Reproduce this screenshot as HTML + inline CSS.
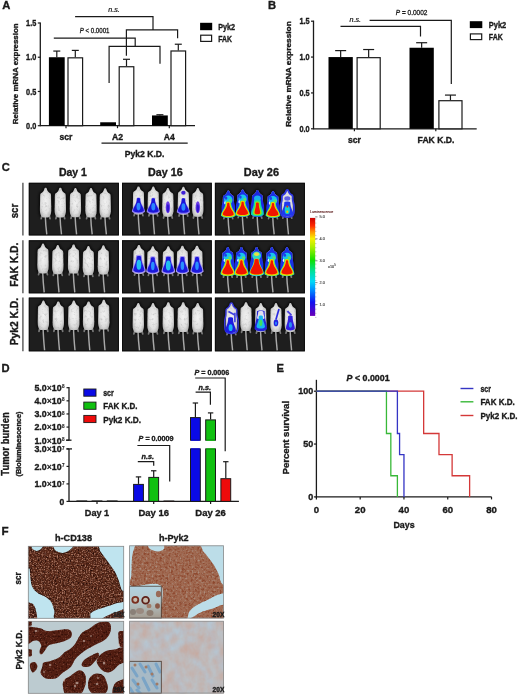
<!DOCTYPE html>
<html><head><meta charset="utf-8"><style>
html,body{margin:0;padding:0;background:#fff;}
body{width:520px;height:696px;overflow:hidden;}
svg{display:block;font-family:"Liberation Sans", sans-serif;filter:blur(0.3px);}
</style></head><body>
<svg width="520" height="696" viewBox="0 0 520 696">
<rect width="520" height="696" fill="#fff"/>
<text x="2.2" y="9.4" font-size="11.2" font-weight="bold" font-style="normal" text-anchor="start" fill="#1a1a1a"  stroke="#1a1a1a" stroke-width="0.35">A</text>
<line x1="40.3" y1="22.4" x2="40.3" y2="126.3" stroke="#1a1a1a" stroke-width="1.3"/>
<line x1="40.3" y1="125.7" x2="195" y2="125.7" stroke="#1a1a1a" stroke-width="1.3"/>
<line x1="37.8" y1="23.0" x2="40.3" y2="23.0" stroke="#1a1a1a" stroke-width="1.2"/>
<text x="36.3" y="26.1" font-size="8.8" font-weight="bold" font-style="normal" text-anchor="end" fill="#1a1a1a" textLength="10.2" lengthAdjust="spacingAndGlyphs"  stroke="#1a1a1a" stroke-width="0.35">1.5</text>
<line x1="37.8" y1="57.233333333333334" x2="40.3" y2="57.233333333333334" stroke="#1a1a1a" stroke-width="1.2"/>
<text x="36.3" y="60.333333333333336" font-size="8.8" font-weight="bold" font-style="normal" text-anchor="end" fill="#1a1a1a" textLength="10.2" lengthAdjust="spacingAndGlyphs"  stroke="#1a1a1a" stroke-width="0.35">1.0</text>
<line x1="37.8" y1="91.46666666666667" x2="40.3" y2="91.46666666666667" stroke="#1a1a1a" stroke-width="1.2"/>
<text x="36.3" y="94.56666666666666" font-size="8.8" font-weight="bold" font-style="normal" text-anchor="end" fill="#1a1a1a" textLength="10.2" lengthAdjust="spacingAndGlyphs"  stroke="#1a1a1a" stroke-width="0.35">0.5</text>
<line x1="37.8" y1="125.7" x2="40.3" y2="125.7" stroke="#1a1a1a" stroke-width="1.2"/>
<text x="36.3" y="128.8" font-size="8.8" font-weight="bold" font-style="normal" text-anchor="end" fill="#1a1a1a" textLength="10.2" lengthAdjust="spacingAndGlyphs"  stroke="#1a1a1a" stroke-width="0.35">0.0</text>
<text transform="translate(18.3,73.8) rotate(-90)" x="0" y="0" font-size="7.8" font-weight="bold" text-anchor="middle" fill="#1a1a1a" textLength="101" lengthAdjust="spacingAndGlyphs" stroke="#1a1a1a" stroke-width="0.35">Relative mRNA expression</text>
<line x1="56.8" y1="51.07133333333333" x2="56.8" y2="57.233333333333334" stroke="#1a1a1a" stroke-width="1.2"/>
<line x1="53.3" y1="51.07133333333333" x2="60.3" y2="51.07133333333333" stroke="#1a1a1a" stroke-width="1.2"/>
<rect x="48.9" y="57.233333333333334" width="15.8" height="68.46666666666667" fill="#000"/>
<line x1="75.30000000000001" y1="50.386666666666656" x2="75.30000000000001" y2="57.233333333333334" stroke="#1a1a1a" stroke-width="1.2"/>
<line x1="71.80000000000001" y1="50.386666666666656" x2="78.80000000000001" y2="50.386666666666656" stroke="#1a1a1a" stroke-width="1.2"/>
<rect x="68.0" y="57.833333333333336" width="14.600000000000001" height="67.86666666666667" fill="#fff" stroke="#1a1a1a" stroke-width="1.2"/>
<rect x="100.2" y="122.27666666666667" width="15.8" height="3.423333333333332" fill="#000"/>
<line x1="126.5" y1="59.287333333333336" x2="126.5" y2="66.134" stroke="#1a1a1a" stroke-width="1.2"/>
<line x1="123.0" y1="59.287333333333336" x2="130.0" y2="59.287333333333336" stroke="#1a1a1a" stroke-width="1.2"/>
<rect x="119.19999999999999" y="66.734" width="14.600000000000001" height="58.966" fill="#fff" stroke="#1a1a1a" stroke-width="1.2"/>
<line x1="159.9" y1="114.74533333333333" x2="159.9" y2="115.43" stroke="#1a1a1a" stroke-width="1.2"/>
<line x1="156.4" y1="114.74533333333333" x2="163.4" y2="114.74533333333333" stroke="#1a1a1a" stroke-width="1.2"/>
<rect x="152.0" y="115.43" width="15.8" height="10.269999999999996" fill="#000"/>
<line x1="178.3" y1="44.22466666666668" x2="178.3" y2="50.386666666666656" stroke="#1a1a1a" stroke-width="1.2"/>
<line x1="174.8" y1="44.22466666666668" x2="181.8" y2="44.22466666666668" stroke="#1a1a1a" stroke-width="1.2"/>
<rect x="171.0" y="50.98666666666666" width="14.600000000000001" height="74.71333333333335" fill="#fff" stroke="#1a1a1a" stroke-width="1.2"/>
<line x1="66" y1="125.7" x2="66" y2="128.2" stroke="#1a1a1a" stroke-width="1.2"/>
<line x1="117.5" y1="125.7" x2="117.5" y2="128.2" stroke="#1a1a1a" stroke-width="1.2"/>
<line x1="169.3" y1="125.7" x2="169.3" y2="128.2" stroke="#1a1a1a" stroke-width="1.2"/>
<text x="66" y="140" font-size="8.6" font-weight="bold" font-style="normal" text-anchor="middle" fill="#1a1a1a"  stroke="#1a1a1a" stroke-width="0.35">scr</text>
<text x="117.5" y="140" font-size="8.6" font-weight="bold" font-style="normal" text-anchor="middle" fill="#1a1a1a"  stroke="#1a1a1a" stroke-width="0.35">A2</text>
<text x="169.3" y="140" font-size="8.6" font-weight="bold" font-style="normal" text-anchor="middle" fill="#1a1a1a"  stroke="#1a1a1a" stroke-width="0.35">A4</text>
<line x1="101.5" y1="143.1" x2="187.7" y2="143.1" stroke="#1a1a1a" stroke-width="1.3"/>
<text x="144.6" y="156.6" font-size="8.6" font-weight="bold" font-style="normal" text-anchor="middle" fill="#1a1a1a"  stroke="#1a1a1a" stroke-width="0.35">Pyk2 K.D.</text>
<polyline points="75.1,16.7 153,16.7 153,30" fill="none" stroke="#1a1a1a" stroke-width="1.2"/>
<polyline points="126.4,55.8 126.4,29.8 177.6,29.8 177.6,38.2" fill="none" stroke="#1a1a1a" stroke-width="1.2"/>
<polyline points="53.8,38.1 135.2,38.1 135.2,46.3" fill="none" stroke="#1a1a1a" stroke-width="1.2"/>
<polyline points="109.1,83 109.1,46.3 160,46.3 160,63.8" fill="none" stroke="#1a1a1a" stroke-width="1.2"/>
<text x="108.2" y="11.8" font-size="7.2" font-weight="normal" font-style="italic" text-anchor="start" fill="#1a1a1a" stroke="#1a1a1a" stroke-width="0.2">n.s.</text>
<text x="79.7" y="33.2" font-size="7.2" fill="#1a1a1a" stroke="#1a1a1a" stroke-width="0.3" textLength="29.8" lengthAdjust="spacingAndGlyphs"><tspan font-style="italic">P</tspan> &lt; 0.0001</text>
<rect x="200.1" y="22.8" width="12.1" height="7.4" fill="#000"/>
<rect x="200.7" y="35.2" width="10.9" height="6.2" fill="#fff" stroke="#1a1a1a" stroke-width="1.2"/>
<text x="218.3" y="30.3" font-size="8.6" font-weight="bold" font-style="normal" text-anchor="start" fill="#1a1a1a" textLength="16.8" lengthAdjust="spacingAndGlyphs"  stroke="#1a1a1a" stroke-width="0.35">Pyk2</text>
<text x="218.3" y="41.6" font-size="8.6" font-weight="bold" font-style="normal" text-anchor="start" fill="#1a1a1a" textLength="13.7" lengthAdjust="spacingAndGlyphs"  stroke="#1a1a1a" stroke-width="0.35">FAK</text>
<text x="268" y="9.3" font-size="11.2" font-weight="bold" font-style="normal" text-anchor="start" fill="#1a1a1a"  stroke="#1a1a1a" stroke-width="0.35">B</text>
<line x1="313.5" y1="20.599999999999998" x2="313.5" y2="129.4" stroke="#1a1a1a" stroke-width="1.3"/>
<line x1="313.5" y1="128.8" x2="476.7" y2="128.8" stroke="#1a1a1a" stroke-width="1.3"/>
<line x1="311.0" y1="21.200000000000003" x2="313.5" y2="21.200000000000003" stroke="#1a1a1a" stroke-width="1.2"/>
<text x="309.6" y="24.300000000000004" font-size="8.8" font-weight="bold" font-style="normal" text-anchor="end" fill="#1a1a1a" textLength="10.2" lengthAdjust="spacingAndGlyphs"  stroke="#1a1a1a" stroke-width="0.35">1.5</text>
<line x1="311.0" y1="57.06666666666668" x2="313.5" y2="57.06666666666668" stroke="#1a1a1a" stroke-width="1.2"/>
<text x="309.6" y="60.16666666666668" font-size="8.8" font-weight="bold" font-style="normal" text-anchor="end" fill="#1a1a1a" textLength="10.2" lengthAdjust="spacingAndGlyphs"  stroke="#1a1a1a" stroke-width="0.35">1.0</text>
<line x1="311.0" y1="92.93333333333334" x2="313.5" y2="92.93333333333334" stroke="#1a1a1a" stroke-width="1.2"/>
<text x="309.6" y="96.03333333333333" font-size="8.8" font-weight="bold" font-style="normal" text-anchor="end" fill="#1a1a1a" textLength="10.2" lengthAdjust="spacingAndGlyphs"  stroke="#1a1a1a" stroke-width="0.35">0.5</text>
<line x1="311.0" y1="128.8" x2="313.5" y2="128.8" stroke="#1a1a1a" stroke-width="1.2"/>
<text x="309.6" y="131.9" font-size="8.8" font-weight="bold" font-style="normal" text-anchor="end" fill="#1a1a1a" textLength="10.2" lengthAdjust="spacingAndGlyphs"  stroke="#1a1a1a" stroke-width="0.35">0.0</text>
<text transform="translate(290.6,74.0) rotate(-90)" x="0" y="0" font-size="7.6" font-weight="bold" text-anchor="middle" fill="#1a1a1a" textLength="105.5" lengthAdjust="spacingAndGlyphs" stroke="#1a1a1a" stroke-width="0.35">Relative mRNA expression</text>
<line x1="340.65" y1="50.61066666666666" x2="340.65" y2="57.06666666666668" stroke="#1a1a1a" stroke-width="1.2"/>
<line x1="335.15" y1="50.61066666666666" x2="346.15" y2="50.61066666666666" stroke="#1a1a1a" stroke-width="1.2"/>
<rect x="328.5" y="57.06666666666668" width="24.3" height="71.73333333333333" fill="#000"/>
<line x1="368.65" y1="49.534666666666666" x2="368.65" y2="57.06666666666668" stroke="#1a1a1a" stroke-width="1.2"/>
<line x1="363.15" y1="49.534666666666666" x2="374.15" y2="49.534666666666666" stroke="#1a1a1a" stroke-width="1.2"/>
<rect x="357.1" y="57.66666666666668" width="23.1" height="71.13333333333334" fill="#fff" stroke="#1a1a1a" stroke-width="1.2"/>
<line x1="421.65" y1="42.72000000000001" x2="421.65" y2="47.741333333333344" stroke="#1a1a1a" stroke-width="1.2"/>
<line x1="416.15" y1="42.72000000000001" x2="427.15" y2="42.72000000000001" stroke="#1a1a1a" stroke-width="1.2"/>
<rect x="409.5" y="47.741333333333344" width="24.3" height="81.05866666666667" fill="#000"/>
<line x1="450.45" y1="95.08533333333335" x2="450.45" y2="100.10666666666667" stroke="#1a1a1a" stroke-width="1.2"/>
<line x1="444.95" y1="95.08533333333335" x2="455.95" y2="95.08533333333335" stroke="#1a1a1a" stroke-width="1.2"/>
<rect x="438.90000000000003" y="100.70666666666666" width="23.1" height="28.09333333333334" fill="#fff" stroke="#1a1a1a" stroke-width="1.2"/>
<line x1="354.4" y1="128.8" x2="354.4" y2="131.3" stroke="#1a1a1a" stroke-width="1.2"/>
<line x1="435.8" y1="128.8" x2="435.8" y2="131.3" stroke="#1a1a1a" stroke-width="1.2"/>
<text x="354.5" y="143.2" font-size="8.6" font-weight="bold" font-style="normal" text-anchor="middle" fill="#1a1a1a"  stroke="#1a1a1a" stroke-width="0.35">scr</text>
<text x="436" y="143.2" font-size="8.6" font-weight="bold" font-style="normal" text-anchor="middle" fill="#1a1a1a"  stroke="#1a1a1a" stroke-width="0.35">FAK K.D.</text>
<polyline points="340.5,26.4 420.5,26.4 420.5,36.4" fill="none" stroke="#1a1a1a" stroke-width="1.2"/>
<polyline points="369.6,20.4 451.3,20.4 451.3,84" fill="none" stroke="#1a1a1a" stroke-width="1.2"/>
<text x="349.5" y="22.4" font-size="7.2" font-weight="normal" font-style="italic" text-anchor="start" fill="#1a1a1a" stroke="#1a1a1a" stroke-width="0.2">n.s.</text>
<text x="395.8" y="14.8" font-size="7.2" fill="#1a1a1a" stroke="#1a1a1a" stroke-width="0.3" textLength="31.7" lengthAdjust="spacingAndGlyphs"><tspan font-style="italic">P</tspan> = 0.0002</text>
<rect x="469.8" y="21.2" width="12.5" height="6.9" fill="#000"/>
<rect x="470.4" y="33.9" width="11.3" height="5.7" fill="#fff" stroke="#1a1a1a" stroke-width="1.2"/>
<text x="488.8" y="28.3" font-size="8.6" font-weight="bold" font-style="normal" text-anchor="start" fill="#1a1a1a" textLength="17.4" lengthAdjust="spacingAndGlyphs"  stroke="#1a1a1a" stroke-width="0.35">Pyk2</text>
<text x="488.8" y="40.0" font-size="8.6" font-weight="bold" font-style="normal" text-anchor="start" fill="#1a1a1a" textLength="14.0" lengthAdjust="spacingAndGlyphs"  stroke="#1a1a1a" stroke-width="0.35">FAK</text>
<defs>
<filter color-interpolation-filters="sRGB" id="bl6" x="-20%" y="-20%" width="140%" height="140%"><feGaussianBlur stdDeviation="0.5"/></filter>
<filter color-interpolation-filters="sRGB" id="bl8" x="-50%" y="-50%" width="200%" height="200%"><feGaussianBlur stdDeviation="0.75"/></filter>
<filter color-interpolation-filters="sRGB" id="bl12" x="-50%" y="-50%" width="200%" height="200%"><feGaussianBlur stdDeviation="1.2"/></filter>
<filter color-interpolation-filters="sRGB" id="mtex" x="0" y="0" width="100%" height="100%"><feTurbulence type="fractalNoise" baseFrequency="0.38" numOctaves="2" seed="3" result="n"/>
<feColorMatrix in="n" type="matrix" values="0 0 0 0 0.72  0 0 0 0 0.72  0 0 0 0 0.72  0 0 0 -1.8 0.85" result="sp"/>
<feComposite in="sp" in2="SourceGraphic" operator="in" result="sp2"/>
<feMerge><feMergeNode in="SourceGraphic"/><feMergeNode in="sp2"/></feMerge></filter>
<radialGradient id="mg" cx="0.5" cy="0.5" r="0.62"><stop offset="0" stop-color="#f2f2f2"/><stop offset="0.6" stop-color="#e0e0e0"/><stop offset="1" stop-color="#a8a8a8"/></radialGradient>
<linearGradient id="lum" x1="0" y1="0" x2="0" y2="1">
<stop offset="0" stop-color="#c80000"/><stop offset="0.08" stop-color="#ff2800"/><stop offset="0.14" stop-color="#ff9000"/><stop offset="0.21" stop-color="#f8f000"/>
<stop offset="0.3" stop-color="#a8f000"/><stop offset="0.43" stop-color="#10e000"/><stop offset="0.55" stop-color="#00e0a0"/><stop offset="0.65" stop-color="#00d8f8"/>
<stop offset="0.75" stop-color="#0080ff"/><stop offset="0.86" stop-color="#1010f0"/><stop offset="1" stop-color="#6a00b8"/></linearGradient>
</defs>
<rect x="28.8" y="182.8" width="90.10000000000001" height="52.599999999999994" fill="#1e1e1e"/>
<rect x="29.3" y="183.3" width="89.10000000000001" height="51.599999999999994" fill="none" stroke="#0c0c0c" stroke-width="1"/>
<rect x="28.8" y="240.3" width="90.10000000000001" height="53.0" fill="#1e1e1e"/>
<rect x="29.3" y="240.8" width="89.10000000000001" height="52.0" fill="none" stroke="#0c0c0c" stroke-width="1"/>
<rect x="28.8" y="297.6" width="90.10000000000001" height="53.69999999999999" fill="#1e1e1e"/>
<rect x="29.3" y="298.1" width="89.10000000000001" height="52.69999999999999" fill="none" stroke="#0c0c0c" stroke-width="1"/>
<rect x="122" y="182.8" width="89.80000000000001" height="52.599999999999994" fill="#1e1e1e"/>
<rect x="122.5" y="183.3" width="88.80000000000001" height="51.599999999999994" fill="none" stroke="#0c0c0c" stroke-width="1"/>
<rect x="122" y="240.3" width="89.80000000000001" height="53.0" fill="#1e1e1e"/>
<rect x="122.5" y="240.8" width="88.80000000000001" height="52.0" fill="none" stroke="#0c0c0c" stroke-width="1"/>
<rect x="122" y="297.6" width="89.80000000000001" height="53.69999999999999" fill="#1e1e1e"/>
<rect x="122.5" y="298.1" width="88.80000000000001" height="52.69999999999999" fill="none" stroke="#0c0c0c" stroke-width="1"/>
<rect x="214.9" y="182.8" width="89.99999999999997" height="52.599999999999994" fill="#1e1e1e"/>
<rect x="215.4" y="183.3" width="88.99999999999997" height="51.599999999999994" fill="none" stroke="#0c0c0c" stroke-width="1"/>
<rect x="214.9" y="240.3" width="89.99999999999997" height="53.0" fill="#1e1e1e"/>
<rect x="215.4" y="240.8" width="88.99999999999997" height="52.0" fill="none" stroke="#0c0c0c" stroke-width="1"/>
<rect x="214.9" y="297.6" width="89.99999999999997" height="53.69999999999999" fill="#1e1e1e"/>
<rect x="215.4" y="298.1" width="88.99999999999997" height="52.69999999999999" fill="none" stroke="#0c0c0c" stroke-width="1"/>
<text x="72.9" y="176.2" font-size="10.6" font-weight="bold" font-style="normal" text-anchor="middle" fill="#1a1a1a" textLength="28" lengthAdjust="spacingAndGlyphs"  stroke="#1a1a1a" stroke-width="0.35">Day 1</text>
<text x="165.4" y="176.2" font-size="10.6" font-weight="bold" font-style="normal" text-anchor="middle" fill="#1a1a1a" textLength="34.6" lengthAdjust="spacingAndGlyphs"  stroke="#1a1a1a" stroke-width="0.35">Day 16</text>
<text x="261.4" y="176.2" font-size="10.6" font-weight="bold" font-style="normal" text-anchor="middle" fill="#1a1a1a" textLength="35.2" lengthAdjust="spacingAndGlyphs"  stroke="#1a1a1a" stroke-width="0.35">Day 26</text>
<line x1="22.9" y1="182.8" x2="22.9" y2="235.4" stroke="#606060" stroke-width="1.5"/>
<text transform="translate(18.4,211) rotate(-90)" font-size="10.4" font-weight="bold" text-anchor="middle" fill="#1a1a1a" textLength="14.6" lengthAdjust="spacingAndGlyphs" stroke="#1a1a1a" stroke-width="0.35">scr</text>
<line x1="22.9" y1="240.3" x2="22.9" y2="293.3" stroke="#606060" stroke-width="1.5"/>
<text transform="translate(18.4,264.7) rotate(-90)" font-size="10.4" font-weight="bold" text-anchor="middle" fill="#1a1a1a" textLength="43.9" lengthAdjust="spacingAndGlyphs" stroke="#1a1a1a" stroke-width="0.35">FAK K.D.</text>
<line x1="22.9" y1="297.6" x2="22.9" y2="351.3" stroke="#606060" stroke-width="1.5"/>
<text transform="translate(18.4,321.6) rotate(-90)" font-size="10.4" font-weight="bold" text-anchor="middle" fill="#1a1a1a" textLength="47.4" lengthAdjust="spacingAndGlyphs" stroke="#1a1a1a" stroke-width="0.35">Pyk2 K.D.</text>
<g filter="url(#bl12)" opacity="0.8">
<path d="M45.6,187.7 C45.9,187.7 46.2,187.8 46.5,188.1 C46.8,188.4 46.9,189.2 47.1,189.7 C47.3,190.2 47.5,190.7 47.8,191.2 C48.1,191.6 48.5,192.0 49.0,192.4 C49.5,192.8 50.2,193.0 50.5,193.5 C50.8,193.9 50.9,194.1 51.0,195.0 C51.1,196.0 51.1,197.6 51.1,199.2 C51.1,200.8 51.2,202.8 51.2,204.4 C51.2,206.1 51.3,207.7 51.3,209.2 C51.3,210.6 51.2,212.2 51.0,213.3 C50.8,214.5 50.3,215.5 49.8,216.2 C49.3,216.8 48.9,217.2 47.8,217.4 C46.7,217.6 44.5,217.6 43.4,217.4 C42.3,217.2 41.9,216.8 41.4,216.2 C40.9,215.5 40.5,214.5 40.2,213.3 C40.0,212.2 39.9,210.6 39.9,209.2 C39.9,207.7 40.0,206.1 40.0,204.4 C40.0,202.8 40.1,200.8 40.1,199.2 C40.1,197.6 40.1,196.0 40.2,195.0 C40.3,194.1 40.4,193.9 40.7,193.5 C41.0,193.0 41.8,192.8 42.2,192.4 C42.7,192.0 43.1,191.6 43.4,191.2 C43.7,190.7 43.9,190.2 44.1,189.7 C44.3,189.2 44.5,188.4 44.7,188.1 C45.0,187.8 45.3,187.7 45.6,187.7 Z" fill="#050505" stroke="#050505" stroke-width="2.6"/>
<path d="M60.3,187.7 C60.6,187.7 60.9,187.8 61.2,188.1 C61.4,188.4 61.6,189.2 61.8,189.7 C62.0,190.2 62.2,190.7 62.5,191.2 C62.8,191.6 63.2,192.0 63.7,192.4 C64.1,192.8 64.9,193.0 65.2,193.5 C65.5,193.9 65.6,194.1 65.7,195.0 C65.8,196.0 65.8,197.6 65.8,199.2 C65.8,200.8 65.9,202.8 65.9,204.4 C65.9,206.1 66.0,207.7 66.0,209.2 C66.0,210.6 66.0,212.2 65.7,213.3 C65.5,214.5 65.0,215.5 64.5,216.2 C64.0,216.8 63.6,217.2 62.5,217.4 C61.4,217.6 59.2,217.6 58.1,217.4 C57.0,217.2 56.6,216.8 56.1,216.2 C55.6,215.5 55.1,214.5 54.9,213.3 C54.6,212.2 54.6,210.6 54.6,209.2 C54.6,207.7 54.7,206.1 54.7,204.4 C54.7,202.8 54.8,200.8 54.8,199.2 C54.8,197.6 54.8,196.0 54.9,195.0 C55.0,194.1 55.1,193.9 55.4,193.5 C55.7,193.0 56.5,192.8 56.9,192.4 C57.3,192.0 57.8,191.6 58.1,191.2 C58.4,190.7 58.6,190.2 58.8,189.7 C59.0,189.2 59.1,188.4 59.4,188.1 C59.6,187.8 60.0,187.7 60.3,187.7 Z" fill="#050505" stroke="#050505" stroke-width="2.6"/>
<path d="M75.4,188.0 C75.7,188.0 76.1,188.1 76.3,188.4 C76.6,188.7 76.7,189.5 76.9,190.0 C77.1,190.5 77.3,190.9 77.6,191.4 C77.9,191.8 78.4,192.3 78.8,192.6 C79.3,193.0 80.0,193.2 80.3,193.7 C80.6,194.1 80.7,194.3 80.8,195.2 C80.9,196.1 80.9,197.8 80.9,199.3 C80.9,200.9 81.0,202.8 81.0,204.5 C81.0,206.1 81.1,207.6 81.1,209.1 C81.1,210.5 81.1,212.1 80.8,213.2 C80.6,214.3 80.1,215.3 79.6,216.0 C79.1,216.6 78.7,217.0 77.6,217.2 C76.5,217.4 74.3,217.4 73.2,217.2 C72.1,217.0 71.7,216.6 71.2,216.0 C70.7,215.3 70.2,214.3 70.0,213.2 C69.8,212.1 69.7,210.5 69.7,209.1 C69.7,207.6 69.8,206.1 69.8,204.5 C69.8,202.8 69.9,200.9 69.9,199.3 C69.9,197.8 69.9,196.1 70.0,195.2 C70.1,194.3 70.2,194.1 70.5,193.7 C70.8,193.2 71.5,193.0 72.0,192.6 C72.5,192.3 72.9,191.8 73.2,191.4 C73.5,190.9 73.7,190.5 73.9,190.0 C74.1,189.5 74.2,188.7 74.5,188.4 C74.8,188.1 75.1,188.0 75.4,188.0 Z" fill="#050505" stroke="#050505" stroke-width="2.6"/>
<path d="M91.0,188.0 C91.3,188.0 91.7,188.1 91.9,188.4 C92.2,188.7 92.3,189.5 92.5,190.0 C92.7,190.5 92.9,191.0 93.2,191.4 C93.5,191.9 94.0,192.3 94.4,192.7 C94.9,193.0 95.6,193.3 95.9,193.7 C96.2,194.1 96.3,194.3 96.4,195.2 C96.5,196.2 96.5,197.8 96.5,199.4 C96.5,200.9 96.6,202.9 96.6,204.6 C96.6,206.2 96.7,207.8 96.7,209.2 C96.7,210.7 96.7,212.2 96.4,213.4 C96.2,214.5 95.7,215.5 95.2,216.2 C94.7,216.8 94.3,217.2 93.2,217.4 C92.1,217.6 89.9,217.6 88.8,217.4 C87.7,217.2 87.3,216.8 86.8,216.2 C86.3,215.5 85.8,214.5 85.6,213.4 C85.3,212.2 85.3,210.7 85.3,209.2 C85.3,207.8 85.4,206.2 85.4,204.6 C85.4,202.9 85.5,200.9 85.5,199.4 C85.5,197.8 85.5,196.2 85.6,195.2 C85.7,194.3 85.8,194.1 86.1,193.7 C86.4,193.3 87.1,193.0 87.6,192.7 C88.0,192.3 88.5,191.9 88.8,191.4 C89.1,191.0 89.3,190.5 89.5,190.0 C89.7,189.5 89.8,188.7 90.1,188.4 C90.3,188.1 90.7,188.0 91.0,188.0 Z" fill="#050505" stroke="#050505" stroke-width="2.6"/>
<path d="M105.2,188.3 C105.5,188.3 105.9,188.4 106.1,188.7 C106.4,189.0 106.5,189.8 106.7,190.3 C106.9,190.8 107.1,191.2 107.4,191.7 C107.7,192.1 108.2,192.6 108.6,192.9 C109.1,193.3 109.8,193.5 110.1,194.0 C110.4,194.4 110.5,194.6 110.6,195.5 C110.7,196.4 110.7,198.1 110.7,199.6 C110.7,201.2 110.8,203.1 110.8,204.8 C110.8,206.4 110.9,207.9 110.9,209.4 C110.9,210.8 110.9,212.4 110.6,213.5 C110.4,214.6 109.9,215.6 109.4,216.3 C108.9,216.9 108.5,217.3 107.4,217.5 C106.3,217.7 104.1,217.7 103.0,217.5 C101.9,217.3 101.5,216.9 101.0,216.3 C100.5,215.6 100.0,214.6 99.8,213.5 C99.5,212.4 99.5,210.8 99.5,209.4 C99.5,207.9 99.6,206.4 99.6,204.8 C99.6,203.1 99.7,201.2 99.7,199.6 C99.7,198.1 99.7,196.4 99.8,195.5 C99.9,194.6 100.0,194.4 100.3,194.0 C100.6,193.5 101.3,193.3 101.8,192.9 C102.2,192.6 102.7,192.1 103.0,191.7 C103.3,191.2 103.5,190.8 103.7,190.3 C103.9,189.8 104.0,189.0 104.3,188.7 C104.5,188.4 104.9,188.3 105.2,188.3 Z" fill="#050505" stroke="#050505" stroke-width="2.6"/>
</g>
<g filter="url(#bl6)">
<path d="M45.300000000000004,216.0 Q45.6,225.0 46.800000000000004,234.4" stroke="#a8a8a8" stroke-width="1.45" fill="none"/>
<path d="M42.0,215.5 L41.2,218.6 M49.2,215.5 L50.0,218.6" stroke="#7a7a7a" stroke-width="1.8" stroke-linecap="round"/>
<path d="M60.0,216.0 Q60.3,225.0 61.5,234.4" stroke="#a8a8a8" stroke-width="1.45" fill="none"/>
<path d="M56.699999999999996,215.5 L55.9,218.6 M63.9,215.5 L64.7,218.6" stroke="#7a7a7a" stroke-width="1.8" stroke-linecap="round"/>
<path d="M75.10000000000001,215.8 Q75.4,224.8 76.60000000000001,234.4" stroke="#a8a8a8" stroke-width="1.45" fill="none"/>
<path d="M71.80000000000001,215.3 L71.0,218.4 M79.0,215.3 L79.80000000000001,218.4" stroke="#7a7a7a" stroke-width="1.8" stroke-linecap="round"/>
<path d="M90.7,216.0 Q91.0,225.0 92.2,234.4" stroke="#a8a8a8" stroke-width="1.45" fill="none"/>
<path d="M87.4,215.5 L86.6,218.6 M94.6,215.5 L95.4,218.6" stroke="#7a7a7a" stroke-width="1.8" stroke-linecap="round"/>
<path d="M104.9,216.10000000000002 Q105.2,225.10000000000002 106.4,234.4" stroke="#a8a8a8" stroke-width="1.45" fill="none"/>
<path d="M101.60000000000001,215.60000000000002 L100.8,218.70000000000002 M108.8,215.60000000000002 L109.60000000000001,218.70000000000002" stroke="#7a7a7a" stroke-width="1.8" stroke-linecap="round"/>
</g>
<g filter="url(#bl6)"><g filter="url(#mtex)">
<path d="M45.6,187.7 C45.9,187.7 46.2,187.8 46.5,188.1 C46.8,188.4 46.9,189.2 47.1,189.7 C47.3,190.2 47.5,190.7 47.8,191.2 C48.1,191.6 48.5,192.0 49.0,192.4 C49.5,192.8 50.2,193.0 50.5,193.5 C50.8,193.9 50.9,194.1 51.0,195.0 C51.1,196.0 51.1,197.6 51.1,199.2 C51.1,200.8 51.2,202.8 51.2,204.4 C51.2,206.1 51.3,207.7 51.3,209.2 C51.3,210.6 51.2,212.2 51.0,213.3 C50.8,214.5 50.3,215.5 49.8,216.2 C49.3,216.8 48.9,217.2 47.8,217.4 C46.7,217.6 44.5,217.6 43.4,217.4 C42.3,217.2 41.9,216.8 41.4,216.2 C40.9,215.5 40.5,214.5 40.2,213.3 C40.0,212.2 39.9,210.6 39.9,209.2 C39.9,207.7 40.0,206.1 40.0,204.4 C40.0,202.8 40.1,200.8 40.1,199.2 C40.1,197.6 40.1,196.0 40.2,195.0 C40.3,194.1 40.4,193.9 40.7,193.5 C41.0,193.0 41.8,192.8 42.2,192.4 C42.7,192.0 43.1,191.6 43.4,191.2 C43.7,190.7 43.9,190.2 44.1,189.7 C44.3,189.2 44.5,188.4 44.7,188.1 C45.0,187.8 45.3,187.7 45.6,187.7 Z" fill="url(#mg)"/>
<path d="M60.3,187.7 C60.6,187.7 60.9,187.8 61.2,188.1 C61.4,188.4 61.6,189.2 61.8,189.7 C62.0,190.2 62.2,190.7 62.5,191.2 C62.8,191.6 63.2,192.0 63.7,192.4 C64.1,192.8 64.9,193.0 65.2,193.5 C65.5,193.9 65.6,194.1 65.7,195.0 C65.8,196.0 65.8,197.6 65.8,199.2 C65.8,200.8 65.9,202.8 65.9,204.4 C65.9,206.1 66.0,207.7 66.0,209.2 C66.0,210.6 66.0,212.2 65.7,213.3 C65.5,214.5 65.0,215.5 64.5,216.2 C64.0,216.8 63.6,217.2 62.5,217.4 C61.4,217.6 59.2,217.6 58.1,217.4 C57.0,217.2 56.6,216.8 56.1,216.2 C55.6,215.5 55.1,214.5 54.9,213.3 C54.6,212.2 54.6,210.6 54.6,209.2 C54.6,207.7 54.7,206.1 54.7,204.4 C54.7,202.8 54.8,200.8 54.8,199.2 C54.8,197.6 54.8,196.0 54.9,195.0 C55.0,194.1 55.1,193.9 55.4,193.5 C55.7,193.0 56.5,192.8 56.9,192.4 C57.3,192.0 57.8,191.6 58.1,191.2 C58.4,190.7 58.6,190.2 58.8,189.7 C59.0,189.2 59.1,188.4 59.4,188.1 C59.6,187.8 60.0,187.7 60.3,187.7 Z" fill="url(#mg)"/>
<path d="M75.4,188.0 C75.7,188.0 76.1,188.1 76.3,188.4 C76.6,188.7 76.7,189.5 76.9,190.0 C77.1,190.5 77.3,190.9 77.6,191.4 C77.9,191.8 78.4,192.3 78.8,192.6 C79.3,193.0 80.0,193.2 80.3,193.7 C80.6,194.1 80.7,194.3 80.8,195.2 C80.9,196.1 80.9,197.8 80.9,199.3 C80.9,200.9 81.0,202.8 81.0,204.5 C81.0,206.1 81.1,207.6 81.1,209.1 C81.1,210.5 81.1,212.1 80.8,213.2 C80.6,214.3 80.1,215.3 79.6,216.0 C79.1,216.6 78.7,217.0 77.6,217.2 C76.5,217.4 74.3,217.4 73.2,217.2 C72.1,217.0 71.7,216.6 71.2,216.0 C70.7,215.3 70.2,214.3 70.0,213.2 C69.8,212.1 69.7,210.5 69.7,209.1 C69.7,207.6 69.8,206.1 69.8,204.5 C69.8,202.8 69.9,200.9 69.9,199.3 C69.9,197.8 69.9,196.1 70.0,195.2 C70.1,194.3 70.2,194.1 70.5,193.7 C70.8,193.2 71.5,193.0 72.0,192.6 C72.5,192.3 72.9,191.8 73.2,191.4 C73.5,190.9 73.7,190.5 73.9,190.0 C74.1,189.5 74.2,188.7 74.5,188.4 C74.8,188.1 75.1,188.0 75.4,188.0 Z" fill="url(#mg)"/>
<path d="M91.0,188.0 C91.3,188.0 91.7,188.1 91.9,188.4 C92.2,188.7 92.3,189.5 92.5,190.0 C92.7,190.5 92.9,191.0 93.2,191.4 C93.5,191.9 94.0,192.3 94.4,192.7 C94.9,193.0 95.6,193.3 95.9,193.7 C96.2,194.1 96.3,194.3 96.4,195.2 C96.5,196.2 96.5,197.8 96.5,199.4 C96.5,200.9 96.6,202.9 96.6,204.6 C96.6,206.2 96.7,207.8 96.7,209.2 C96.7,210.7 96.7,212.2 96.4,213.4 C96.2,214.5 95.7,215.5 95.2,216.2 C94.7,216.8 94.3,217.2 93.2,217.4 C92.1,217.6 89.9,217.6 88.8,217.4 C87.7,217.2 87.3,216.8 86.8,216.2 C86.3,215.5 85.8,214.5 85.6,213.4 C85.3,212.2 85.3,210.7 85.3,209.2 C85.3,207.8 85.4,206.2 85.4,204.6 C85.4,202.9 85.5,200.9 85.5,199.4 C85.5,197.8 85.5,196.2 85.6,195.2 C85.7,194.3 85.8,194.1 86.1,193.7 C86.4,193.3 87.1,193.0 87.6,192.7 C88.0,192.3 88.5,191.9 88.8,191.4 C89.1,191.0 89.3,190.5 89.5,190.0 C89.7,189.5 89.8,188.7 90.1,188.4 C90.3,188.1 90.7,188.0 91.0,188.0 Z" fill="url(#mg)"/>
<path d="M105.2,188.3 C105.5,188.3 105.9,188.4 106.1,188.7 C106.4,189.0 106.5,189.8 106.7,190.3 C106.9,190.8 107.1,191.2 107.4,191.7 C107.7,192.1 108.2,192.6 108.6,192.9 C109.1,193.3 109.8,193.5 110.1,194.0 C110.4,194.4 110.5,194.6 110.6,195.5 C110.7,196.4 110.7,198.1 110.7,199.6 C110.7,201.2 110.8,203.1 110.8,204.8 C110.8,206.4 110.9,207.9 110.9,209.4 C110.9,210.8 110.9,212.4 110.6,213.5 C110.4,214.6 109.9,215.6 109.4,216.3 C108.9,216.9 108.5,217.3 107.4,217.5 C106.3,217.7 104.1,217.7 103.0,217.5 C101.9,217.3 101.5,216.9 101.0,216.3 C100.5,215.6 100.0,214.6 99.8,213.5 C99.5,212.4 99.5,210.8 99.5,209.4 C99.5,207.9 99.6,206.4 99.6,204.8 C99.6,203.1 99.7,201.2 99.7,199.6 C99.7,198.1 99.7,196.4 99.8,195.5 C99.9,194.6 100.0,194.4 100.3,194.0 C100.6,193.5 101.3,193.3 101.8,192.9 C102.2,192.6 102.7,192.1 103.0,191.7 C103.3,191.2 103.5,190.8 103.7,190.3 C103.9,189.8 104.0,189.0 104.3,188.7 C104.5,188.4 104.9,188.3 105.2,188.3 Z" fill="url(#mg)"/>
</g></g>
<g filter="url(#bl12)" opacity="0.8">
<path d="M138.5,186.4 C138.8,186.4 139.2,186.5 139.4,186.8 C139.7,187.1 139.8,187.8 140.0,188.3 C140.2,188.7 140.4,189.2 140.7,189.7 C141.0,190.1 141.4,190.5 141.9,190.8 C142.4,191.2 143.1,191.4 143.4,191.8 C143.7,192.2 143.8,192.4 143.9,193.3 C144.0,194.2 144.0,195.8 144.0,197.2 C144.0,198.7 144.1,200.6 144.1,202.2 C144.1,203.7 144.2,205.2 144.2,206.6 C144.2,208.0 144.2,209.4 143.9,210.6 C143.7,211.7 143.2,212.6 142.7,213.2 C142.2,213.9 141.8,214.2 140.7,214.4 C139.6,214.6 137.4,214.6 136.3,214.4 C135.2,214.2 134.8,213.9 134.3,213.2 C133.8,212.6 133.3,211.7 133.1,210.6 C132.8,209.4 132.8,208.0 132.8,206.6 C132.8,205.2 132.9,203.7 132.9,202.2 C132.9,200.6 133.0,198.7 133.0,197.2 C133.0,195.8 133.0,194.2 133.1,193.3 C133.2,192.4 133.3,192.2 133.6,191.8 C133.9,191.4 134.6,191.2 135.1,190.8 C135.6,190.5 136.0,190.1 136.3,189.7 C136.6,189.2 136.8,188.7 137.0,188.3 C137.2,187.8 137.3,187.1 137.6,186.8 C137.8,186.5 138.2,186.4 138.5,186.4 Z" fill="#050505" stroke="#050505" stroke-width="2.6"/>
<path d="M153.3,186.6 C153.6,186.6 154.0,186.7 154.2,187.0 C154.5,187.3 154.6,188.0 154.8,188.5 C155.0,188.9 155.2,189.4 155.5,189.9 C155.8,190.3 156.2,190.7 156.7,191.0 C157.2,191.4 157.9,191.6 158.2,192.0 C158.5,192.4 158.6,192.6 158.7,193.5 C158.8,194.4 158.8,196.0 158.8,197.4 C158.8,198.9 158.9,200.8 158.9,202.4 C158.9,203.9 159.0,205.4 159.0,206.8 C159.0,208.2 159.0,209.6 158.7,210.8 C158.5,211.9 158.0,212.8 157.5,213.4 C157.0,214.1 156.6,214.4 155.5,214.6 C154.4,214.8 152.2,214.8 151.1,214.6 C150.0,214.4 149.6,214.1 149.1,213.4 C148.6,212.8 148.2,211.9 147.9,210.8 C147.7,209.6 147.6,208.2 147.6,206.8 C147.6,205.4 147.7,203.9 147.7,202.4 C147.7,200.8 147.8,198.9 147.8,197.4 C147.8,196.0 147.8,194.4 147.9,193.5 C148.0,192.6 148.1,192.4 148.4,192.0 C148.7,191.6 149.4,191.4 149.9,191.0 C150.4,190.7 150.8,190.3 151.1,189.9 C151.4,189.4 151.6,188.9 151.8,188.5 C152.0,188.0 152.2,187.3 152.4,187.0 C152.7,186.7 153.0,186.6 153.3,186.6 Z" fill="#050505" stroke="#050505" stroke-width="2.6"/>
<path d="M167.9,188.0 C168.2,188.0 168.6,188.1 168.8,188.4 C169.1,188.7 169.2,189.4 169.4,189.9 C169.6,190.4 169.8,190.9 170.1,191.3 C170.4,191.8 170.9,192.2 171.3,192.6 C171.8,192.9 172.5,193.2 172.8,193.6 C173.1,194.0 173.2,194.2 173.3,195.1 C173.4,196.0 173.4,197.6 173.4,199.2 C173.4,200.7 173.5,202.6 173.5,204.2 C173.5,205.8 173.6,207.4 173.6,208.8 C173.6,210.2 173.6,211.7 173.3,212.8 C173.1,214.0 172.6,214.9 172.1,215.6 C171.6,216.2 171.2,216.6 170.1,216.8 C169.0,217.0 166.8,217.0 165.7,216.8 C164.6,216.6 164.2,216.2 163.7,215.6 C163.2,214.9 162.8,214.0 162.5,212.8 C162.2,211.7 162.2,210.2 162.2,208.8 C162.2,207.4 162.3,205.8 162.3,204.2 C162.3,202.6 162.4,200.7 162.4,199.2 C162.4,197.6 162.4,196.0 162.5,195.1 C162.6,194.2 162.7,194.0 163.0,193.6 C163.3,193.2 164.1,192.9 164.5,192.6 C164.9,192.2 165.4,191.8 165.7,191.3 C166.0,190.9 166.2,190.4 166.4,189.9 C166.6,189.4 166.8,188.7 167.0,188.4 C167.2,188.1 167.6,188.0 167.9,188.0 Z" fill="#050505" stroke="#050505" stroke-width="2.6"/>
<path d="M183.4,186.8 C183.7,186.8 184.1,186.9 184.3,187.2 C184.6,187.5 184.7,188.2 184.9,188.7 C185.1,189.1 185.3,189.6 185.6,190.1 C185.9,190.5 186.4,190.9 186.8,191.2 C187.2,191.6 188.0,191.8 188.3,192.2 C188.6,192.6 188.7,192.8 188.8,193.7 C188.9,194.6 188.9,196.2 188.9,197.6 C188.9,199.1 189.0,201.0 189.0,202.6 C189.0,204.1 189.1,205.6 189.1,207.0 C189.1,208.4 189.1,209.8 188.8,211.0 C188.6,212.1 188.1,213.0 187.6,213.6 C187.1,214.3 186.7,214.6 185.6,214.8 C184.5,215.0 182.3,215.0 181.2,214.8 C180.1,214.6 179.7,214.3 179.2,213.6 C178.7,213.0 178.2,212.1 178.0,211.0 C177.8,209.8 177.7,208.4 177.7,207.0 C177.7,205.6 177.8,204.1 177.8,202.6 C177.8,201.0 177.9,199.1 177.9,197.6 C177.9,196.2 177.9,194.6 178.0,193.7 C178.1,192.8 178.2,192.6 178.5,192.2 C178.8,191.8 179.6,191.6 180.0,191.2 C180.4,190.9 180.9,190.5 181.2,190.1 C181.5,189.6 181.7,189.1 181.9,188.7 C182.1,188.2 182.2,187.5 182.5,187.2 C182.8,186.9 183.1,186.8 183.4,186.8 Z" fill="#050505" stroke="#050505" stroke-width="2.6"/>
<path d="M197.8,188.0 C198.1,188.0 198.5,188.1 198.7,188.4 C199.0,188.7 199.1,189.4 199.3,189.9 C199.5,190.4 199.7,190.9 200.0,191.3 C200.3,191.8 200.8,192.2 201.2,192.6 C201.7,192.9 202.4,193.2 202.7,193.6 C203.0,194.0 203.1,194.2 203.2,195.1 C203.3,196.0 203.3,197.6 203.3,199.2 C203.3,200.7 203.4,202.6 203.4,204.2 C203.4,205.8 203.5,207.4 203.5,208.8 C203.5,210.2 203.5,211.7 203.2,212.8 C203.0,214.0 202.5,214.9 202.0,215.6 C201.5,216.2 201.1,216.6 200.0,216.8 C198.9,217.0 196.7,217.0 195.6,216.8 C194.5,216.6 194.1,216.2 193.6,215.6 C193.1,214.9 192.7,214.0 192.4,212.8 C192.2,211.7 192.1,210.2 192.1,208.8 C192.1,207.4 192.2,205.8 192.2,204.2 C192.2,202.6 192.3,200.7 192.3,199.2 C192.3,197.6 192.3,196.0 192.4,195.1 C192.5,194.2 192.6,194.0 192.9,193.6 C193.2,193.2 193.9,192.9 194.4,192.6 C194.9,192.2 195.3,191.8 195.6,191.3 C195.9,190.9 196.1,190.4 196.3,189.9 C196.5,189.4 196.7,188.7 196.9,188.4 C197.2,188.1 197.5,188.0 197.8,188.0 Z" fill="#050505" stroke="#050505" stroke-width="2.6"/>
</g>
<g filter="url(#bl6)">
<path d="M138.2,213.0 Q138.5,222.0 139.7,234.4" stroke="#a8a8a8" stroke-width="1.45" fill="none"/>
<path d="M134.9,212.5 L134.1,215.6 M142.1,212.5 L142.9,215.6" stroke="#7a7a7a" stroke-width="1.8" stroke-linecap="round"/>
<path d="M153.0,213.2 Q153.3,222.2 154.5,234.4" stroke="#a8a8a8" stroke-width="1.45" fill="none"/>
<path d="M149.70000000000002,212.7 L148.9,215.79999999999998 M156.9,212.7 L157.70000000000002,215.79999999999998" stroke="#7a7a7a" stroke-width="1.8" stroke-linecap="round"/>
<path d="M167.6,215.4 Q167.9,224.4 169.1,234.4" stroke="#a8a8a8" stroke-width="1.45" fill="none"/>
<path d="M164.3,214.9 L163.5,218.0 M171.5,214.9 L172.3,218.0" stroke="#7a7a7a" stroke-width="1.8" stroke-linecap="round"/>
<path d="M183.1,213.4 Q183.4,222.4 184.6,234.4" stroke="#a8a8a8" stroke-width="1.45" fill="none"/>
<path d="M179.8,212.9 L179.0,216.0 M187.0,212.9 L187.8,216.0" stroke="#7a7a7a" stroke-width="1.8" stroke-linecap="round"/>
<path d="M197.5,215.4 Q197.8,224.4 199.0,234.4" stroke="#a8a8a8" stroke-width="1.45" fill="none"/>
<path d="M194.20000000000002,214.9 L193.4,218.0 M201.4,214.9 L202.20000000000002,218.0" stroke="#7a7a7a" stroke-width="1.8" stroke-linecap="round"/>
</g>
<g filter="url(#bl6)"><g filter="url(#mtex)">
<path d="M138.5,186.4 C138.8,186.4 139.2,186.5 139.4,186.8 C139.7,187.1 139.8,187.8 140.0,188.3 C140.2,188.7 140.4,189.2 140.7,189.7 C141.0,190.1 141.4,190.5 141.9,190.8 C142.4,191.2 143.1,191.4 143.4,191.8 C143.7,192.2 143.8,192.4 143.9,193.3 C144.0,194.2 144.0,195.8 144.0,197.2 C144.0,198.7 144.1,200.6 144.1,202.2 C144.1,203.7 144.2,205.2 144.2,206.6 C144.2,208.0 144.2,209.4 143.9,210.6 C143.7,211.7 143.2,212.6 142.7,213.2 C142.2,213.9 141.8,214.2 140.7,214.4 C139.6,214.6 137.4,214.6 136.3,214.4 C135.2,214.2 134.8,213.9 134.3,213.2 C133.8,212.6 133.3,211.7 133.1,210.6 C132.8,209.4 132.8,208.0 132.8,206.6 C132.8,205.2 132.9,203.7 132.9,202.2 C132.9,200.6 133.0,198.7 133.0,197.2 C133.0,195.8 133.0,194.2 133.1,193.3 C133.2,192.4 133.3,192.2 133.6,191.8 C133.9,191.4 134.6,191.2 135.1,190.8 C135.6,190.5 136.0,190.1 136.3,189.7 C136.6,189.2 136.8,188.7 137.0,188.3 C137.2,187.8 137.3,187.1 137.6,186.8 C137.8,186.5 138.2,186.4 138.5,186.4 Z" fill="url(#mg)"/>
<path d="M153.3,186.6 C153.6,186.6 154.0,186.7 154.2,187.0 C154.5,187.3 154.6,188.0 154.8,188.5 C155.0,188.9 155.2,189.4 155.5,189.9 C155.8,190.3 156.2,190.7 156.7,191.0 C157.2,191.4 157.9,191.6 158.2,192.0 C158.5,192.4 158.6,192.6 158.7,193.5 C158.8,194.4 158.8,196.0 158.8,197.4 C158.8,198.9 158.9,200.8 158.9,202.4 C158.9,203.9 159.0,205.4 159.0,206.8 C159.0,208.2 159.0,209.6 158.7,210.8 C158.5,211.9 158.0,212.8 157.5,213.4 C157.0,214.1 156.6,214.4 155.5,214.6 C154.4,214.8 152.2,214.8 151.1,214.6 C150.0,214.4 149.6,214.1 149.1,213.4 C148.6,212.8 148.2,211.9 147.9,210.8 C147.7,209.6 147.6,208.2 147.6,206.8 C147.6,205.4 147.7,203.9 147.7,202.4 C147.7,200.8 147.8,198.9 147.8,197.4 C147.8,196.0 147.8,194.4 147.9,193.5 C148.0,192.6 148.1,192.4 148.4,192.0 C148.7,191.6 149.4,191.4 149.9,191.0 C150.4,190.7 150.8,190.3 151.1,189.9 C151.4,189.4 151.6,188.9 151.8,188.5 C152.0,188.0 152.2,187.3 152.4,187.0 C152.7,186.7 153.0,186.6 153.3,186.6 Z" fill="url(#mg)"/>
<path d="M167.9,188.0 C168.2,188.0 168.6,188.1 168.8,188.4 C169.1,188.7 169.2,189.4 169.4,189.9 C169.6,190.4 169.8,190.9 170.1,191.3 C170.4,191.8 170.9,192.2 171.3,192.6 C171.8,192.9 172.5,193.2 172.8,193.6 C173.1,194.0 173.2,194.2 173.3,195.1 C173.4,196.0 173.4,197.6 173.4,199.2 C173.4,200.7 173.5,202.6 173.5,204.2 C173.5,205.8 173.6,207.4 173.6,208.8 C173.6,210.2 173.6,211.7 173.3,212.8 C173.1,214.0 172.6,214.9 172.1,215.6 C171.6,216.2 171.2,216.6 170.1,216.8 C169.0,217.0 166.8,217.0 165.7,216.8 C164.6,216.6 164.2,216.2 163.7,215.6 C163.2,214.9 162.8,214.0 162.5,212.8 C162.2,211.7 162.2,210.2 162.2,208.8 C162.2,207.4 162.3,205.8 162.3,204.2 C162.3,202.6 162.4,200.7 162.4,199.2 C162.4,197.6 162.4,196.0 162.5,195.1 C162.6,194.2 162.7,194.0 163.0,193.6 C163.3,193.2 164.1,192.9 164.5,192.6 C164.9,192.2 165.4,191.8 165.7,191.3 C166.0,190.9 166.2,190.4 166.4,189.9 C166.6,189.4 166.8,188.7 167.0,188.4 C167.2,188.1 167.6,188.0 167.9,188.0 Z" fill="url(#mg)"/>
<path d="M183.4,186.8 C183.7,186.8 184.1,186.9 184.3,187.2 C184.6,187.5 184.7,188.2 184.9,188.7 C185.1,189.1 185.3,189.6 185.6,190.1 C185.9,190.5 186.4,190.9 186.8,191.2 C187.2,191.6 188.0,191.8 188.3,192.2 C188.6,192.6 188.7,192.8 188.8,193.7 C188.9,194.6 188.9,196.2 188.9,197.6 C188.9,199.1 189.0,201.0 189.0,202.6 C189.0,204.1 189.1,205.6 189.1,207.0 C189.1,208.4 189.1,209.8 188.8,211.0 C188.6,212.1 188.1,213.0 187.6,213.6 C187.1,214.3 186.7,214.6 185.6,214.8 C184.5,215.0 182.3,215.0 181.2,214.8 C180.1,214.6 179.7,214.3 179.2,213.6 C178.7,213.0 178.2,212.1 178.0,211.0 C177.8,209.8 177.7,208.4 177.7,207.0 C177.7,205.6 177.8,204.1 177.8,202.6 C177.8,201.0 177.9,199.1 177.9,197.6 C177.9,196.2 177.9,194.6 178.0,193.7 C178.1,192.8 178.2,192.6 178.5,192.2 C178.8,191.8 179.6,191.6 180.0,191.2 C180.4,190.9 180.9,190.5 181.2,190.1 C181.5,189.6 181.7,189.1 181.9,188.7 C182.1,188.2 182.2,187.5 182.5,187.2 C182.8,186.9 183.1,186.8 183.4,186.8 Z" fill="url(#mg)"/>
<path d="M197.8,188.0 C198.1,188.0 198.5,188.1 198.7,188.4 C199.0,188.7 199.1,189.4 199.3,189.9 C199.5,190.4 199.7,190.9 200.0,191.3 C200.3,191.8 200.8,192.2 201.2,192.6 C201.7,192.9 202.4,193.2 202.7,193.6 C203.0,194.0 203.1,194.2 203.2,195.1 C203.3,196.0 203.3,197.6 203.3,199.2 C203.3,200.7 203.4,202.6 203.4,204.2 C203.4,205.8 203.5,207.4 203.5,208.8 C203.5,210.2 203.5,211.7 203.2,212.8 C203.0,214.0 202.5,214.9 202.0,215.6 C201.5,216.2 201.1,216.6 200.0,216.8 C198.9,217.0 196.7,217.0 195.6,216.8 C194.5,216.6 194.1,216.2 193.6,215.6 C193.1,214.9 192.7,214.0 192.4,212.8 C192.2,211.7 192.1,210.2 192.1,208.8 C192.1,207.4 192.2,205.8 192.2,204.2 C192.2,202.6 192.3,200.7 192.3,199.2 C192.3,197.6 192.3,196.0 192.4,195.1 C192.5,194.2 192.6,194.0 192.9,193.6 C193.2,193.2 193.9,192.9 194.4,192.6 C194.9,192.2 195.3,191.8 195.6,191.3 C195.9,190.9 196.1,190.4 196.3,189.9 C196.5,189.4 196.7,188.7 196.9,188.4 C197.2,188.1 197.5,188.0 197.8,188.0 Z" fill="url(#mg)"/>
</g></g>
<g filter="url(#bl12)" opacity="0.8">
<path d="M228.3,190.5 C228.6,190.5 229.0,190.6 229.2,190.9 C229.5,191.2 229.6,191.8 229.8,192.3 C230.0,192.8 230.2,193.2 230.5,193.6 C230.8,194.0 231.2,194.4 231.7,194.8 C232.2,195.1 232.9,195.3 233.2,195.7 C233.5,196.1 233.6,196.3 233.7,197.1 C233.8,198.0 233.8,199.5 233.8,200.9 C233.8,202.3 233.9,204.1 233.9,205.6 C233.9,207.1 234.0,208.6 234.0,209.9 C234.0,211.2 234.0,212.6 233.7,213.7 C233.5,214.7 233.0,215.6 232.5,216.2 C232.0,216.9 231.6,217.2 230.5,217.4 C229.4,217.6 227.2,217.6 226.1,217.4 C225.0,217.2 224.6,216.9 224.1,216.2 C223.6,215.6 223.2,214.7 222.9,213.7 C222.7,212.6 222.6,211.2 222.6,209.9 C222.6,208.6 222.7,207.1 222.7,205.6 C222.7,204.1 222.8,202.3 222.8,200.9 C222.8,199.5 222.8,198.0 222.9,197.1 C223.0,196.3 223.1,196.1 223.4,195.7 C223.7,195.3 224.4,195.1 224.9,194.8 C225.4,194.4 225.8,194.0 226.1,193.6 C226.4,193.2 226.6,192.8 226.8,192.3 C227.0,191.8 227.2,191.2 227.4,190.9 C227.7,190.6 228.0,190.5 228.3,190.5 Z" fill="#050505" stroke="#050505" stroke-width="2.6"/>
<path d="M242.6,189.5 C242.9,189.5 243.2,189.6 243.5,189.9 C243.8,190.2 243.9,190.8 244.1,191.3 C244.3,191.8 244.5,192.2 244.8,192.6 C245.1,193.0 245.6,193.4 246.0,193.8 C246.4,194.1 247.2,194.3 247.5,194.7 C247.8,195.1 247.9,195.3 248.0,196.1 C248.1,197.0 248.1,198.5 248.1,199.9 C248.1,201.3 248.2,203.1 248.2,204.6 C248.2,206.1 248.3,207.6 248.3,208.9 C248.3,210.2 248.2,211.6 248.0,212.7 C247.8,213.7 247.3,214.6 246.8,215.2 C246.3,215.9 245.9,216.2 244.8,216.4 C243.7,216.6 241.5,216.6 240.4,216.4 C239.3,216.2 238.9,215.9 238.4,215.2 C237.9,214.6 237.4,213.7 237.2,212.7 C236.9,211.6 236.9,210.2 236.9,208.9 C236.9,207.6 237.0,206.1 237.0,204.6 C237.0,203.1 237.1,201.3 237.1,199.9 C237.1,198.5 237.1,197.0 237.2,196.1 C237.3,195.3 237.4,195.1 237.7,194.7 C238.0,194.3 238.8,194.1 239.2,193.8 C239.6,193.4 240.1,193.0 240.4,192.6 C240.7,192.2 240.9,191.8 241.1,191.3 C241.3,190.8 241.4,190.2 241.7,189.9 C241.9,189.6 242.3,189.5 242.6,189.5 Z" fill="#050505" stroke="#050505" stroke-width="2.6"/>
<path d="M257.4,190.0 C257.7,190.0 258.0,190.1 258.3,190.4 C258.5,190.7 258.7,191.3 258.9,191.8 C259.1,192.3 259.3,192.7 259.6,193.1 C259.9,193.5 260.3,193.9 260.8,194.3 C261.2,194.6 262.0,194.8 262.3,195.2 C262.6,195.6 262.7,195.8 262.8,196.6 C262.9,197.5 262.9,199.0 262.9,200.4 C262.9,201.8 263.0,203.6 263.0,205.1 C263.0,206.6 263.1,208.1 263.1,209.4 C263.1,210.7 263.0,212.1 262.8,213.2 C262.5,214.2 262.1,215.1 261.6,215.7 C261.1,216.4 260.7,216.7 259.6,216.9 C258.5,217.1 256.3,217.1 255.2,216.9 C254.1,216.7 253.7,216.4 253.2,215.7 C252.7,215.1 252.2,214.2 252.0,213.2 C251.7,212.1 251.7,210.7 251.7,209.4 C251.7,208.1 251.8,206.6 251.8,205.1 C251.8,203.6 251.9,201.8 251.9,200.4 C251.9,199.0 251.9,197.5 252.0,196.6 C252.1,195.8 252.2,195.6 252.5,195.2 C252.8,194.8 253.5,194.6 254.0,194.3 C254.4,193.9 254.9,193.5 255.2,193.1 C255.5,192.7 255.7,192.3 255.9,191.8 C256.1,191.3 256.2,190.7 256.5,190.4 C256.8,190.1 257.1,190.0 257.4,190.0 Z" fill="#050505" stroke="#050505" stroke-width="2.6"/>
<path d="M273.0,191.0 C273.3,191.0 273.6,191.1 273.9,191.4 C274.1,191.7 274.3,192.3 274.5,192.8 C274.7,193.2 274.9,193.7 275.2,194.1 C275.5,194.5 275.9,194.8 276.4,195.2 C276.8,195.5 277.6,195.7 277.9,196.1 C278.2,196.5 278.3,196.6 278.4,197.5 C278.5,198.4 278.5,199.8 278.5,201.2 C278.5,202.6 278.6,204.4 278.6,205.9 C278.6,207.3 278.7,208.7 278.7,210.0 C278.7,211.4 278.6,212.7 278.4,213.8 C278.1,214.8 277.7,215.7 277.2,216.3 C276.7,216.9 276.3,217.2 275.2,217.4 C274.1,217.6 271.9,217.6 270.8,217.4 C269.7,217.2 269.3,216.9 268.8,216.3 C268.3,215.7 267.9,214.8 267.6,213.8 C267.4,212.7 267.3,211.4 267.3,210.0 C267.3,208.7 267.4,207.3 267.4,205.9 C267.4,204.4 267.5,202.6 267.5,201.2 C267.5,199.8 267.5,198.4 267.6,197.5 C267.7,196.6 267.8,196.5 268.1,196.1 C268.4,195.7 269.2,195.5 269.6,195.2 C270.1,194.8 270.5,194.5 270.8,194.1 C271.1,193.7 271.3,193.2 271.5,192.8 C271.7,192.3 271.9,191.7 272.1,191.4 C272.4,191.1 272.7,191.0 273.0,191.0 Z" fill="#050505" stroke="#050505" stroke-width="2.6"/>
<path d="M287.3,190.0 C287.6,190.0 287.9,190.1 288.2,190.4 C288.4,190.7 288.6,191.3 288.8,191.8 C289.0,192.3 289.2,192.7 289.5,193.1 C289.8,193.5 290.2,193.9 290.7,194.3 C291.1,194.6 291.9,194.8 292.2,195.2 C292.5,195.6 292.6,195.8 292.7,196.6 C292.8,197.5 292.8,199.0 292.8,200.4 C292.8,201.8 292.9,203.6 292.9,205.1 C292.9,206.6 293.0,208.1 293.0,209.4 C293.0,210.7 292.9,212.1 292.7,213.2 C292.4,214.2 292.0,215.1 291.5,215.7 C291.0,216.4 290.6,216.7 289.5,216.9 C288.4,217.1 286.2,217.1 285.1,216.9 C284.0,216.7 283.6,216.4 283.1,215.7 C282.6,215.1 282.2,214.2 281.9,213.2 C281.7,212.1 281.6,210.7 281.6,209.4 C281.6,208.1 281.7,206.6 281.7,205.1 C281.7,203.6 281.8,201.8 281.8,200.4 C281.8,199.0 281.8,197.5 281.9,196.6 C282.0,195.8 282.1,195.6 282.4,195.2 C282.7,194.8 283.5,194.6 283.9,194.3 C284.4,193.9 284.8,193.5 285.1,193.1 C285.4,192.7 285.6,192.3 285.8,191.8 C286.0,191.3 286.2,190.7 286.4,190.4 C286.7,190.1 287.0,190.0 287.3,190.0 Z" fill="#050505" stroke="#050505" stroke-width="2.6"/>
</g>
<g filter="url(#bl6)">
<path d="M228.0,216.0 Q228.3,225.0 229.5,234.4" stroke="#a8a8a8" stroke-width="1.45" fill="none"/>
<path d="M224.70000000000002,215.5 L223.9,218.6 M231.9,215.5 L232.70000000000002,218.6" stroke="#7a7a7a" stroke-width="1.8" stroke-linecap="round"/>
<path d="M242.29999999999998,215.0 Q242.6,224.0 243.79999999999998,234.4" stroke="#a8a8a8" stroke-width="1.45" fill="none"/>
<path d="M239.0,214.5 L238.2,217.6 M246.2,214.5 L247.0,217.6" stroke="#7a7a7a" stroke-width="1.8" stroke-linecap="round"/>
<path d="M257.09999999999997,215.5 Q257.4,224.5 258.59999999999997,234.4" stroke="#a8a8a8" stroke-width="1.45" fill="none"/>
<path d="M253.79999999999998,215.0 L252.99999999999997,218.1 M261.0,215.0 L261.79999999999995,218.1" stroke="#7a7a7a" stroke-width="1.8" stroke-linecap="round"/>
<path d="M272.7,216.0 Q273.0,225.0 274.2,234.4" stroke="#a8a8a8" stroke-width="1.45" fill="none"/>
<path d="M269.4,215.5 L268.6,218.6 M276.6,215.5 L277.4,218.6" stroke="#7a7a7a" stroke-width="1.8" stroke-linecap="round"/>
<path d="M287.0,215.5 Q287.3,224.5 288.5,234.4" stroke="#a8a8a8" stroke-width="1.45" fill="none"/>
<path d="M283.7,215.0 L282.90000000000003,218.1 M290.90000000000003,215.0 L291.7,218.1" stroke="#7a7a7a" stroke-width="1.8" stroke-linecap="round"/>
</g>
<g filter="url(#bl6)"><g filter="url(#mtex)">
<path d="M228.3,190.5 C228.6,190.5 229.0,190.6 229.2,190.9 C229.5,191.2 229.6,191.8 229.8,192.3 C230.0,192.8 230.2,193.2 230.5,193.6 C230.8,194.0 231.2,194.4 231.7,194.8 C232.2,195.1 232.9,195.3 233.2,195.7 C233.5,196.1 233.6,196.3 233.7,197.1 C233.8,198.0 233.8,199.5 233.8,200.9 C233.8,202.3 233.9,204.1 233.9,205.6 C233.9,207.1 234.0,208.6 234.0,209.9 C234.0,211.2 234.0,212.6 233.7,213.7 C233.5,214.7 233.0,215.6 232.5,216.2 C232.0,216.9 231.6,217.2 230.5,217.4 C229.4,217.6 227.2,217.6 226.1,217.4 C225.0,217.2 224.6,216.9 224.1,216.2 C223.6,215.6 223.2,214.7 222.9,213.7 C222.7,212.6 222.6,211.2 222.6,209.9 C222.6,208.6 222.7,207.1 222.7,205.6 C222.7,204.1 222.8,202.3 222.8,200.9 C222.8,199.5 222.8,198.0 222.9,197.1 C223.0,196.3 223.1,196.1 223.4,195.7 C223.7,195.3 224.4,195.1 224.9,194.8 C225.4,194.4 225.8,194.0 226.1,193.6 C226.4,193.2 226.6,192.8 226.8,192.3 C227.0,191.8 227.2,191.2 227.4,190.9 C227.7,190.6 228.0,190.5 228.3,190.5 Z" fill="url(#mg)"/>
<path d="M242.6,189.5 C242.9,189.5 243.2,189.6 243.5,189.9 C243.8,190.2 243.9,190.8 244.1,191.3 C244.3,191.8 244.5,192.2 244.8,192.6 C245.1,193.0 245.6,193.4 246.0,193.8 C246.4,194.1 247.2,194.3 247.5,194.7 C247.8,195.1 247.9,195.3 248.0,196.1 C248.1,197.0 248.1,198.5 248.1,199.9 C248.1,201.3 248.2,203.1 248.2,204.6 C248.2,206.1 248.3,207.6 248.3,208.9 C248.3,210.2 248.2,211.6 248.0,212.7 C247.8,213.7 247.3,214.6 246.8,215.2 C246.3,215.9 245.9,216.2 244.8,216.4 C243.7,216.6 241.5,216.6 240.4,216.4 C239.3,216.2 238.9,215.9 238.4,215.2 C237.9,214.6 237.4,213.7 237.2,212.7 C236.9,211.6 236.9,210.2 236.9,208.9 C236.9,207.6 237.0,206.1 237.0,204.6 C237.0,203.1 237.1,201.3 237.1,199.9 C237.1,198.5 237.1,197.0 237.2,196.1 C237.3,195.3 237.4,195.1 237.7,194.7 C238.0,194.3 238.8,194.1 239.2,193.8 C239.6,193.4 240.1,193.0 240.4,192.6 C240.7,192.2 240.9,191.8 241.1,191.3 C241.3,190.8 241.4,190.2 241.7,189.9 C241.9,189.6 242.3,189.5 242.6,189.5 Z" fill="url(#mg)"/>
<path d="M257.4,190.0 C257.7,190.0 258.0,190.1 258.3,190.4 C258.5,190.7 258.7,191.3 258.9,191.8 C259.1,192.3 259.3,192.7 259.6,193.1 C259.9,193.5 260.3,193.9 260.8,194.3 C261.2,194.6 262.0,194.8 262.3,195.2 C262.6,195.6 262.7,195.8 262.8,196.6 C262.9,197.5 262.9,199.0 262.9,200.4 C262.9,201.8 263.0,203.6 263.0,205.1 C263.0,206.6 263.1,208.1 263.1,209.4 C263.1,210.7 263.0,212.1 262.8,213.2 C262.5,214.2 262.1,215.1 261.6,215.7 C261.1,216.4 260.7,216.7 259.6,216.9 C258.5,217.1 256.3,217.1 255.2,216.9 C254.1,216.7 253.7,216.4 253.2,215.7 C252.7,215.1 252.2,214.2 252.0,213.2 C251.7,212.1 251.7,210.7 251.7,209.4 C251.7,208.1 251.8,206.6 251.8,205.1 C251.8,203.6 251.9,201.8 251.9,200.4 C251.9,199.0 251.9,197.5 252.0,196.6 C252.1,195.8 252.2,195.6 252.5,195.2 C252.8,194.8 253.5,194.6 254.0,194.3 C254.4,193.9 254.9,193.5 255.2,193.1 C255.5,192.7 255.7,192.3 255.9,191.8 C256.1,191.3 256.2,190.7 256.5,190.4 C256.8,190.1 257.1,190.0 257.4,190.0 Z" fill="url(#mg)"/>
<path d="M273.0,191.0 C273.3,191.0 273.6,191.1 273.9,191.4 C274.1,191.7 274.3,192.3 274.5,192.8 C274.7,193.2 274.9,193.7 275.2,194.1 C275.5,194.5 275.9,194.8 276.4,195.2 C276.8,195.5 277.6,195.7 277.9,196.1 C278.2,196.5 278.3,196.6 278.4,197.5 C278.5,198.4 278.5,199.8 278.5,201.2 C278.5,202.6 278.6,204.4 278.6,205.9 C278.6,207.3 278.7,208.7 278.7,210.0 C278.7,211.4 278.6,212.7 278.4,213.8 C278.1,214.8 277.7,215.7 277.2,216.3 C276.7,216.9 276.3,217.2 275.2,217.4 C274.1,217.6 271.9,217.6 270.8,217.4 C269.7,217.2 269.3,216.9 268.8,216.3 C268.3,215.7 267.9,214.8 267.6,213.8 C267.4,212.7 267.3,211.4 267.3,210.0 C267.3,208.7 267.4,207.3 267.4,205.9 C267.4,204.4 267.5,202.6 267.5,201.2 C267.5,199.8 267.5,198.4 267.6,197.5 C267.7,196.6 267.8,196.5 268.1,196.1 C268.4,195.7 269.2,195.5 269.6,195.2 C270.1,194.8 270.5,194.5 270.8,194.1 C271.1,193.7 271.3,193.2 271.5,192.8 C271.7,192.3 271.9,191.7 272.1,191.4 C272.4,191.1 272.7,191.0 273.0,191.0 Z" fill="url(#mg)"/>
<path d="M287.3,190.0 C287.6,190.0 287.9,190.1 288.2,190.4 C288.4,190.7 288.6,191.3 288.8,191.8 C289.0,192.3 289.2,192.7 289.5,193.1 C289.8,193.5 290.2,193.9 290.7,194.3 C291.1,194.6 291.9,194.8 292.2,195.2 C292.5,195.6 292.6,195.8 292.7,196.6 C292.8,197.5 292.8,199.0 292.8,200.4 C292.8,201.8 292.9,203.6 292.9,205.1 C292.9,206.6 293.0,208.1 293.0,209.4 C293.0,210.7 292.9,212.1 292.7,213.2 C292.4,214.2 292.0,215.1 291.5,215.7 C291.0,216.4 290.6,216.7 289.5,216.9 C288.4,217.1 286.2,217.1 285.1,216.9 C284.0,216.7 283.6,216.4 283.1,215.7 C282.6,215.1 282.2,214.2 281.9,213.2 C281.7,212.1 281.6,210.7 281.6,209.4 C281.6,208.1 281.7,206.6 281.7,205.1 C281.7,203.6 281.8,201.8 281.8,200.4 C281.8,199.0 281.8,197.5 281.9,196.6 C282.0,195.8 282.1,195.6 282.4,195.2 C282.7,194.8 283.5,194.6 283.9,194.3 C284.4,193.9 284.8,193.5 285.1,193.1 C285.4,192.7 285.6,192.3 285.8,191.8 C286.0,191.3 286.2,190.7 286.4,190.4 C286.7,190.1 287.0,190.0 287.3,190.0 Z" fill="url(#mg)"/>
</g></g>
<g filter="url(#bl12)" opacity="0.8">
<path d="M43.0,243.5 C43.3,243.5 43.6,243.6 43.9,243.9 C44.1,244.3 44.3,245.0 44.5,245.5 C44.7,246.0 44.9,246.5 45.2,247.0 C45.5,247.4 46.0,247.9 46.4,248.2 C46.8,248.6 47.6,248.9 47.9,249.3 C48.2,249.7 48.3,249.9 48.4,250.9 C48.5,251.8 48.5,253.5 48.5,255.1 C48.5,256.7 48.6,258.7 48.6,260.4 C48.6,262.0 48.7,263.6 48.7,265.1 C48.7,266.6 48.6,268.1 48.4,269.3 C48.1,270.5 47.7,271.5 47.2,272.2 C46.7,272.8 46.3,273.2 45.2,273.4 C44.1,273.6 41.9,273.6 40.8,273.4 C39.7,273.2 39.3,272.8 38.8,272.2 C38.3,271.5 37.9,270.5 37.6,269.3 C37.4,268.1 37.3,266.6 37.3,265.1 C37.3,263.6 37.4,262.0 37.4,260.4 C37.4,258.7 37.5,256.7 37.5,255.1 C37.5,253.5 37.5,251.8 37.6,250.9 C37.7,249.9 37.8,249.7 38.1,249.3 C38.4,248.9 39.2,248.6 39.6,248.2 C40.0,247.9 40.5,247.4 40.8,247.0 C41.1,246.5 41.3,246.0 41.5,245.5 C41.7,245.0 41.9,244.3 42.1,243.9 C42.4,243.6 42.7,243.5 43.0,243.5 Z" fill="#050505" stroke="#050505" stroke-width="2.6"/>
<path d="M57.8,245.0 C58.1,245.0 58.4,245.1 58.7,245.4 C58.9,245.7 59.1,246.5 59.3,247.0 C59.5,247.5 59.7,247.9 60.0,248.4 C60.3,248.8 60.8,249.3 61.2,249.6 C61.6,250.0 62.4,250.2 62.7,250.7 C63.0,251.1 63.1,251.3 63.2,252.2 C63.3,253.1 63.3,254.8 63.3,256.3 C63.3,257.9 63.4,259.8 63.4,261.5 C63.4,263.1 63.5,264.6 63.5,266.1 C63.5,267.5 63.4,269.1 63.2,270.2 C62.9,271.3 62.5,272.3 62.0,273.0 C61.5,273.6 61.1,274.0 60.0,274.2 C58.9,274.4 56.7,274.4 55.6,274.2 C54.5,274.0 54.1,273.6 53.6,273.0 C53.1,272.3 52.6,271.3 52.4,270.2 C52.1,269.1 52.1,267.5 52.1,266.1 C52.1,264.6 52.2,263.1 52.2,261.5 C52.2,259.8 52.3,257.9 52.3,256.3 C52.3,254.8 52.3,253.1 52.4,252.2 C52.5,251.3 52.6,251.1 52.9,250.7 C53.2,250.2 54.0,250.0 54.4,249.6 C54.8,249.3 55.3,248.8 55.6,248.4 C55.9,247.9 56.1,247.5 56.3,247.0 C56.5,246.5 56.6,245.7 56.9,245.4 C57.1,245.1 57.5,245.0 57.8,245.0 Z" fill="#050505" stroke="#050505" stroke-width="2.6"/>
<path d="M73.6,244.4 C73.9,244.4 74.2,244.5 74.5,244.8 C74.8,245.1 74.9,245.9 75.1,246.4 C75.3,246.9 75.5,247.3 75.8,247.8 C76.1,248.2 76.5,248.7 77.0,249.0 C77.5,249.4 78.2,249.6 78.5,250.1 C78.8,250.5 78.9,250.7 79.0,251.6 C79.1,252.5 79.1,254.2 79.1,255.7 C79.1,257.3 79.2,259.2 79.2,260.9 C79.2,262.5 79.3,264.0 79.3,265.5 C79.3,266.9 79.2,268.5 79.0,269.6 C78.8,270.7 78.3,271.7 77.8,272.4 C77.3,273.0 76.9,273.4 75.8,273.6 C74.7,273.8 72.5,273.8 71.4,273.6 C70.3,273.4 69.9,273.0 69.4,272.4 C68.9,271.7 68.4,270.7 68.2,269.6 C67.9,268.5 67.9,266.9 67.9,265.5 C67.9,264.0 68.0,262.5 68.0,260.9 C68.0,259.2 68.1,257.3 68.1,255.7 C68.1,254.2 68.1,252.5 68.2,251.6 C68.3,250.7 68.4,250.5 68.7,250.1 C69.0,249.6 69.7,249.4 70.2,249.0 C70.6,248.7 71.1,248.2 71.4,247.8 C71.7,247.3 71.9,246.9 72.1,246.4 C72.3,245.9 72.4,245.1 72.7,244.8 C72.9,244.5 73.3,244.4 73.6,244.4 Z" fill="#050505" stroke="#050505" stroke-width="2.6"/>
<path d="M88.4,246.0 C88.7,246.0 89.1,246.1 89.3,246.4 C89.6,246.7 89.7,247.5 89.9,248.0 C90.1,248.5 90.3,248.9 90.6,249.4 C90.9,249.8 91.4,250.3 91.8,250.6 C92.3,251.0 93.0,251.2 93.3,251.7 C93.6,252.1 93.7,252.3 93.8,253.2 C93.9,254.1 93.9,255.8 93.9,257.3 C93.9,258.9 94.0,260.8 94.0,262.5 C94.0,264.1 94.1,265.6 94.1,267.1 C94.1,268.5 94.1,270.1 93.8,271.2 C93.6,272.3 93.1,273.3 92.6,274.0 C92.1,274.6 91.7,275.0 90.6,275.2 C89.5,275.4 87.3,275.4 86.2,275.2 C85.1,275.0 84.7,274.6 84.2,274.0 C83.7,273.3 83.2,272.3 83.0,271.2 C82.8,270.1 82.7,268.5 82.7,267.1 C82.7,265.6 82.8,264.1 82.8,262.5 C82.8,260.8 82.9,258.9 82.9,257.3 C82.9,255.8 82.9,254.1 83.0,253.2 C83.1,252.3 83.2,252.1 83.5,251.7 C83.8,251.2 84.5,251.0 85.0,250.6 C85.5,250.3 85.9,249.8 86.2,249.4 C86.5,248.9 86.7,248.5 86.9,248.0 C87.1,247.5 87.2,246.7 87.5,246.4 C87.8,246.1 88.1,246.0 88.4,246.0 Z" fill="#050505" stroke="#050505" stroke-width="2.6"/>
<path d="M103.4,245.3 C103.7,245.3 104.1,245.4 104.3,245.7 C104.6,246.0 104.7,246.8 104.9,247.3 C105.1,247.8 105.3,248.2 105.6,248.7 C105.9,249.1 106.4,249.6 106.8,249.9 C107.3,250.3 108.0,250.5 108.3,251.0 C108.6,251.4 108.7,251.6 108.8,252.5 C108.9,253.4 108.9,255.1 108.9,256.6 C108.9,258.2 109.0,260.1 109.0,261.8 C109.0,263.4 109.1,264.9 109.1,266.4 C109.1,267.8 109.1,269.4 108.8,270.5 C108.6,271.6 108.1,272.6 107.6,273.3 C107.1,273.9 106.7,274.3 105.6,274.5 C104.5,274.7 102.3,274.7 101.2,274.5 C100.1,274.3 99.7,273.9 99.2,273.3 C98.7,272.6 98.2,271.6 98.0,270.5 C97.8,269.4 97.7,267.8 97.7,266.4 C97.7,264.9 97.8,263.4 97.8,261.8 C97.8,260.1 97.9,258.2 97.9,256.6 C97.9,255.1 97.9,253.4 98.0,252.5 C98.1,251.6 98.2,251.4 98.5,251.0 C98.8,250.5 99.5,250.3 100.0,249.9 C100.5,249.6 100.9,249.1 101.2,248.7 C101.5,248.2 101.7,247.8 101.9,247.3 C102.1,246.8 102.2,246.0 102.5,245.7 C102.8,245.4 103.1,245.3 103.4,245.3 Z" fill="#050505" stroke="#050505" stroke-width="2.6"/>
</g>
<g filter="url(#bl6)">
<path d="M42.7,272.0 Q43.0,281.0 44.2,292.3" stroke="#a8a8a8" stroke-width="1.45" fill="none"/>
<path d="M39.4,271.5 L38.6,274.6 M46.6,271.5 L47.4,274.6" stroke="#7a7a7a" stroke-width="1.8" stroke-linecap="round"/>
<path d="M57.5,272.8 Q57.8,281.8 59.0,292.3" stroke="#a8a8a8" stroke-width="1.45" fill="none"/>
<path d="M54.199999999999996,272.3 L53.4,275.40000000000003 M61.4,272.3 L62.199999999999996,275.40000000000003" stroke="#7a7a7a" stroke-width="1.8" stroke-linecap="round"/>
<path d="M73.3,272.2 Q73.6,281.2 74.8,292.3" stroke="#a8a8a8" stroke-width="1.45" fill="none"/>
<path d="M70.0,271.7 L69.19999999999999,274.8 M77.19999999999999,271.7 L78.0,274.8" stroke="#7a7a7a" stroke-width="1.8" stroke-linecap="round"/>
<path d="M88.10000000000001,273.8 Q88.4,282.8 89.60000000000001,292.3" stroke="#a8a8a8" stroke-width="1.45" fill="none"/>
<path d="M84.80000000000001,273.3 L84.0,276.40000000000003 M92.0,273.3 L92.80000000000001,276.40000000000003" stroke="#7a7a7a" stroke-width="1.8" stroke-linecap="round"/>
<path d="M103.10000000000001,273.1 Q103.4,282.1 104.60000000000001,292.3" stroke="#a8a8a8" stroke-width="1.45" fill="none"/>
<path d="M99.80000000000001,272.6 L99.0,275.70000000000005 M107.0,272.6 L107.80000000000001,275.70000000000005" stroke="#7a7a7a" stroke-width="1.8" stroke-linecap="round"/>
</g>
<g filter="url(#bl6)"><g filter="url(#mtex)">
<path d="M43.0,243.5 C43.3,243.5 43.6,243.6 43.9,243.9 C44.1,244.3 44.3,245.0 44.5,245.5 C44.7,246.0 44.9,246.5 45.2,247.0 C45.5,247.4 46.0,247.9 46.4,248.2 C46.8,248.6 47.6,248.9 47.9,249.3 C48.2,249.7 48.3,249.9 48.4,250.9 C48.5,251.8 48.5,253.5 48.5,255.1 C48.5,256.7 48.6,258.7 48.6,260.4 C48.6,262.0 48.7,263.6 48.7,265.1 C48.7,266.6 48.6,268.1 48.4,269.3 C48.1,270.5 47.7,271.5 47.2,272.2 C46.7,272.8 46.3,273.2 45.2,273.4 C44.1,273.6 41.9,273.6 40.8,273.4 C39.7,273.2 39.3,272.8 38.8,272.2 C38.3,271.5 37.9,270.5 37.6,269.3 C37.4,268.1 37.3,266.6 37.3,265.1 C37.3,263.6 37.4,262.0 37.4,260.4 C37.4,258.7 37.5,256.7 37.5,255.1 C37.5,253.5 37.5,251.8 37.6,250.9 C37.7,249.9 37.8,249.7 38.1,249.3 C38.4,248.9 39.2,248.6 39.6,248.2 C40.0,247.9 40.5,247.4 40.8,247.0 C41.1,246.5 41.3,246.0 41.5,245.5 C41.7,245.0 41.9,244.3 42.1,243.9 C42.4,243.6 42.7,243.5 43.0,243.5 Z" fill="url(#mg)"/>
<path d="M57.8,245.0 C58.1,245.0 58.4,245.1 58.7,245.4 C58.9,245.7 59.1,246.5 59.3,247.0 C59.5,247.5 59.7,247.9 60.0,248.4 C60.3,248.8 60.8,249.3 61.2,249.6 C61.6,250.0 62.4,250.2 62.7,250.7 C63.0,251.1 63.1,251.3 63.2,252.2 C63.3,253.1 63.3,254.8 63.3,256.3 C63.3,257.9 63.4,259.8 63.4,261.5 C63.4,263.1 63.5,264.6 63.5,266.1 C63.5,267.5 63.4,269.1 63.2,270.2 C62.9,271.3 62.5,272.3 62.0,273.0 C61.5,273.6 61.1,274.0 60.0,274.2 C58.9,274.4 56.7,274.4 55.6,274.2 C54.5,274.0 54.1,273.6 53.6,273.0 C53.1,272.3 52.6,271.3 52.4,270.2 C52.1,269.1 52.1,267.5 52.1,266.1 C52.1,264.6 52.2,263.1 52.2,261.5 C52.2,259.8 52.3,257.9 52.3,256.3 C52.3,254.8 52.3,253.1 52.4,252.2 C52.5,251.3 52.6,251.1 52.9,250.7 C53.2,250.2 54.0,250.0 54.4,249.6 C54.8,249.3 55.3,248.8 55.6,248.4 C55.9,247.9 56.1,247.5 56.3,247.0 C56.5,246.5 56.6,245.7 56.9,245.4 C57.1,245.1 57.5,245.0 57.8,245.0 Z" fill="url(#mg)"/>
<path d="M73.6,244.4 C73.9,244.4 74.2,244.5 74.5,244.8 C74.8,245.1 74.9,245.9 75.1,246.4 C75.3,246.9 75.5,247.3 75.8,247.8 C76.1,248.2 76.5,248.7 77.0,249.0 C77.5,249.4 78.2,249.6 78.5,250.1 C78.8,250.5 78.9,250.7 79.0,251.6 C79.1,252.5 79.1,254.2 79.1,255.7 C79.1,257.3 79.2,259.2 79.2,260.9 C79.2,262.5 79.3,264.0 79.3,265.5 C79.3,266.9 79.2,268.5 79.0,269.6 C78.8,270.7 78.3,271.7 77.8,272.4 C77.3,273.0 76.9,273.4 75.8,273.6 C74.7,273.8 72.5,273.8 71.4,273.6 C70.3,273.4 69.9,273.0 69.4,272.4 C68.9,271.7 68.4,270.7 68.2,269.6 C67.9,268.5 67.9,266.9 67.9,265.5 C67.9,264.0 68.0,262.5 68.0,260.9 C68.0,259.2 68.1,257.3 68.1,255.7 C68.1,254.2 68.1,252.5 68.2,251.6 C68.3,250.7 68.4,250.5 68.7,250.1 C69.0,249.6 69.7,249.4 70.2,249.0 C70.6,248.7 71.1,248.2 71.4,247.8 C71.7,247.3 71.9,246.9 72.1,246.4 C72.3,245.9 72.4,245.1 72.7,244.8 C72.9,244.5 73.3,244.4 73.6,244.4 Z" fill="url(#mg)"/>
<path d="M88.4,246.0 C88.7,246.0 89.1,246.1 89.3,246.4 C89.6,246.7 89.7,247.5 89.9,248.0 C90.1,248.5 90.3,248.9 90.6,249.4 C90.9,249.8 91.4,250.3 91.8,250.6 C92.3,251.0 93.0,251.2 93.3,251.7 C93.6,252.1 93.7,252.3 93.8,253.2 C93.9,254.1 93.9,255.8 93.9,257.3 C93.9,258.9 94.0,260.8 94.0,262.5 C94.0,264.1 94.1,265.6 94.1,267.1 C94.1,268.5 94.1,270.1 93.8,271.2 C93.6,272.3 93.1,273.3 92.6,274.0 C92.1,274.6 91.7,275.0 90.6,275.2 C89.5,275.4 87.3,275.4 86.2,275.2 C85.1,275.0 84.7,274.6 84.2,274.0 C83.7,273.3 83.2,272.3 83.0,271.2 C82.8,270.1 82.7,268.5 82.7,267.1 C82.7,265.6 82.8,264.1 82.8,262.5 C82.8,260.8 82.9,258.9 82.9,257.3 C82.9,255.8 82.9,254.1 83.0,253.2 C83.1,252.3 83.2,252.1 83.5,251.7 C83.8,251.2 84.5,251.0 85.0,250.6 C85.5,250.3 85.9,249.8 86.2,249.4 C86.5,248.9 86.7,248.5 86.9,248.0 C87.1,247.5 87.2,246.7 87.5,246.4 C87.8,246.1 88.1,246.0 88.4,246.0 Z" fill="url(#mg)"/>
<path d="M103.4,245.3 C103.7,245.3 104.1,245.4 104.3,245.7 C104.6,246.0 104.7,246.8 104.9,247.3 C105.1,247.8 105.3,248.2 105.6,248.7 C105.9,249.1 106.4,249.6 106.8,249.9 C107.3,250.3 108.0,250.5 108.3,251.0 C108.6,251.4 108.7,251.6 108.8,252.5 C108.9,253.4 108.9,255.1 108.9,256.6 C108.9,258.2 109.0,260.1 109.0,261.8 C109.0,263.4 109.1,264.9 109.1,266.4 C109.1,267.8 109.1,269.4 108.8,270.5 C108.6,271.6 108.1,272.6 107.6,273.3 C107.1,273.9 106.7,274.3 105.6,274.5 C104.5,274.7 102.3,274.7 101.2,274.5 C100.1,274.3 99.7,273.9 99.2,273.3 C98.7,272.6 98.2,271.6 98.0,270.5 C97.8,269.4 97.7,267.8 97.7,266.4 C97.7,264.9 97.8,263.4 97.8,261.8 C97.8,260.1 97.9,258.2 97.9,256.6 C97.9,255.1 97.9,253.4 98.0,252.5 C98.1,251.6 98.2,251.4 98.5,251.0 C98.8,250.5 99.5,250.3 100.0,249.9 C100.5,249.6 100.9,249.1 101.2,248.7 C101.5,248.2 101.7,247.8 101.9,247.3 C102.1,246.8 102.2,246.0 102.5,245.7 C102.8,245.4 103.1,245.3 103.4,245.3 Z" fill="url(#mg)"/>
</g></g>
<g filter="url(#bl12)" opacity="0.8">
<path d="M138.9,244.9 C139.2,244.9 139.6,245.0 139.8,245.3 C140.1,245.6 140.2,246.3 140.4,246.8 C140.6,247.3 140.8,247.8 141.1,248.3 C141.4,248.7 141.9,249.1 142.3,249.5 C142.8,249.9 143.5,250.1 143.8,250.5 C144.1,250.9 144.2,251.1 144.3,252.1 C144.4,253.0 144.4,254.6 144.4,256.1 C144.4,257.7 144.5,259.6 144.5,261.2 C144.5,262.9 144.6,264.4 144.6,265.8 C144.6,267.3 144.6,268.8 144.3,269.9 C144.1,271.1 143.6,272.0 143.1,272.7 C142.6,273.3 142.2,273.7 141.1,273.9 C140.0,274.1 137.8,274.1 136.7,273.9 C135.6,273.7 135.2,273.3 134.7,272.7 C134.2,272.0 133.8,271.1 133.5,269.9 C133.2,268.8 133.2,267.3 133.2,265.8 C133.2,264.4 133.3,262.9 133.3,261.2 C133.3,259.6 133.4,257.7 133.4,256.1 C133.4,254.6 133.4,253.0 133.5,252.1 C133.6,251.1 133.7,250.9 134.0,250.5 C134.3,250.1 135.1,249.9 135.5,249.5 C135.9,249.1 136.4,248.7 136.7,248.3 C137.0,247.8 137.2,247.3 137.4,246.8 C137.6,246.3 137.8,245.6 138.0,245.3 C138.2,245.0 138.6,244.9 138.9,244.9 Z" fill="#050505" stroke="#050505" stroke-width="2.6"/>
<path d="M152.8,246.3 C153.1,246.3 153.5,246.4 153.7,246.7 C154.0,247.0 154.1,247.7 154.3,248.2 C154.5,248.6 154.7,249.1 155.0,249.5 C155.3,250.0 155.8,250.4 156.2,250.7 C156.7,251.1 157.4,251.3 157.7,251.7 C158.0,252.1 158.1,252.3 158.2,253.2 C158.3,254.1 158.3,255.6 158.3,257.1 C158.3,258.6 158.4,260.5 158.4,262.0 C158.4,263.6 158.5,265.0 158.5,266.4 C158.5,267.8 158.5,269.3 158.2,270.4 C158.0,271.5 157.5,272.4 157.0,273.0 C156.5,273.7 156.1,274.0 155.0,274.2 C153.9,274.4 151.7,274.4 150.6,274.2 C149.5,274.0 149.1,273.7 148.6,273.0 C148.1,272.4 147.7,271.5 147.4,270.4 C147.2,269.3 147.1,267.8 147.1,266.4 C147.1,265.0 147.2,263.6 147.2,262.0 C147.2,260.5 147.3,258.6 147.3,257.1 C147.3,255.6 147.3,254.1 147.4,253.2 C147.5,252.3 147.6,252.1 147.9,251.7 C148.2,251.3 148.9,251.1 149.4,250.7 C149.9,250.4 150.3,250.0 150.6,249.5 C150.9,249.1 151.1,248.6 151.3,248.2 C151.5,247.7 151.7,247.0 151.9,246.7 C152.2,246.4 152.5,246.3 152.8,246.3 Z" fill="#050505" stroke="#050505" stroke-width="2.6"/>
<path d="M168.3,246.3 C168.6,246.3 169.0,246.4 169.2,246.7 C169.5,247.0 169.6,247.7 169.8,248.2 C170.0,248.6 170.2,249.1 170.5,249.5 C170.8,250.0 171.2,250.4 171.7,250.7 C172.2,251.1 172.9,251.3 173.2,251.7 C173.5,252.1 173.6,252.3 173.7,253.2 C173.8,254.1 173.8,255.6 173.8,257.1 C173.8,258.6 173.9,260.5 173.9,262.0 C173.9,263.6 174.0,265.0 174.0,266.4 C174.0,267.8 174.0,269.3 173.7,270.4 C173.5,271.5 173.0,272.4 172.5,273.0 C172.0,273.7 171.6,274.0 170.5,274.2 C169.4,274.4 167.2,274.4 166.1,274.2 C165.0,274.0 164.6,273.7 164.1,273.0 C163.6,272.4 163.2,271.5 162.9,270.4 C162.7,269.3 162.6,267.8 162.6,266.4 C162.6,265.0 162.7,263.6 162.7,262.0 C162.7,260.5 162.8,258.6 162.8,257.1 C162.8,255.6 162.8,254.1 162.9,253.2 C163.0,252.3 163.1,252.1 163.4,251.7 C163.7,251.3 164.4,251.1 164.9,250.7 C165.4,250.4 165.8,250.0 166.1,249.5 C166.4,249.1 166.6,248.6 166.8,248.2 C167.0,247.7 167.2,247.0 167.4,246.7 C167.7,246.4 168.0,246.3 168.3,246.3 Z" fill="#050505" stroke="#050505" stroke-width="2.6"/>
<path d="M182.4,245.7 C182.7,245.7 183.1,245.8 183.3,246.1 C183.6,246.4 183.7,247.1 183.9,247.6 C184.1,248.1 184.3,248.6 184.6,249.0 C184.9,249.4 185.4,249.8 185.8,250.2 C186.2,250.6 187.0,250.8 187.3,251.2 C187.6,251.6 187.7,251.8 187.8,252.7 C187.9,253.6 187.9,255.2 187.9,256.7 C187.9,258.2 188.0,260.1 188.0,261.7 C188.0,263.3 188.1,264.8 188.1,266.2 C188.1,267.6 188.1,269.1 187.8,270.2 C187.6,271.3 187.1,272.2 186.6,272.9 C186.1,273.5 185.7,273.9 184.6,274.1 C183.5,274.3 181.3,274.3 180.2,274.1 C179.1,273.9 178.7,273.5 178.2,272.9 C177.7,272.2 177.2,271.3 177.0,270.2 C176.8,269.1 176.7,267.6 176.7,266.2 C176.7,264.8 176.8,263.3 176.8,261.7 C176.8,260.1 176.9,258.2 176.9,256.7 C176.9,255.2 176.9,253.6 177.0,252.7 C177.1,251.8 177.2,251.6 177.5,251.2 C177.8,250.8 178.6,250.6 179.0,250.2 C179.4,249.8 179.9,249.4 180.2,249.0 C180.5,248.6 180.7,248.1 180.9,247.6 C181.1,247.1 181.2,246.4 181.5,246.1 C181.8,245.8 182.1,245.7 182.4,245.7 Z" fill="#050505" stroke="#050505" stroke-width="2.6"/>
<path d="M197.0,245.7 C197.3,245.7 197.7,245.8 197.9,246.1 C198.2,246.4 198.3,247.1 198.5,247.6 C198.7,248.1 198.9,248.6 199.2,249.0 C199.5,249.4 199.9,249.8 200.4,250.2 C200.9,250.6 201.6,250.8 201.9,251.2 C202.2,251.6 202.3,251.8 202.4,252.7 C202.5,253.6 202.5,255.2 202.5,256.7 C202.5,258.2 202.6,260.1 202.6,261.7 C202.6,263.3 202.7,264.8 202.7,266.2 C202.7,267.6 202.7,269.1 202.4,270.2 C202.2,271.3 201.7,272.2 201.2,272.9 C200.7,273.5 200.3,273.9 199.2,274.1 C198.1,274.3 195.9,274.3 194.8,274.1 C193.7,273.9 193.3,273.5 192.8,272.9 C192.3,272.2 191.8,271.3 191.6,270.2 C191.3,269.1 191.3,267.6 191.3,266.2 C191.3,264.8 191.4,263.3 191.4,261.7 C191.4,260.1 191.5,258.2 191.5,256.7 C191.5,255.2 191.5,253.6 191.6,252.7 C191.7,251.8 191.8,251.6 192.1,251.2 C192.4,250.8 193.1,250.6 193.6,250.2 C194.1,249.8 194.5,249.4 194.8,249.0 C195.1,248.6 195.3,248.1 195.5,247.6 C195.7,247.1 195.8,246.4 196.1,246.1 C196.3,245.8 196.7,245.7 197.0,245.7 Z" fill="#050505" stroke="#050505" stroke-width="2.6"/>
</g>
<g filter="url(#bl6)">
<path d="M138.6,272.5 Q138.9,281.5 140.1,292.3" stroke="#a8a8a8" stroke-width="1.45" fill="none"/>
<path d="M135.3,272.0 L134.5,275.1 M142.5,272.0 L143.3,275.1" stroke="#7a7a7a" stroke-width="1.8" stroke-linecap="round"/>
<path d="M152.5,272.8 Q152.8,281.8 154.0,292.3" stroke="#a8a8a8" stroke-width="1.45" fill="none"/>
<path d="M149.20000000000002,272.3 L148.4,275.40000000000003 M156.4,272.3 L157.20000000000002,275.40000000000003" stroke="#7a7a7a" stroke-width="1.8" stroke-linecap="round"/>
<path d="M168.0,272.8 Q168.3,281.8 169.5,292.3" stroke="#a8a8a8" stroke-width="1.45" fill="none"/>
<path d="M164.70000000000002,272.3 L163.9,275.40000000000003 M171.9,272.3 L172.70000000000002,275.40000000000003" stroke="#7a7a7a" stroke-width="1.8" stroke-linecap="round"/>
<path d="M182.1,272.7 Q182.4,281.7 183.6,292.3" stroke="#a8a8a8" stroke-width="1.45" fill="none"/>
<path d="M178.8,272.2 L178.0,275.3 M186.0,272.2 L186.8,275.3" stroke="#7a7a7a" stroke-width="1.8" stroke-linecap="round"/>
<path d="M196.7,272.7 Q197.0,281.7 198.2,292.3" stroke="#a8a8a8" stroke-width="1.45" fill="none"/>
<path d="M193.4,272.2 L192.6,275.3 M200.6,272.2 L201.4,275.3" stroke="#7a7a7a" stroke-width="1.8" stroke-linecap="round"/>
</g>
<g filter="url(#bl6)"><g filter="url(#mtex)">
<path d="M138.9,244.9 C139.2,244.9 139.6,245.0 139.8,245.3 C140.1,245.6 140.2,246.3 140.4,246.8 C140.6,247.3 140.8,247.8 141.1,248.3 C141.4,248.7 141.9,249.1 142.3,249.5 C142.8,249.9 143.5,250.1 143.8,250.5 C144.1,250.9 144.2,251.1 144.3,252.1 C144.4,253.0 144.4,254.6 144.4,256.1 C144.4,257.7 144.5,259.6 144.5,261.2 C144.5,262.9 144.6,264.4 144.6,265.8 C144.6,267.3 144.6,268.8 144.3,269.9 C144.1,271.1 143.6,272.0 143.1,272.7 C142.6,273.3 142.2,273.7 141.1,273.9 C140.0,274.1 137.8,274.1 136.7,273.9 C135.6,273.7 135.2,273.3 134.7,272.7 C134.2,272.0 133.8,271.1 133.5,269.9 C133.2,268.8 133.2,267.3 133.2,265.8 C133.2,264.4 133.3,262.9 133.3,261.2 C133.3,259.6 133.4,257.7 133.4,256.1 C133.4,254.6 133.4,253.0 133.5,252.1 C133.6,251.1 133.7,250.9 134.0,250.5 C134.3,250.1 135.1,249.9 135.5,249.5 C135.9,249.1 136.4,248.7 136.7,248.3 C137.0,247.8 137.2,247.3 137.4,246.8 C137.6,246.3 137.8,245.6 138.0,245.3 C138.2,245.0 138.6,244.9 138.9,244.9 Z" fill="url(#mg)"/>
<path d="M152.8,246.3 C153.1,246.3 153.5,246.4 153.7,246.7 C154.0,247.0 154.1,247.7 154.3,248.2 C154.5,248.6 154.7,249.1 155.0,249.5 C155.3,250.0 155.8,250.4 156.2,250.7 C156.7,251.1 157.4,251.3 157.7,251.7 C158.0,252.1 158.1,252.3 158.2,253.2 C158.3,254.1 158.3,255.6 158.3,257.1 C158.3,258.6 158.4,260.5 158.4,262.0 C158.4,263.6 158.5,265.0 158.5,266.4 C158.5,267.8 158.5,269.3 158.2,270.4 C158.0,271.5 157.5,272.4 157.0,273.0 C156.5,273.7 156.1,274.0 155.0,274.2 C153.9,274.4 151.7,274.4 150.6,274.2 C149.5,274.0 149.1,273.7 148.6,273.0 C148.1,272.4 147.7,271.5 147.4,270.4 C147.2,269.3 147.1,267.8 147.1,266.4 C147.1,265.0 147.2,263.6 147.2,262.0 C147.2,260.5 147.3,258.6 147.3,257.1 C147.3,255.6 147.3,254.1 147.4,253.2 C147.5,252.3 147.6,252.1 147.9,251.7 C148.2,251.3 148.9,251.1 149.4,250.7 C149.9,250.4 150.3,250.0 150.6,249.5 C150.9,249.1 151.1,248.6 151.3,248.2 C151.5,247.7 151.7,247.0 151.9,246.7 C152.2,246.4 152.5,246.3 152.8,246.3 Z" fill="url(#mg)"/>
<path d="M168.3,246.3 C168.6,246.3 169.0,246.4 169.2,246.7 C169.5,247.0 169.6,247.7 169.8,248.2 C170.0,248.6 170.2,249.1 170.5,249.5 C170.8,250.0 171.2,250.4 171.7,250.7 C172.2,251.1 172.9,251.3 173.2,251.7 C173.5,252.1 173.6,252.3 173.7,253.2 C173.8,254.1 173.8,255.6 173.8,257.1 C173.8,258.6 173.9,260.5 173.9,262.0 C173.9,263.6 174.0,265.0 174.0,266.4 C174.0,267.8 174.0,269.3 173.7,270.4 C173.5,271.5 173.0,272.4 172.5,273.0 C172.0,273.7 171.6,274.0 170.5,274.2 C169.4,274.4 167.2,274.4 166.1,274.2 C165.0,274.0 164.6,273.7 164.1,273.0 C163.6,272.4 163.2,271.5 162.9,270.4 C162.7,269.3 162.6,267.8 162.6,266.4 C162.6,265.0 162.7,263.6 162.7,262.0 C162.7,260.5 162.8,258.6 162.8,257.1 C162.8,255.6 162.8,254.1 162.9,253.2 C163.0,252.3 163.1,252.1 163.4,251.7 C163.7,251.3 164.4,251.1 164.9,250.7 C165.4,250.4 165.8,250.0 166.1,249.5 C166.4,249.1 166.6,248.6 166.8,248.2 C167.0,247.7 167.2,247.0 167.4,246.7 C167.7,246.4 168.0,246.3 168.3,246.3 Z" fill="url(#mg)"/>
<path d="M182.4,245.7 C182.7,245.7 183.1,245.8 183.3,246.1 C183.6,246.4 183.7,247.1 183.9,247.6 C184.1,248.1 184.3,248.6 184.6,249.0 C184.9,249.4 185.4,249.8 185.8,250.2 C186.2,250.6 187.0,250.8 187.3,251.2 C187.6,251.6 187.7,251.8 187.8,252.7 C187.9,253.6 187.9,255.2 187.9,256.7 C187.9,258.2 188.0,260.1 188.0,261.7 C188.0,263.3 188.1,264.8 188.1,266.2 C188.1,267.6 188.1,269.1 187.8,270.2 C187.6,271.3 187.1,272.2 186.6,272.9 C186.1,273.5 185.7,273.9 184.6,274.1 C183.5,274.3 181.3,274.3 180.2,274.1 C179.1,273.9 178.7,273.5 178.2,272.9 C177.7,272.2 177.2,271.3 177.0,270.2 C176.8,269.1 176.7,267.6 176.7,266.2 C176.7,264.8 176.8,263.3 176.8,261.7 C176.8,260.1 176.9,258.2 176.9,256.7 C176.9,255.2 176.9,253.6 177.0,252.7 C177.1,251.8 177.2,251.6 177.5,251.2 C177.8,250.8 178.6,250.6 179.0,250.2 C179.4,249.8 179.9,249.4 180.2,249.0 C180.5,248.6 180.7,248.1 180.9,247.6 C181.1,247.1 181.2,246.4 181.5,246.1 C181.8,245.8 182.1,245.7 182.4,245.7 Z" fill="url(#mg)"/>
<path d="M197.0,245.7 C197.3,245.7 197.7,245.8 197.9,246.1 C198.2,246.4 198.3,247.1 198.5,247.6 C198.7,248.1 198.9,248.6 199.2,249.0 C199.5,249.4 199.9,249.8 200.4,250.2 C200.9,250.6 201.6,250.8 201.9,251.2 C202.2,251.6 202.3,251.8 202.4,252.7 C202.5,253.6 202.5,255.2 202.5,256.7 C202.5,258.2 202.6,260.1 202.6,261.7 C202.6,263.3 202.7,264.8 202.7,266.2 C202.7,267.6 202.7,269.1 202.4,270.2 C202.2,271.3 201.7,272.2 201.2,272.9 C200.7,273.5 200.3,273.9 199.2,274.1 C198.1,274.3 195.9,274.3 194.8,274.1 C193.7,273.9 193.3,273.5 192.8,272.9 C192.3,272.2 191.8,271.3 191.6,270.2 C191.3,269.1 191.3,267.6 191.3,266.2 C191.3,264.8 191.4,263.3 191.4,261.7 C191.4,260.1 191.5,258.2 191.5,256.7 C191.5,255.2 191.5,253.6 191.6,252.7 C191.7,251.8 191.8,251.6 192.1,251.2 C192.4,250.8 193.1,250.6 193.6,250.2 C194.1,249.8 194.5,249.4 194.8,249.0 C195.1,248.6 195.3,248.1 195.5,247.6 C195.7,247.1 195.8,246.4 196.1,246.1 C196.3,245.8 196.7,245.7 197.0,245.7 Z" fill="url(#mg)"/>
</g></g>
<g filter="url(#bl12)" opacity="0.8">
<path d="M227.8,247.0 C228.1,247.0 228.5,247.1 228.7,247.4 C229.0,247.7 229.1,248.4 229.3,248.9 C229.5,249.4 229.7,249.9 230.0,250.4 C230.3,250.8 230.8,251.2 231.2,251.6 C231.7,252.0 232.4,252.2 232.7,252.6 C233.0,253.0 233.1,253.2 233.2,254.2 C233.3,255.1 233.3,256.7 233.3,258.2 C233.3,259.8 233.4,261.7 233.4,263.3 C233.4,265.0 233.5,266.5 233.5,267.9 C233.5,269.4 233.5,270.9 233.2,272.0 C233.0,273.2 232.5,274.1 232.0,274.8 C231.5,275.4 231.1,275.8 230.0,276.0 C228.9,276.2 226.7,276.2 225.6,276.0 C224.5,275.8 224.1,275.4 223.6,274.8 C223.1,274.1 222.7,273.2 222.4,272.0 C222.2,270.9 222.1,269.4 222.1,267.9 C222.1,266.5 222.2,265.0 222.2,263.3 C222.2,261.7 222.3,259.8 222.3,258.2 C222.3,256.7 222.3,255.1 222.4,254.2 C222.5,253.2 222.6,253.0 222.9,252.6 C223.2,252.2 223.9,252.0 224.4,251.6 C224.9,251.2 225.3,250.8 225.6,250.4 C225.9,249.9 226.1,249.4 226.3,248.9 C226.5,248.4 226.7,247.7 226.9,247.4 C227.2,247.1 227.5,247.0 227.8,247.0 Z" fill="#050505" stroke="#050505" stroke-width="2.6"/>
<path d="M241.4,247.0 C241.7,247.0 242.1,247.1 242.3,247.4 C242.6,247.7 242.7,248.4 242.9,248.9 C243.1,249.4 243.3,249.9 243.6,250.4 C243.9,250.8 244.4,251.2 244.8,251.6 C245.2,252.0 246.0,252.2 246.3,252.6 C246.6,253.0 246.7,253.2 246.8,254.2 C246.9,255.1 246.9,256.7 246.9,258.2 C246.9,259.8 247.0,261.7 247.0,263.3 C247.0,265.0 247.1,266.5 247.1,267.9 C247.1,269.4 247.1,270.9 246.8,272.0 C246.6,273.2 246.1,274.1 245.6,274.8 C245.1,275.4 244.7,275.8 243.6,276.0 C242.5,276.2 240.3,276.2 239.2,276.0 C238.1,275.8 237.7,275.4 237.2,274.8 C236.7,274.1 236.2,273.2 236.0,272.0 C235.8,270.9 235.7,269.4 235.7,267.9 C235.7,266.5 235.8,265.0 235.8,263.3 C235.8,261.7 235.9,259.8 235.9,258.2 C235.9,256.7 235.9,255.1 236.0,254.2 C236.1,253.2 236.2,253.0 236.5,252.6 C236.8,252.2 237.6,252.0 238.0,251.6 C238.4,251.2 238.9,250.8 239.2,250.4 C239.5,249.9 239.7,249.4 239.9,248.9 C240.1,248.4 240.2,247.7 240.5,247.4 C240.8,247.1 241.1,247.0 241.4,247.0 Z" fill="#050505" stroke="#050505" stroke-width="2.6"/>
<path d="M256.6,247.0 C256.9,247.0 257.2,247.1 257.5,247.4 C257.8,247.7 257.9,248.4 258.1,248.9 C258.3,249.4 258.5,249.9 258.8,250.4 C259.1,250.8 259.6,251.2 260.0,251.6 C260.4,252.0 261.2,252.2 261.5,252.6 C261.8,253.0 261.9,253.2 262.0,254.2 C262.1,255.1 262.1,256.7 262.1,258.2 C262.1,259.8 262.2,261.7 262.2,263.3 C262.2,265.0 262.3,266.5 262.3,267.9 C262.3,269.4 262.2,270.9 262.0,272.0 C261.8,273.2 261.3,274.1 260.8,274.8 C260.3,275.4 259.9,275.8 258.8,276.0 C257.7,276.2 255.5,276.2 254.4,276.0 C253.3,275.8 252.9,275.4 252.4,274.8 C251.9,274.1 251.5,273.2 251.2,272.0 C251.0,270.9 250.9,269.4 250.9,267.9 C250.9,266.5 251.0,265.0 251.0,263.3 C251.0,261.7 251.1,259.8 251.1,258.2 C251.1,256.7 251.1,255.1 251.2,254.2 C251.3,253.2 251.4,253.0 251.7,252.6 C252.0,252.2 252.8,252.0 253.2,251.6 C253.7,251.2 254.1,250.8 254.4,250.4 C254.7,249.9 254.9,249.4 255.1,248.9 C255.3,248.4 255.5,247.7 255.7,247.4 C256.0,247.1 256.3,247.0 256.6,247.0 Z" fill="#050505" stroke="#050505" stroke-width="2.6"/>
<path d="M271.8,247.0 C272.1,247.0 272.4,247.1 272.7,247.4 C272.9,247.7 273.1,248.4 273.3,248.9 C273.5,249.4 273.7,249.9 274.0,250.4 C274.3,250.8 274.8,251.2 275.2,251.6 C275.6,252.0 276.4,252.2 276.7,252.6 C277.0,253.0 277.1,253.2 277.2,254.2 C277.3,255.1 277.3,256.7 277.3,258.2 C277.3,259.8 277.4,261.7 277.4,263.3 C277.4,265.0 277.5,266.5 277.5,267.9 C277.5,269.4 277.4,270.9 277.2,272.0 C276.9,273.2 276.5,274.1 276.0,274.8 C275.5,275.4 275.1,275.8 274.0,276.0 C272.9,276.2 270.7,276.2 269.6,276.0 C268.5,275.8 268.1,275.4 267.6,274.8 C267.1,274.1 266.7,273.2 266.4,272.0 C266.2,270.9 266.1,269.4 266.1,267.9 C266.1,266.5 266.2,265.0 266.2,263.3 C266.2,261.7 266.3,259.8 266.3,258.2 C266.3,256.7 266.3,255.1 266.4,254.2 C266.5,253.2 266.6,253.0 266.9,252.6 C267.2,252.2 268.0,252.0 268.4,251.6 C268.9,251.2 269.3,250.8 269.6,250.4 C269.9,249.9 270.1,249.4 270.3,248.9 C270.5,248.4 270.7,247.7 270.9,247.4 C271.2,247.1 271.5,247.0 271.8,247.0 Z" fill="#050505" stroke="#050505" stroke-width="2.6"/>
<path d="M287.0,247.0 C287.3,247.0 287.6,247.1 287.9,247.4 C288.1,247.7 288.3,248.4 288.5,248.9 C288.7,249.4 288.9,249.9 289.2,250.4 C289.5,250.8 289.9,251.2 290.4,251.6 C290.8,252.0 291.6,252.2 291.9,252.6 C292.2,253.0 292.3,253.2 292.4,254.2 C292.5,255.1 292.5,256.7 292.5,258.2 C292.5,259.8 292.6,261.7 292.6,263.3 C292.6,265.0 292.7,266.5 292.7,267.9 C292.7,269.4 292.6,270.9 292.4,272.0 C292.1,273.2 291.7,274.1 291.2,274.8 C290.7,275.4 290.3,275.8 289.2,276.0 C288.1,276.2 285.9,276.2 284.8,276.0 C283.7,275.8 283.3,275.4 282.8,274.8 C282.3,274.1 281.9,273.2 281.6,272.0 C281.4,270.9 281.3,269.4 281.3,267.9 C281.3,266.5 281.4,265.0 281.4,263.3 C281.4,261.7 281.5,259.8 281.5,258.2 C281.5,256.7 281.5,255.1 281.6,254.2 C281.7,253.2 281.8,253.0 282.1,252.6 C282.4,252.2 283.2,252.0 283.6,251.6 C284.1,251.2 284.5,250.8 284.8,250.4 C285.1,249.9 285.3,249.4 285.5,248.9 C285.7,248.4 285.9,247.7 286.1,247.4 C286.4,247.1 286.7,247.0 287.0,247.0 Z" fill="#050505" stroke="#050505" stroke-width="2.6"/>
</g>
<g filter="url(#bl6)">
<path d="M227.5,274.6 Q227.8,283.6 229.0,292.3" stroke="#a8a8a8" stroke-width="1.45" fill="none"/>
<path d="M224.20000000000002,274.1 L223.4,277.20000000000005 M231.4,274.1 L232.20000000000002,277.20000000000005" stroke="#7a7a7a" stroke-width="1.8" stroke-linecap="round"/>
<path d="M241.1,274.6 Q241.4,283.6 242.6,292.3" stroke="#a8a8a8" stroke-width="1.45" fill="none"/>
<path d="M237.8,274.1 L237.0,277.20000000000005 M245.0,274.1 L245.8,277.20000000000005" stroke="#7a7a7a" stroke-width="1.8" stroke-linecap="round"/>
<path d="M256.3,274.6 Q256.6,283.6 257.8,292.3" stroke="#a8a8a8" stroke-width="1.45" fill="none"/>
<path d="M253.00000000000003,274.1 L252.20000000000002,277.20000000000005 M260.20000000000005,274.1 L261.0,277.20000000000005" stroke="#7a7a7a" stroke-width="1.8" stroke-linecap="round"/>
<path d="M271.5,274.6 Q271.8,283.6 273.0,292.3" stroke="#a8a8a8" stroke-width="1.45" fill="none"/>
<path d="M268.2,274.1 L267.40000000000003,277.20000000000005 M275.40000000000003,274.1 L276.2,277.20000000000005" stroke="#7a7a7a" stroke-width="1.8" stroke-linecap="round"/>
<path d="M286.7,274.6 Q287.0,283.6 288.2,292.3" stroke="#a8a8a8" stroke-width="1.45" fill="none"/>
<path d="M283.4,274.1 L282.6,277.20000000000005 M290.6,274.1 L291.4,277.20000000000005" stroke="#7a7a7a" stroke-width="1.8" stroke-linecap="round"/>
</g>
<g filter="url(#bl6)"><g filter="url(#mtex)">
<path d="M227.8,247.0 C228.1,247.0 228.5,247.1 228.7,247.4 C229.0,247.7 229.1,248.4 229.3,248.9 C229.5,249.4 229.7,249.9 230.0,250.4 C230.3,250.8 230.8,251.2 231.2,251.6 C231.7,252.0 232.4,252.2 232.7,252.6 C233.0,253.0 233.1,253.2 233.2,254.2 C233.3,255.1 233.3,256.7 233.3,258.2 C233.3,259.8 233.4,261.7 233.4,263.3 C233.4,265.0 233.5,266.5 233.5,267.9 C233.5,269.4 233.5,270.9 233.2,272.0 C233.0,273.2 232.5,274.1 232.0,274.8 C231.5,275.4 231.1,275.8 230.0,276.0 C228.9,276.2 226.7,276.2 225.6,276.0 C224.5,275.8 224.1,275.4 223.6,274.8 C223.1,274.1 222.7,273.2 222.4,272.0 C222.2,270.9 222.1,269.4 222.1,267.9 C222.1,266.5 222.2,265.0 222.2,263.3 C222.2,261.7 222.3,259.8 222.3,258.2 C222.3,256.7 222.3,255.1 222.4,254.2 C222.5,253.2 222.6,253.0 222.9,252.6 C223.2,252.2 223.9,252.0 224.4,251.6 C224.9,251.2 225.3,250.8 225.6,250.4 C225.9,249.9 226.1,249.4 226.3,248.9 C226.5,248.4 226.7,247.7 226.9,247.4 C227.2,247.1 227.5,247.0 227.8,247.0 Z" fill="url(#mg)"/>
<path d="M241.4,247.0 C241.7,247.0 242.1,247.1 242.3,247.4 C242.6,247.7 242.7,248.4 242.9,248.9 C243.1,249.4 243.3,249.9 243.6,250.4 C243.9,250.8 244.4,251.2 244.8,251.6 C245.2,252.0 246.0,252.2 246.3,252.6 C246.6,253.0 246.7,253.2 246.8,254.2 C246.9,255.1 246.9,256.7 246.9,258.2 C246.9,259.8 247.0,261.7 247.0,263.3 C247.0,265.0 247.1,266.5 247.1,267.9 C247.1,269.4 247.1,270.9 246.8,272.0 C246.6,273.2 246.1,274.1 245.6,274.8 C245.1,275.4 244.7,275.8 243.6,276.0 C242.5,276.2 240.3,276.2 239.2,276.0 C238.1,275.8 237.7,275.4 237.2,274.8 C236.7,274.1 236.2,273.2 236.0,272.0 C235.8,270.9 235.7,269.4 235.7,267.9 C235.7,266.5 235.8,265.0 235.8,263.3 C235.8,261.7 235.9,259.8 235.9,258.2 C235.9,256.7 235.9,255.1 236.0,254.2 C236.1,253.2 236.2,253.0 236.5,252.6 C236.8,252.2 237.6,252.0 238.0,251.6 C238.4,251.2 238.9,250.8 239.2,250.4 C239.5,249.9 239.7,249.4 239.9,248.9 C240.1,248.4 240.2,247.7 240.5,247.4 C240.8,247.1 241.1,247.0 241.4,247.0 Z" fill="url(#mg)"/>
<path d="M256.6,247.0 C256.9,247.0 257.2,247.1 257.5,247.4 C257.8,247.7 257.9,248.4 258.1,248.9 C258.3,249.4 258.5,249.9 258.8,250.4 C259.1,250.8 259.6,251.2 260.0,251.6 C260.4,252.0 261.2,252.2 261.5,252.6 C261.8,253.0 261.9,253.2 262.0,254.2 C262.1,255.1 262.1,256.7 262.1,258.2 C262.1,259.8 262.2,261.7 262.2,263.3 C262.2,265.0 262.3,266.5 262.3,267.9 C262.3,269.4 262.2,270.9 262.0,272.0 C261.8,273.2 261.3,274.1 260.8,274.8 C260.3,275.4 259.9,275.8 258.8,276.0 C257.7,276.2 255.5,276.2 254.4,276.0 C253.3,275.8 252.9,275.4 252.4,274.8 C251.9,274.1 251.5,273.2 251.2,272.0 C251.0,270.9 250.9,269.4 250.9,267.9 C250.9,266.5 251.0,265.0 251.0,263.3 C251.0,261.7 251.1,259.8 251.1,258.2 C251.1,256.7 251.1,255.1 251.2,254.2 C251.3,253.2 251.4,253.0 251.7,252.6 C252.0,252.2 252.8,252.0 253.2,251.6 C253.7,251.2 254.1,250.8 254.4,250.4 C254.7,249.9 254.9,249.4 255.1,248.9 C255.3,248.4 255.5,247.7 255.7,247.4 C256.0,247.1 256.3,247.0 256.6,247.0 Z" fill="url(#mg)"/>
<path d="M271.8,247.0 C272.1,247.0 272.4,247.1 272.7,247.4 C272.9,247.7 273.1,248.4 273.3,248.9 C273.5,249.4 273.7,249.9 274.0,250.4 C274.3,250.8 274.8,251.2 275.2,251.6 C275.6,252.0 276.4,252.2 276.7,252.6 C277.0,253.0 277.1,253.2 277.2,254.2 C277.3,255.1 277.3,256.7 277.3,258.2 C277.3,259.8 277.4,261.7 277.4,263.3 C277.4,265.0 277.5,266.5 277.5,267.9 C277.5,269.4 277.4,270.9 277.2,272.0 C276.9,273.2 276.5,274.1 276.0,274.8 C275.5,275.4 275.1,275.8 274.0,276.0 C272.9,276.2 270.7,276.2 269.6,276.0 C268.5,275.8 268.1,275.4 267.6,274.8 C267.1,274.1 266.7,273.2 266.4,272.0 C266.2,270.9 266.1,269.4 266.1,267.9 C266.1,266.5 266.2,265.0 266.2,263.3 C266.2,261.7 266.3,259.8 266.3,258.2 C266.3,256.7 266.3,255.1 266.4,254.2 C266.5,253.2 266.6,253.0 266.9,252.6 C267.2,252.2 268.0,252.0 268.4,251.6 C268.9,251.2 269.3,250.8 269.6,250.4 C269.9,249.9 270.1,249.4 270.3,248.9 C270.5,248.4 270.7,247.7 270.9,247.4 C271.2,247.1 271.5,247.0 271.8,247.0 Z" fill="url(#mg)"/>
<path d="M287.0,247.0 C287.3,247.0 287.6,247.1 287.9,247.4 C288.1,247.7 288.3,248.4 288.5,248.9 C288.7,249.4 288.9,249.9 289.2,250.4 C289.5,250.8 289.9,251.2 290.4,251.6 C290.8,252.0 291.6,252.2 291.9,252.6 C292.2,253.0 292.3,253.2 292.4,254.2 C292.5,255.1 292.5,256.7 292.5,258.2 C292.5,259.8 292.6,261.7 292.6,263.3 C292.6,265.0 292.7,266.5 292.7,267.9 C292.7,269.4 292.6,270.9 292.4,272.0 C292.1,273.2 291.7,274.1 291.2,274.8 C290.7,275.4 290.3,275.8 289.2,276.0 C288.1,276.2 285.9,276.2 284.8,276.0 C283.7,275.8 283.3,275.4 282.8,274.8 C282.3,274.1 281.9,273.2 281.6,272.0 C281.4,270.9 281.3,269.4 281.3,267.9 C281.3,266.5 281.4,265.0 281.4,263.3 C281.4,261.7 281.5,259.8 281.5,258.2 C281.5,256.7 281.5,255.1 281.6,254.2 C281.7,253.2 281.8,253.0 282.1,252.6 C282.4,252.2 283.2,252.0 283.6,251.6 C284.1,251.2 284.5,250.8 284.8,250.4 C285.1,249.9 285.3,249.4 285.5,248.9 C285.7,248.4 285.9,247.7 286.1,247.4 C286.4,247.1 286.7,247.0 287.0,247.0 Z" fill="url(#mg)"/>
</g></g>
<g filter="url(#bl12)" opacity="0.8">
<path d="M43.4,300.5 C43.7,300.5 44.0,300.6 44.3,300.9 C44.5,301.2 44.7,302.0 44.9,302.5 C45.1,303.0 45.3,303.5 45.6,303.9 C45.9,304.4 46.3,304.8 46.8,305.2 C47.2,305.6 48.0,305.8 48.3,306.2 C48.6,306.7 48.7,306.8 48.8,307.8 C48.9,308.8 48.9,310.4 48.9,312.0 C48.9,313.5 49.0,315.5 49.0,317.2 C49.0,318.8 49.1,320.4 49.1,321.9 C49.1,323.4 49.0,324.9 48.8,326.1 C48.5,327.2 48.1,328.2 47.6,328.9 C47.1,329.5 46.7,329.9 45.6,330.1 C44.5,330.3 42.3,330.3 41.2,330.1 C40.1,329.9 39.7,329.5 39.2,328.9 C38.7,328.2 38.2,327.2 38.0,326.1 C37.8,324.9 37.7,323.4 37.7,321.9 C37.7,320.4 37.8,318.8 37.8,317.2 C37.8,315.5 37.9,313.5 37.9,312.0 C37.9,310.4 37.9,308.8 38.0,307.8 C38.1,306.8 38.2,306.7 38.5,306.2 C38.8,305.8 39.5,305.6 40.0,305.2 C40.5,304.8 40.9,304.4 41.2,303.9 C41.5,303.5 41.7,303.0 41.9,302.5 C42.1,302.0 42.2,301.2 42.5,300.9 C42.8,300.6 43.1,300.5 43.4,300.5 Z" fill="#050505" stroke="#050505" stroke-width="2.6"/>
<path d="M58.3,301.4 C58.6,301.4 58.9,301.5 59.2,301.8 C59.4,302.1 59.6,302.8 59.8,303.3 C60.0,303.8 60.2,304.3 60.5,304.7 C60.8,305.2 61.2,305.6 61.7,305.9 C62.1,306.3 62.9,306.5 63.2,307.0 C63.5,307.4 63.6,307.5 63.7,308.5 C63.8,309.4 63.8,311.0 63.8,312.5 C63.8,314.0 63.9,316.0 63.9,317.6 C63.9,319.2 64.0,320.7 64.0,322.1 C64.0,323.6 63.9,325.0 63.7,326.2 C63.4,327.3 63.0,328.2 62.5,328.9 C62.0,329.5 61.6,329.9 60.5,330.1 C59.4,330.3 57.2,330.3 56.1,330.1 C55.0,329.9 54.6,329.5 54.1,328.9 C53.6,328.2 53.1,327.3 52.9,326.2 C52.6,325.0 52.6,323.6 52.6,322.1 C52.6,320.7 52.7,319.2 52.7,317.6 C52.7,316.0 52.8,314.0 52.8,312.5 C52.8,311.0 52.8,309.4 52.9,308.5 C53.0,307.5 53.1,307.4 53.4,307.0 C53.7,306.5 54.5,306.3 54.9,305.9 C55.3,305.6 55.8,305.2 56.1,304.7 C56.4,304.3 56.6,303.8 56.8,303.3 C57.0,302.8 57.1,302.1 57.4,301.8 C57.6,301.5 58.0,301.4 58.3,301.4 Z" fill="#050505" stroke="#050505" stroke-width="2.6"/>
<path d="M73.8,300.5 C74.1,300.5 74.5,300.6 74.7,300.9 C75.0,301.2 75.1,302.0 75.3,302.5 C75.5,303.0 75.7,303.5 76.0,303.9 C76.3,304.4 76.8,304.8 77.2,305.2 C77.7,305.6 78.4,305.8 78.7,306.2 C79.0,306.7 79.1,306.8 79.2,307.8 C79.3,308.8 79.3,310.4 79.3,312.0 C79.3,313.5 79.4,315.5 79.4,317.2 C79.4,318.8 79.5,320.4 79.5,321.9 C79.5,323.4 79.5,324.9 79.2,326.1 C79.0,327.2 78.5,328.2 78.0,328.9 C77.5,329.5 77.1,329.9 76.0,330.1 C74.9,330.3 72.7,330.3 71.6,330.1 C70.5,329.9 70.1,329.5 69.6,328.9 C69.1,328.2 68.6,327.2 68.4,326.1 C68.1,324.9 68.1,323.4 68.1,321.9 C68.1,320.4 68.2,318.8 68.2,317.2 C68.2,315.5 68.3,313.5 68.3,312.0 C68.3,310.4 68.3,308.8 68.4,307.8 C68.5,306.8 68.6,306.7 68.9,306.2 C69.2,305.8 69.9,305.6 70.4,305.2 C70.8,304.8 71.3,304.4 71.6,303.9 C71.9,303.5 72.1,303.0 72.3,302.5 C72.5,302.0 72.6,301.2 72.9,300.9 C73.1,300.6 73.5,300.5 73.8,300.5 Z" fill="#050505" stroke="#050505" stroke-width="2.6"/>
<path d="M88.6,301.4 C88.9,301.4 89.2,301.5 89.5,301.8 C89.8,302.1 89.9,302.8 90.1,303.3 C90.3,303.8 90.5,304.3 90.8,304.7 C91.1,305.2 91.5,305.6 92.0,305.9 C92.5,306.3 93.2,306.5 93.5,307.0 C93.8,307.4 93.9,307.5 94.0,308.5 C94.1,309.4 94.1,311.0 94.1,312.5 C94.1,314.0 94.2,316.0 94.2,317.6 C94.2,319.2 94.3,320.7 94.3,322.1 C94.3,323.6 94.2,325.0 94.0,326.2 C93.8,327.3 93.3,328.2 92.8,328.9 C92.3,329.5 91.9,329.9 90.8,330.1 C89.7,330.3 87.5,330.3 86.4,330.1 C85.3,329.9 84.9,329.5 84.4,328.9 C83.9,328.2 83.4,327.3 83.2,326.2 C82.9,325.0 82.9,323.6 82.9,322.1 C82.9,320.7 83.0,319.2 83.0,317.6 C83.0,316.0 83.1,314.0 83.1,312.5 C83.1,311.0 83.1,309.4 83.2,308.5 C83.3,307.5 83.4,307.4 83.7,307.0 C84.0,306.5 84.7,306.3 85.2,305.9 C85.6,305.6 86.1,305.2 86.4,304.7 C86.7,304.3 86.9,303.8 87.1,303.3 C87.3,302.8 87.4,302.1 87.7,301.8 C87.9,301.5 88.3,301.4 88.6,301.4 Z" fill="#050505" stroke="#050505" stroke-width="2.6"/>
<path d="M103.8,299.7 C104.1,299.7 104.5,299.8 104.7,300.1 C105.0,300.5 105.1,301.2 105.3,301.7 C105.5,302.2 105.7,302.7 106.0,303.2 C106.3,303.6 106.8,304.1 107.2,304.4 C107.7,304.8 108.4,305.1 108.7,305.5 C109.0,305.9 109.1,306.1 109.2,307.1 C109.3,308.0 109.3,309.7 109.3,311.3 C109.3,312.9 109.4,314.9 109.4,316.6 C109.4,318.2 109.5,319.8 109.5,321.3 C109.5,322.8 109.5,324.3 109.2,325.5 C109.0,326.7 108.5,327.7 108.0,328.4 C107.5,329.0 107.1,329.4 106.0,329.6 C104.9,329.8 102.7,329.8 101.6,329.6 C100.5,329.4 100.1,329.0 99.6,328.4 C99.1,327.7 98.6,326.7 98.4,325.5 C98.1,324.3 98.1,322.8 98.1,321.3 C98.1,319.8 98.2,318.2 98.2,316.6 C98.2,314.9 98.3,312.9 98.3,311.3 C98.3,309.7 98.3,308.0 98.4,307.1 C98.5,306.1 98.6,305.9 98.9,305.5 C99.2,305.1 99.9,304.8 100.4,304.4 C100.8,304.1 101.3,303.6 101.6,303.2 C101.9,302.7 102.1,302.2 102.3,301.7 C102.5,301.2 102.6,300.5 102.9,300.1 C103.1,299.8 103.5,299.7 103.8,299.7 Z" fill="#050505" stroke="#050505" stroke-width="2.6"/>
</g>
<g filter="url(#bl6)">
<path d="M43.1,328.7 Q43.4,337.7 44.6,350.3" stroke="#a8a8a8" stroke-width="1.45" fill="none"/>
<path d="M39.8,328.2 L39.0,331.3 M47.0,328.2 L47.8,331.3" stroke="#7a7a7a" stroke-width="1.8" stroke-linecap="round"/>
<path d="M58.0,328.7 Q58.3,337.7 59.5,350.3" stroke="#a8a8a8" stroke-width="1.45" fill="none"/>
<path d="M54.699999999999996,328.2 L53.9,331.3 M61.9,328.2 L62.699999999999996,331.3" stroke="#7a7a7a" stroke-width="1.8" stroke-linecap="round"/>
<path d="M73.5,328.7 Q73.8,337.7 75.0,350.3" stroke="#a8a8a8" stroke-width="1.45" fill="none"/>
<path d="M70.2,328.2 L69.39999999999999,331.3 M77.39999999999999,328.2 L78.2,331.3" stroke="#7a7a7a" stroke-width="1.8" stroke-linecap="round"/>
<path d="M88.3,328.7 Q88.6,337.7 89.8,350.3" stroke="#a8a8a8" stroke-width="1.45" fill="none"/>
<path d="M85.0,328.2 L84.19999999999999,331.3 M92.19999999999999,328.2 L93.0,331.3" stroke="#7a7a7a" stroke-width="1.8" stroke-linecap="round"/>
<path d="M103.5,328.2 Q103.8,337.2 105.0,350.3" stroke="#a8a8a8" stroke-width="1.45" fill="none"/>
<path d="M100.2,327.7 L99.39999999999999,330.8 M107.39999999999999,327.7 L108.2,330.8" stroke="#7a7a7a" stroke-width="1.8" stroke-linecap="round"/>
</g>
<g filter="url(#bl6)"><g filter="url(#mtex)">
<path d="M43.4,300.5 C43.7,300.5 44.0,300.6 44.3,300.9 C44.5,301.2 44.7,302.0 44.9,302.5 C45.1,303.0 45.3,303.5 45.6,303.9 C45.9,304.4 46.3,304.8 46.8,305.2 C47.2,305.6 48.0,305.8 48.3,306.2 C48.6,306.7 48.7,306.8 48.8,307.8 C48.9,308.8 48.9,310.4 48.9,312.0 C48.9,313.5 49.0,315.5 49.0,317.2 C49.0,318.8 49.1,320.4 49.1,321.9 C49.1,323.4 49.0,324.9 48.8,326.1 C48.5,327.2 48.1,328.2 47.6,328.9 C47.1,329.5 46.7,329.9 45.6,330.1 C44.5,330.3 42.3,330.3 41.2,330.1 C40.1,329.9 39.7,329.5 39.2,328.9 C38.7,328.2 38.2,327.2 38.0,326.1 C37.8,324.9 37.7,323.4 37.7,321.9 C37.7,320.4 37.8,318.8 37.8,317.2 C37.8,315.5 37.9,313.5 37.9,312.0 C37.9,310.4 37.9,308.8 38.0,307.8 C38.1,306.8 38.2,306.7 38.5,306.2 C38.8,305.8 39.5,305.6 40.0,305.2 C40.5,304.8 40.9,304.4 41.2,303.9 C41.5,303.5 41.7,303.0 41.9,302.5 C42.1,302.0 42.2,301.2 42.5,300.9 C42.8,300.6 43.1,300.5 43.4,300.5 Z" fill="url(#mg)"/>
<path d="M58.3,301.4 C58.6,301.4 58.9,301.5 59.2,301.8 C59.4,302.1 59.6,302.8 59.8,303.3 C60.0,303.8 60.2,304.3 60.5,304.7 C60.8,305.2 61.2,305.6 61.7,305.9 C62.1,306.3 62.9,306.5 63.2,307.0 C63.5,307.4 63.6,307.5 63.7,308.5 C63.8,309.4 63.8,311.0 63.8,312.5 C63.8,314.0 63.9,316.0 63.9,317.6 C63.9,319.2 64.0,320.7 64.0,322.1 C64.0,323.6 63.9,325.0 63.7,326.2 C63.4,327.3 63.0,328.2 62.5,328.9 C62.0,329.5 61.6,329.9 60.5,330.1 C59.4,330.3 57.2,330.3 56.1,330.1 C55.0,329.9 54.6,329.5 54.1,328.9 C53.6,328.2 53.1,327.3 52.9,326.2 C52.6,325.0 52.6,323.6 52.6,322.1 C52.6,320.7 52.7,319.2 52.7,317.6 C52.7,316.0 52.8,314.0 52.8,312.5 C52.8,311.0 52.8,309.4 52.9,308.5 C53.0,307.5 53.1,307.4 53.4,307.0 C53.7,306.5 54.5,306.3 54.9,305.9 C55.3,305.6 55.8,305.2 56.1,304.7 C56.4,304.3 56.6,303.8 56.8,303.3 C57.0,302.8 57.1,302.1 57.4,301.8 C57.6,301.5 58.0,301.4 58.3,301.4 Z" fill="url(#mg)"/>
<path d="M73.8,300.5 C74.1,300.5 74.5,300.6 74.7,300.9 C75.0,301.2 75.1,302.0 75.3,302.5 C75.5,303.0 75.7,303.5 76.0,303.9 C76.3,304.4 76.8,304.8 77.2,305.2 C77.7,305.6 78.4,305.8 78.7,306.2 C79.0,306.7 79.1,306.8 79.2,307.8 C79.3,308.8 79.3,310.4 79.3,312.0 C79.3,313.5 79.4,315.5 79.4,317.2 C79.4,318.8 79.5,320.4 79.5,321.9 C79.5,323.4 79.5,324.9 79.2,326.1 C79.0,327.2 78.5,328.2 78.0,328.9 C77.5,329.5 77.1,329.9 76.0,330.1 C74.9,330.3 72.7,330.3 71.6,330.1 C70.5,329.9 70.1,329.5 69.6,328.9 C69.1,328.2 68.6,327.2 68.4,326.1 C68.1,324.9 68.1,323.4 68.1,321.9 C68.1,320.4 68.2,318.8 68.2,317.2 C68.2,315.5 68.3,313.5 68.3,312.0 C68.3,310.4 68.3,308.8 68.4,307.8 C68.5,306.8 68.6,306.7 68.9,306.2 C69.2,305.8 69.9,305.6 70.4,305.2 C70.8,304.8 71.3,304.4 71.6,303.9 C71.9,303.5 72.1,303.0 72.3,302.5 C72.5,302.0 72.6,301.2 72.9,300.9 C73.1,300.6 73.5,300.5 73.8,300.5 Z" fill="url(#mg)"/>
<path d="M88.6,301.4 C88.9,301.4 89.2,301.5 89.5,301.8 C89.8,302.1 89.9,302.8 90.1,303.3 C90.3,303.8 90.5,304.3 90.8,304.7 C91.1,305.2 91.5,305.6 92.0,305.9 C92.5,306.3 93.2,306.5 93.5,307.0 C93.8,307.4 93.9,307.5 94.0,308.5 C94.1,309.4 94.1,311.0 94.1,312.5 C94.1,314.0 94.2,316.0 94.2,317.6 C94.2,319.2 94.3,320.7 94.3,322.1 C94.3,323.6 94.2,325.0 94.0,326.2 C93.8,327.3 93.3,328.2 92.8,328.9 C92.3,329.5 91.9,329.9 90.8,330.1 C89.7,330.3 87.5,330.3 86.4,330.1 C85.3,329.9 84.9,329.5 84.4,328.9 C83.9,328.2 83.4,327.3 83.2,326.2 C82.9,325.0 82.9,323.6 82.9,322.1 C82.9,320.7 83.0,319.2 83.0,317.6 C83.0,316.0 83.1,314.0 83.1,312.5 C83.1,311.0 83.1,309.4 83.2,308.5 C83.3,307.5 83.4,307.4 83.7,307.0 C84.0,306.5 84.7,306.3 85.2,305.9 C85.6,305.6 86.1,305.2 86.4,304.7 C86.7,304.3 86.9,303.8 87.1,303.3 C87.3,302.8 87.4,302.1 87.7,301.8 C87.9,301.5 88.3,301.4 88.6,301.4 Z" fill="url(#mg)"/>
<path d="M103.8,299.7 C104.1,299.7 104.5,299.8 104.7,300.1 C105.0,300.5 105.1,301.2 105.3,301.7 C105.5,302.2 105.7,302.7 106.0,303.2 C106.3,303.6 106.8,304.1 107.2,304.4 C107.7,304.8 108.4,305.1 108.7,305.5 C109.0,305.9 109.1,306.1 109.2,307.1 C109.3,308.0 109.3,309.7 109.3,311.3 C109.3,312.9 109.4,314.9 109.4,316.6 C109.4,318.2 109.5,319.8 109.5,321.3 C109.5,322.8 109.5,324.3 109.2,325.5 C109.0,326.7 108.5,327.7 108.0,328.4 C107.5,329.0 107.1,329.4 106.0,329.6 C104.9,329.8 102.7,329.8 101.6,329.6 C100.5,329.4 100.1,329.0 99.6,328.4 C99.1,327.7 98.6,326.7 98.4,325.5 C98.1,324.3 98.1,322.8 98.1,321.3 C98.1,319.8 98.2,318.2 98.2,316.6 C98.2,314.9 98.3,312.9 98.3,311.3 C98.3,309.7 98.3,308.0 98.4,307.1 C98.5,306.1 98.6,305.9 98.9,305.5 C99.2,305.1 99.9,304.8 100.4,304.4 C100.8,304.1 101.3,303.6 101.6,303.2 C101.9,302.7 102.1,302.2 102.3,301.7 C102.5,301.2 102.6,300.5 102.9,300.1 C103.1,299.8 103.5,299.7 103.8,299.7 Z" fill="url(#mg)"/>
</g></g>
<g filter="url(#bl12)" opacity="0.8">
<path d="M138.3,303.0 C138.6,303.0 139.0,303.1 139.2,303.4 C139.5,303.7 139.6,304.5 139.8,305.0 C140.0,305.5 140.2,306.0 140.5,306.5 C140.8,306.9 141.2,307.3 141.7,307.7 C142.2,308.1 142.9,308.3 143.2,308.8 C143.5,309.2 143.6,309.4 143.7,310.3 C143.8,311.3 143.8,312.9 143.8,314.5 C143.8,316.1 143.9,318.1 143.9,319.7 C143.9,321.4 144.0,323.0 144.0,324.5 C144.0,325.9 144.0,327.5 143.7,328.6 C143.5,329.8 143.0,330.8 142.5,331.5 C142.0,332.1 141.6,332.5 140.5,332.7 C139.4,332.9 137.2,332.9 136.1,332.7 C135.0,332.5 134.6,332.1 134.1,331.5 C133.6,330.8 133.2,329.8 132.9,328.6 C132.7,327.5 132.6,325.9 132.6,324.5 C132.6,323.0 132.7,321.4 132.7,319.7 C132.7,318.1 132.8,316.1 132.8,314.5 C132.8,312.9 132.8,311.3 132.9,310.3 C133.0,309.4 133.1,309.2 133.4,308.8 C133.7,308.3 134.4,308.1 134.9,307.7 C135.4,307.3 135.8,306.9 136.1,306.5 C136.4,306.0 136.6,305.5 136.8,305.0 C137.0,304.5 137.2,303.7 137.4,303.4 C137.7,303.1 138.0,303.0 138.3,303.0 Z" fill="#050505" stroke="#050505" stroke-width="2.6"/>
<path d="M153.0,303.0 C153.3,303.0 153.7,303.1 153.9,303.4 C154.2,303.7 154.3,304.5 154.5,305.0 C154.7,305.5 154.9,306.0 155.2,306.5 C155.5,306.9 155.9,307.3 156.4,307.7 C156.9,308.1 157.6,308.3 157.9,308.8 C158.2,309.2 158.3,309.4 158.4,310.3 C158.5,311.3 158.5,312.9 158.5,314.5 C158.5,316.1 158.6,318.1 158.6,319.7 C158.6,321.4 158.7,323.0 158.7,324.5 C158.7,325.9 158.7,327.5 158.4,328.6 C158.2,329.8 157.7,330.8 157.2,331.5 C156.7,332.1 156.3,332.5 155.2,332.7 C154.1,332.9 151.9,332.9 150.8,332.7 C149.7,332.5 149.3,332.1 148.8,331.5 C148.3,330.8 147.8,329.8 147.6,328.6 C147.3,327.5 147.3,325.9 147.3,324.5 C147.3,323.0 147.4,321.4 147.4,319.7 C147.4,318.1 147.5,316.1 147.5,314.5 C147.5,312.9 147.5,311.3 147.6,310.3 C147.7,309.4 147.8,309.2 148.1,308.8 C148.4,308.3 149.1,308.1 149.6,307.7 C150.1,307.3 150.5,306.9 150.8,306.5 C151.1,306.0 151.3,305.5 151.5,305.0 C151.7,304.5 151.8,303.7 152.1,303.4 C152.3,303.1 152.7,303.0 153.0,303.0 Z" fill="#050505" stroke="#050505" stroke-width="2.6"/>
<path d="M168.3,302.2 C168.6,302.2 169.0,302.3 169.2,302.6 C169.5,303.0 169.6,303.7 169.8,304.2 C170.0,304.7 170.2,305.2 170.5,305.7 C170.8,306.1 171.2,306.6 171.7,306.9 C172.2,307.3 172.9,307.6 173.2,308.0 C173.5,308.4 173.6,308.6 173.7,309.6 C173.8,310.5 173.8,312.2 173.8,313.8 C173.8,315.4 173.9,317.4 173.9,319.1 C173.9,320.7 174.0,322.3 174.0,323.8 C174.0,325.3 174.0,326.8 173.7,328.0 C173.5,329.2 173.0,330.2 172.5,330.9 C172.0,331.5 171.6,331.9 170.5,332.1 C169.4,332.3 167.2,332.3 166.1,332.1 C165.0,331.9 164.6,331.5 164.1,330.9 C163.6,330.2 163.2,329.2 162.9,328.0 C162.7,326.8 162.6,325.3 162.6,323.8 C162.6,322.3 162.7,320.7 162.7,319.1 C162.7,317.4 162.8,315.4 162.8,313.8 C162.8,312.2 162.8,310.5 162.9,309.6 C163.0,308.6 163.1,308.4 163.4,308.0 C163.7,307.6 164.4,307.3 164.9,306.9 C165.4,306.6 165.8,306.1 166.1,305.7 C166.4,305.2 166.6,304.7 166.8,304.2 C167.0,303.7 167.2,303.0 167.4,302.6 C167.7,302.3 168.0,302.2 168.3,302.2 Z" fill="#050505" stroke="#050505" stroke-width="2.6"/>
<path d="M183.2,302.2 C183.5,302.2 183.8,302.3 184.1,302.6 C184.3,303.0 184.5,303.7 184.7,304.2 C184.9,304.7 185.1,305.2 185.4,305.7 C185.7,306.1 186.1,306.6 186.6,306.9 C187.1,307.3 187.8,307.6 188.1,308.0 C188.4,308.4 188.5,308.6 188.6,309.6 C188.7,310.5 188.7,312.2 188.7,313.8 C188.7,315.4 188.8,317.4 188.8,319.1 C188.8,320.7 188.9,322.3 188.9,323.8 C188.9,325.3 188.8,326.8 188.6,328.0 C188.3,329.2 187.9,330.2 187.4,330.9 C186.9,331.5 186.5,331.9 185.4,332.1 C184.3,332.3 182.1,332.3 181.0,332.1 C179.9,331.9 179.5,331.5 179.0,330.9 C178.5,330.2 178.0,329.2 177.8,328.0 C177.5,326.8 177.5,325.3 177.5,323.8 C177.5,322.3 177.6,320.7 177.6,319.1 C177.6,317.4 177.7,315.4 177.7,313.8 C177.7,312.2 177.7,310.5 177.8,309.6 C177.9,308.6 178.0,308.4 178.3,308.0 C178.6,307.6 179.3,307.3 179.8,306.9 C180.2,306.6 180.7,306.1 181.0,305.7 C181.3,305.2 181.5,304.7 181.7,304.2 C181.9,303.7 182.0,303.0 182.3,302.6 C182.5,302.3 182.9,302.2 183.2,302.2 Z" fill="#050505" stroke="#050505" stroke-width="2.6"/>
<path d="M197.7,303.0 C198.0,303.0 198.3,303.1 198.6,303.4 C198.8,303.7 199.0,304.5 199.2,305.0 C199.4,305.5 199.6,306.0 199.9,306.4 C200.2,306.9 200.6,307.3 201.1,307.7 C201.6,308.0 202.3,308.3 202.6,308.7 C202.9,309.1 203.0,309.3 203.1,310.2 C203.2,311.2 203.2,312.8 203.2,314.4 C203.2,315.9 203.3,317.9 203.3,319.6 C203.3,321.2 203.4,322.8 203.4,324.2 C203.4,325.7 203.3,327.2 203.1,328.4 C202.8,329.5 202.4,330.5 201.9,331.2 C201.4,331.8 201.0,332.2 199.9,332.4 C198.8,332.6 196.6,332.6 195.5,332.4 C194.4,332.2 194.0,331.8 193.5,331.2 C193.0,330.5 192.5,329.5 192.3,328.4 C192.0,327.2 192.0,325.7 192.0,324.2 C192.0,322.8 192.1,321.2 192.1,319.6 C192.1,317.9 192.2,315.9 192.2,314.4 C192.2,312.8 192.2,311.2 192.3,310.2 C192.4,309.3 192.5,309.1 192.8,308.7 C193.1,308.3 193.8,308.0 194.3,307.7 C194.8,307.3 195.2,306.9 195.5,306.4 C195.8,306.0 196.0,305.5 196.2,305.0 C196.4,304.5 196.5,303.7 196.8,303.4 C197.0,303.1 197.4,303.0 197.7,303.0 Z" fill="#050505" stroke="#050505" stroke-width="2.6"/>
</g>
<g filter="url(#bl6)">
<path d="M138.0,331.3 Q138.3,340.3 139.5,350.3" stroke="#a8a8a8" stroke-width="1.45" fill="none"/>
<path d="M134.70000000000002,330.8 L133.9,333.90000000000003 M141.9,330.8 L142.70000000000002,333.90000000000003" stroke="#7a7a7a" stroke-width="1.8" stroke-linecap="round"/>
<path d="M152.7,331.3 Q153.0,340.3 154.2,350.3" stroke="#a8a8a8" stroke-width="1.45" fill="none"/>
<path d="M149.4,330.8 L148.6,333.90000000000003 M156.6,330.8 L157.4,333.90000000000003" stroke="#7a7a7a" stroke-width="1.8" stroke-linecap="round"/>
<path d="M168.0,330.7 Q168.3,339.7 169.5,350.3" stroke="#a8a8a8" stroke-width="1.45" fill="none"/>
<path d="M164.70000000000002,330.2 L163.9,333.3 M171.9,330.2 L172.70000000000002,333.3" stroke="#7a7a7a" stroke-width="1.8" stroke-linecap="round"/>
<path d="M182.89999999999998,330.7 Q183.2,339.7 184.39999999999998,350.3" stroke="#a8a8a8" stroke-width="1.45" fill="none"/>
<path d="M179.6,330.2 L178.79999999999998,333.3 M186.79999999999998,330.2 L187.6,333.3" stroke="#7a7a7a" stroke-width="1.8" stroke-linecap="round"/>
<path d="M197.39999999999998,331.0 Q197.7,340.0 198.89999999999998,350.3" stroke="#a8a8a8" stroke-width="1.45" fill="none"/>
<path d="M194.1,330.5 L193.29999999999998,333.6 M201.29999999999998,330.5 L202.1,333.6" stroke="#7a7a7a" stroke-width="1.8" stroke-linecap="round"/>
</g>
<g filter="url(#bl6)"><g filter="url(#mtex)">
<path d="M138.3,303.0 C138.6,303.0 139.0,303.1 139.2,303.4 C139.5,303.7 139.6,304.5 139.8,305.0 C140.0,305.5 140.2,306.0 140.5,306.5 C140.8,306.9 141.2,307.3 141.7,307.7 C142.2,308.1 142.9,308.3 143.2,308.8 C143.5,309.2 143.6,309.4 143.7,310.3 C143.8,311.3 143.8,312.9 143.8,314.5 C143.8,316.1 143.9,318.1 143.9,319.7 C143.9,321.4 144.0,323.0 144.0,324.5 C144.0,325.9 144.0,327.5 143.7,328.6 C143.5,329.8 143.0,330.8 142.5,331.5 C142.0,332.1 141.6,332.5 140.5,332.7 C139.4,332.9 137.2,332.9 136.1,332.7 C135.0,332.5 134.6,332.1 134.1,331.5 C133.6,330.8 133.2,329.8 132.9,328.6 C132.7,327.5 132.6,325.9 132.6,324.5 C132.6,323.0 132.7,321.4 132.7,319.7 C132.7,318.1 132.8,316.1 132.8,314.5 C132.8,312.9 132.8,311.3 132.9,310.3 C133.0,309.4 133.1,309.2 133.4,308.8 C133.7,308.3 134.4,308.1 134.9,307.7 C135.4,307.3 135.8,306.9 136.1,306.5 C136.4,306.0 136.6,305.5 136.8,305.0 C137.0,304.5 137.2,303.7 137.4,303.4 C137.7,303.1 138.0,303.0 138.3,303.0 Z" fill="url(#mg)"/>
<path d="M153.0,303.0 C153.3,303.0 153.7,303.1 153.9,303.4 C154.2,303.7 154.3,304.5 154.5,305.0 C154.7,305.5 154.9,306.0 155.2,306.5 C155.5,306.9 155.9,307.3 156.4,307.7 C156.9,308.1 157.6,308.3 157.9,308.8 C158.2,309.2 158.3,309.4 158.4,310.3 C158.5,311.3 158.5,312.9 158.5,314.5 C158.5,316.1 158.6,318.1 158.6,319.7 C158.6,321.4 158.7,323.0 158.7,324.5 C158.7,325.9 158.7,327.5 158.4,328.6 C158.2,329.8 157.7,330.8 157.2,331.5 C156.7,332.1 156.3,332.5 155.2,332.7 C154.1,332.9 151.9,332.9 150.8,332.7 C149.7,332.5 149.3,332.1 148.8,331.5 C148.3,330.8 147.8,329.8 147.6,328.6 C147.3,327.5 147.3,325.9 147.3,324.5 C147.3,323.0 147.4,321.4 147.4,319.7 C147.4,318.1 147.5,316.1 147.5,314.5 C147.5,312.9 147.5,311.3 147.6,310.3 C147.7,309.4 147.8,309.2 148.1,308.8 C148.4,308.3 149.1,308.1 149.6,307.7 C150.1,307.3 150.5,306.9 150.8,306.5 C151.1,306.0 151.3,305.5 151.5,305.0 C151.7,304.5 151.8,303.7 152.1,303.4 C152.3,303.1 152.7,303.0 153.0,303.0 Z" fill="url(#mg)"/>
<path d="M168.3,302.2 C168.6,302.2 169.0,302.3 169.2,302.6 C169.5,303.0 169.6,303.7 169.8,304.2 C170.0,304.7 170.2,305.2 170.5,305.7 C170.8,306.1 171.2,306.6 171.7,306.9 C172.2,307.3 172.9,307.6 173.2,308.0 C173.5,308.4 173.6,308.6 173.7,309.6 C173.8,310.5 173.8,312.2 173.8,313.8 C173.8,315.4 173.9,317.4 173.9,319.1 C173.9,320.7 174.0,322.3 174.0,323.8 C174.0,325.3 174.0,326.8 173.7,328.0 C173.5,329.2 173.0,330.2 172.5,330.9 C172.0,331.5 171.6,331.9 170.5,332.1 C169.4,332.3 167.2,332.3 166.1,332.1 C165.0,331.9 164.6,331.5 164.1,330.9 C163.6,330.2 163.2,329.2 162.9,328.0 C162.7,326.8 162.6,325.3 162.6,323.8 C162.6,322.3 162.7,320.7 162.7,319.1 C162.7,317.4 162.8,315.4 162.8,313.8 C162.8,312.2 162.8,310.5 162.9,309.6 C163.0,308.6 163.1,308.4 163.4,308.0 C163.7,307.6 164.4,307.3 164.9,306.9 C165.4,306.6 165.8,306.1 166.1,305.7 C166.4,305.2 166.6,304.7 166.8,304.2 C167.0,303.7 167.2,303.0 167.4,302.6 C167.7,302.3 168.0,302.2 168.3,302.2 Z" fill="url(#mg)"/>
<path d="M183.2,302.2 C183.5,302.2 183.8,302.3 184.1,302.6 C184.3,303.0 184.5,303.7 184.7,304.2 C184.9,304.7 185.1,305.2 185.4,305.7 C185.7,306.1 186.1,306.6 186.6,306.9 C187.1,307.3 187.8,307.6 188.1,308.0 C188.4,308.4 188.5,308.6 188.6,309.6 C188.7,310.5 188.7,312.2 188.7,313.8 C188.7,315.4 188.8,317.4 188.8,319.1 C188.8,320.7 188.9,322.3 188.9,323.8 C188.9,325.3 188.8,326.8 188.6,328.0 C188.3,329.2 187.9,330.2 187.4,330.9 C186.9,331.5 186.5,331.9 185.4,332.1 C184.3,332.3 182.1,332.3 181.0,332.1 C179.9,331.9 179.5,331.5 179.0,330.9 C178.5,330.2 178.0,329.2 177.8,328.0 C177.5,326.8 177.5,325.3 177.5,323.8 C177.5,322.3 177.6,320.7 177.6,319.1 C177.6,317.4 177.7,315.4 177.7,313.8 C177.7,312.2 177.7,310.5 177.8,309.6 C177.9,308.6 178.0,308.4 178.3,308.0 C178.6,307.6 179.3,307.3 179.8,306.9 C180.2,306.6 180.7,306.1 181.0,305.7 C181.3,305.2 181.5,304.7 181.7,304.2 C181.9,303.7 182.0,303.0 182.3,302.6 C182.5,302.3 182.9,302.2 183.2,302.2 Z" fill="url(#mg)"/>
<path d="M197.7,303.0 C198.0,303.0 198.3,303.1 198.6,303.4 C198.8,303.7 199.0,304.5 199.2,305.0 C199.4,305.5 199.6,306.0 199.9,306.4 C200.2,306.9 200.6,307.3 201.1,307.7 C201.6,308.0 202.3,308.3 202.6,308.7 C202.9,309.1 203.0,309.3 203.1,310.2 C203.2,311.2 203.2,312.8 203.2,314.4 C203.2,315.9 203.3,317.9 203.3,319.6 C203.3,321.2 203.4,322.8 203.4,324.2 C203.4,325.7 203.3,327.2 203.1,328.4 C202.8,329.5 202.4,330.5 201.9,331.2 C201.4,331.8 201.0,332.2 199.9,332.4 C198.8,332.6 196.6,332.6 195.5,332.4 C194.4,332.2 194.0,331.8 193.5,331.2 C193.0,330.5 192.5,329.5 192.3,328.4 C192.0,327.2 192.0,325.7 192.0,324.2 C192.0,322.8 192.1,321.2 192.1,319.6 C192.1,317.9 192.2,315.9 192.2,314.4 C192.2,312.8 192.2,311.2 192.3,310.2 C192.4,309.3 192.5,309.1 192.8,308.7 C193.1,308.3 193.8,308.0 194.3,307.7 C194.8,307.3 195.2,306.9 195.5,306.4 C195.8,306.0 196.0,305.5 196.2,305.0 C196.4,304.5 196.5,303.7 196.8,303.4 C197.0,303.1 197.4,303.0 197.7,303.0 Z" fill="url(#mg)"/>
</g></g>
<g filter="url(#bl12)" opacity="0.8">
<path d="M231.4,303.0 C231.7,303.0 232.1,303.1 232.3,303.4 C232.6,303.8 232.7,304.5 232.9,305.0 C233.1,305.6 233.3,306.1 233.6,306.5 C233.9,307.0 234.4,307.4 234.8,307.8 C235.2,308.2 236.0,308.4 236.3,308.9 C236.6,309.3 236.7,309.5 236.8,310.5 C236.9,311.5 236.9,313.2 236.9,314.8 C236.9,316.4 237.0,318.4 237.0,320.1 C237.0,321.8 237.1,323.4 237.1,325.0 C237.1,326.5 237.1,328.1 236.8,329.2 C236.6,330.4 236.1,331.4 235.6,332.1 C235.1,332.8 234.7,333.2 233.6,333.4 C232.5,333.6 230.3,333.6 229.2,333.4 C228.1,333.2 227.7,332.8 227.2,332.1 C226.7,331.4 226.2,330.4 226.0,329.2 C225.8,328.1 225.7,326.5 225.7,325.0 C225.7,323.4 225.8,321.8 225.8,320.1 C225.8,318.4 225.9,316.4 225.9,314.8 C225.9,313.2 225.9,311.5 226.0,310.5 C226.1,309.5 226.2,309.3 226.5,308.9 C226.8,308.4 227.6,308.2 228.0,307.8 C228.4,307.4 228.9,307.0 229.2,306.5 C229.5,306.1 229.7,305.6 229.9,305.0 C230.1,304.5 230.2,303.8 230.5,303.4 C230.8,303.1 231.1,303.0 231.4,303.0 Z" fill="#050505" stroke="#050505" stroke-width="2.6"/>
<path d="M246.0,302.2 C246.3,302.2 246.7,302.3 246.9,302.6 C247.2,302.9 247.3,303.6 247.5,304.1 C247.7,304.6 247.9,305.1 248.2,305.6 C248.5,306.0 248.9,306.4 249.4,306.8 C249.9,307.2 250.6,307.4 250.9,307.8 C251.2,308.2 251.3,308.4 251.4,309.3 C251.5,310.3 251.5,311.9 251.5,313.4 C251.5,314.9 251.6,316.9 251.6,318.5 C251.6,320.1 251.7,321.6 251.7,323.1 C251.7,324.5 251.7,326.0 251.4,327.1 C251.2,328.3 250.7,329.2 250.2,329.9 C249.7,330.5 249.3,330.9 248.2,331.1 C247.1,331.3 244.9,331.3 243.8,331.1 C242.7,330.9 242.3,330.5 241.8,329.9 C241.3,329.2 240.8,328.3 240.6,327.1 C240.3,326.0 240.3,324.5 240.3,323.1 C240.3,321.6 240.4,320.1 240.4,318.5 C240.4,316.9 240.5,314.9 240.5,313.4 C240.5,311.9 240.5,310.3 240.6,309.3 C240.7,308.4 240.8,308.2 241.1,307.8 C241.4,307.4 242.1,307.2 242.6,306.8 C243.1,306.4 243.5,306.0 243.8,305.6 C244.1,305.1 244.3,304.6 244.5,304.1 C244.7,303.6 244.8,302.9 245.1,302.6 C245.3,302.3 245.7,302.2 246.0,302.2 Z" fill="#050505" stroke="#050505" stroke-width="2.6"/>
<path d="M260.8,303.0 C261.1,303.0 261.4,303.1 261.7,303.4 C261.9,303.7 262.1,304.4 262.3,304.9 C262.5,305.4 262.7,305.9 263.0,306.4 C263.3,306.8 263.8,307.2 264.2,307.6 C264.6,308.0 265.4,308.2 265.7,308.6 C266.0,309.0 266.1,309.2 266.2,310.1 C266.3,311.1 266.3,312.7 266.3,314.2 C266.3,315.7 266.4,317.7 266.4,319.3 C266.4,320.9 266.5,322.4 266.5,323.9 C266.5,325.3 266.4,326.8 266.2,327.9 C265.9,329.1 265.5,330.0 265.0,330.7 C264.5,331.3 264.1,331.7 263.0,331.9 C261.9,332.1 259.7,332.1 258.6,331.9 C257.5,331.7 257.1,331.3 256.6,330.7 C256.1,330.0 255.7,329.1 255.4,327.9 C255.2,326.8 255.1,325.3 255.1,323.9 C255.1,322.4 255.2,320.9 255.2,319.3 C255.2,317.7 255.3,315.7 255.3,314.2 C255.3,312.7 255.3,311.1 255.4,310.1 C255.5,309.2 255.6,309.0 255.9,308.6 C256.2,308.2 257.0,308.0 257.4,307.6 C257.9,307.2 258.3,306.8 258.6,306.4 C258.9,305.9 259.1,305.4 259.3,304.9 C259.5,304.4 259.7,303.7 259.9,303.4 C260.2,303.1 260.5,303.0 260.8,303.0 Z" fill="#050505" stroke="#050505" stroke-width="2.6"/>
<path d="M276.0,303.0 C276.3,303.0 276.6,303.1 276.9,303.4 C277.1,303.7 277.3,304.4 277.5,304.9 C277.7,305.4 277.9,305.9 278.2,306.4 C278.5,306.8 278.9,307.2 279.4,307.6 C279.8,308.0 280.6,308.2 280.9,308.6 C281.2,309.0 281.3,309.2 281.4,310.1 C281.5,311.1 281.5,312.7 281.5,314.2 C281.5,315.7 281.6,317.7 281.6,319.3 C281.6,320.9 281.7,322.4 281.7,323.9 C281.7,325.3 281.6,326.8 281.4,327.9 C281.1,329.1 280.7,330.0 280.2,330.7 C279.7,331.3 279.3,331.7 278.2,331.9 C277.1,332.1 274.9,332.1 273.8,331.9 C272.7,331.7 272.3,331.3 271.8,330.7 C271.3,330.0 270.9,329.1 270.6,327.9 C270.4,326.8 270.3,325.3 270.3,323.9 C270.3,322.4 270.4,320.9 270.4,319.3 C270.4,317.7 270.5,315.7 270.5,314.2 C270.5,312.7 270.5,311.1 270.6,310.1 C270.7,309.2 270.8,309.0 271.1,308.6 C271.4,308.2 272.2,308.0 272.6,307.6 C273.1,307.2 273.5,306.8 273.8,306.4 C274.1,305.9 274.3,305.4 274.5,304.9 C274.7,304.4 274.9,303.7 275.1,303.4 C275.4,303.1 275.7,303.0 276.0,303.0 Z" fill="#050505" stroke="#050505" stroke-width="2.6"/>
<path d="M290.4,303.0 C290.7,303.0 291.0,303.1 291.3,303.4 C291.5,303.7 291.7,304.4 291.9,304.9 C292.1,305.4 292.3,305.9 292.6,306.4 C292.9,306.8 293.3,307.2 293.8,307.6 C294.2,308.0 295.0,308.2 295.3,308.6 C295.6,309.0 295.7,309.2 295.8,310.1 C295.9,311.1 295.9,312.7 295.9,314.2 C295.9,315.7 296.0,317.7 296.0,319.3 C296.0,320.9 296.1,322.4 296.1,323.9 C296.1,325.3 296.0,326.8 295.8,327.9 C295.5,329.1 295.1,330.0 294.6,330.7 C294.1,331.3 293.7,331.7 292.6,331.9 C291.5,332.1 289.3,332.1 288.2,331.9 C287.1,331.7 286.7,331.3 286.2,330.7 C285.7,330.0 285.2,329.1 285.0,327.9 C284.8,326.8 284.7,325.3 284.7,323.9 C284.7,322.4 284.8,320.9 284.8,319.3 C284.8,317.7 284.9,315.7 284.9,314.2 C284.9,312.7 284.9,311.1 285.0,310.1 C285.1,309.2 285.2,309.0 285.5,308.6 C285.8,308.2 286.6,308.0 287.0,307.6 C287.4,307.2 287.9,306.8 288.2,306.4 C288.5,305.9 288.7,305.4 288.9,304.9 C289.1,304.4 289.2,303.7 289.5,303.4 C289.8,303.1 290.1,303.0 290.4,303.0 Z" fill="#050505" stroke="#050505" stroke-width="2.6"/>
</g>
<g filter="url(#bl6)">
<path d="M231.1,332.0 Q231.4,341.0 232.6,350.3" stroke="#a8a8a8" stroke-width="1.45" fill="none"/>
<path d="M227.8,331.5 L227.0,334.6 M235.0,331.5 L235.8,334.6" stroke="#7a7a7a" stroke-width="1.8" stroke-linecap="round"/>
<path d="M245.7,329.7 Q246.0,338.7 247.2,350.3" stroke="#a8a8a8" stroke-width="1.45" fill="none"/>
<path d="M242.4,329.2 L241.6,332.3 M249.6,329.2 L250.4,332.3" stroke="#7a7a7a" stroke-width="1.8" stroke-linecap="round"/>
<path d="M260.5,330.5 Q260.8,339.5 262.0,350.3" stroke="#a8a8a8" stroke-width="1.45" fill="none"/>
<path d="M257.2,330.0 L256.40000000000003,333.1 M264.40000000000003,330.0 L265.2,333.1" stroke="#7a7a7a" stroke-width="1.8" stroke-linecap="round"/>
<path d="M275.7,330.5 Q276.0,339.5 277.2,350.3" stroke="#a8a8a8" stroke-width="1.45" fill="none"/>
<path d="M272.4,330.0 L271.6,333.1 M279.6,330.0 L280.4,333.1" stroke="#7a7a7a" stroke-width="1.8" stroke-linecap="round"/>
<path d="M290.09999999999997,330.5 Q290.4,339.5 291.59999999999997,350.3" stroke="#a8a8a8" stroke-width="1.45" fill="none"/>
<path d="M286.79999999999995,330.0 L286.0,333.1 M294.0,330.0 L294.79999999999995,333.1" stroke="#7a7a7a" stroke-width="1.8" stroke-linecap="round"/>
</g>
<g filter="url(#bl6)"><g filter="url(#mtex)">
<path d="M231.4,303.0 C231.7,303.0 232.1,303.1 232.3,303.4 C232.6,303.8 232.7,304.5 232.9,305.0 C233.1,305.6 233.3,306.1 233.6,306.5 C233.9,307.0 234.4,307.4 234.8,307.8 C235.2,308.2 236.0,308.4 236.3,308.9 C236.6,309.3 236.7,309.5 236.8,310.5 C236.9,311.5 236.9,313.2 236.9,314.8 C236.9,316.4 237.0,318.4 237.0,320.1 C237.0,321.8 237.1,323.4 237.1,325.0 C237.1,326.5 237.1,328.1 236.8,329.2 C236.6,330.4 236.1,331.4 235.6,332.1 C235.1,332.8 234.7,333.2 233.6,333.4 C232.5,333.6 230.3,333.6 229.2,333.4 C228.1,333.2 227.7,332.8 227.2,332.1 C226.7,331.4 226.2,330.4 226.0,329.2 C225.8,328.1 225.7,326.5 225.7,325.0 C225.7,323.4 225.8,321.8 225.8,320.1 C225.8,318.4 225.9,316.4 225.9,314.8 C225.9,313.2 225.9,311.5 226.0,310.5 C226.1,309.5 226.2,309.3 226.5,308.9 C226.8,308.4 227.6,308.2 228.0,307.8 C228.4,307.4 228.9,307.0 229.2,306.5 C229.5,306.1 229.7,305.6 229.9,305.0 C230.1,304.5 230.2,303.8 230.5,303.4 C230.8,303.1 231.1,303.0 231.4,303.0 Z" fill="url(#mg)"/>
<path d="M246.0,302.2 C246.3,302.2 246.7,302.3 246.9,302.6 C247.2,302.9 247.3,303.6 247.5,304.1 C247.7,304.6 247.9,305.1 248.2,305.6 C248.5,306.0 248.9,306.4 249.4,306.8 C249.9,307.2 250.6,307.4 250.9,307.8 C251.2,308.2 251.3,308.4 251.4,309.3 C251.5,310.3 251.5,311.9 251.5,313.4 C251.5,314.9 251.6,316.9 251.6,318.5 C251.6,320.1 251.7,321.6 251.7,323.1 C251.7,324.5 251.7,326.0 251.4,327.1 C251.2,328.3 250.7,329.2 250.2,329.9 C249.7,330.5 249.3,330.9 248.2,331.1 C247.1,331.3 244.9,331.3 243.8,331.1 C242.7,330.9 242.3,330.5 241.8,329.9 C241.3,329.2 240.8,328.3 240.6,327.1 C240.3,326.0 240.3,324.5 240.3,323.1 C240.3,321.6 240.4,320.1 240.4,318.5 C240.4,316.9 240.5,314.9 240.5,313.4 C240.5,311.9 240.5,310.3 240.6,309.3 C240.7,308.4 240.8,308.2 241.1,307.8 C241.4,307.4 242.1,307.2 242.6,306.8 C243.1,306.4 243.5,306.0 243.8,305.6 C244.1,305.1 244.3,304.6 244.5,304.1 C244.7,303.6 244.8,302.9 245.1,302.6 C245.3,302.3 245.7,302.2 246.0,302.2 Z" fill="url(#mg)"/>
<path d="M260.8,303.0 C261.1,303.0 261.4,303.1 261.7,303.4 C261.9,303.7 262.1,304.4 262.3,304.9 C262.5,305.4 262.7,305.9 263.0,306.4 C263.3,306.8 263.8,307.2 264.2,307.6 C264.6,308.0 265.4,308.2 265.7,308.6 C266.0,309.0 266.1,309.2 266.2,310.1 C266.3,311.1 266.3,312.7 266.3,314.2 C266.3,315.7 266.4,317.7 266.4,319.3 C266.4,320.9 266.5,322.4 266.5,323.9 C266.5,325.3 266.4,326.8 266.2,327.9 C265.9,329.1 265.5,330.0 265.0,330.7 C264.5,331.3 264.1,331.7 263.0,331.9 C261.9,332.1 259.7,332.1 258.6,331.9 C257.5,331.7 257.1,331.3 256.6,330.7 C256.1,330.0 255.7,329.1 255.4,327.9 C255.2,326.8 255.1,325.3 255.1,323.9 C255.1,322.4 255.2,320.9 255.2,319.3 C255.2,317.7 255.3,315.7 255.3,314.2 C255.3,312.7 255.3,311.1 255.4,310.1 C255.5,309.2 255.6,309.0 255.9,308.6 C256.2,308.2 257.0,308.0 257.4,307.6 C257.9,307.2 258.3,306.8 258.6,306.4 C258.9,305.9 259.1,305.4 259.3,304.9 C259.5,304.4 259.7,303.7 259.9,303.4 C260.2,303.1 260.5,303.0 260.8,303.0 Z" fill="url(#mg)"/>
<path d="M276.0,303.0 C276.3,303.0 276.6,303.1 276.9,303.4 C277.1,303.7 277.3,304.4 277.5,304.9 C277.7,305.4 277.9,305.9 278.2,306.4 C278.5,306.8 278.9,307.2 279.4,307.6 C279.8,308.0 280.6,308.2 280.9,308.6 C281.2,309.0 281.3,309.2 281.4,310.1 C281.5,311.1 281.5,312.7 281.5,314.2 C281.5,315.7 281.6,317.7 281.6,319.3 C281.6,320.9 281.7,322.4 281.7,323.9 C281.7,325.3 281.6,326.8 281.4,327.9 C281.1,329.1 280.7,330.0 280.2,330.7 C279.7,331.3 279.3,331.7 278.2,331.9 C277.1,332.1 274.9,332.1 273.8,331.9 C272.7,331.7 272.3,331.3 271.8,330.7 C271.3,330.0 270.9,329.1 270.6,327.9 C270.4,326.8 270.3,325.3 270.3,323.9 C270.3,322.4 270.4,320.9 270.4,319.3 C270.4,317.7 270.5,315.7 270.5,314.2 C270.5,312.7 270.5,311.1 270.6,310.1 C270.7,309.2 270.8,309.0 271.1,308.6 C271.4,308.2 272.2,308.0 272.6,307.6 C273.1,307.2 273.5,306.8 273.8,306.4 C274.1,305.9 274.3,305.4 274.5,304.9 C274.7,304.4 274.9,303.7 275.1,303.4 C275.4,303.1 275.7,303.0 276.0,303.0 Z" fill="url(#mg)"/>
<path d="M290.4,303.0 C290.7,303.0 291.0,303.1 291.3,303.4 C291.5,303.7 291.7,304.4 291.9,304.9 C292.1,305.4 292.3,305.9 292.6,306.4 C292.9,306.8 293.3,307.2 293.8,307.6 C294.2,308.0 295.0,308.2 295.3,308.6 C295.6,309.0 295.7,309.2 295.8,310.1 C295.9,311.1 295.9,312.7 295.9,314.2 C295.9,315.7 296.0,317.7 296.0,319.3 C296.0,320.9 296.1,322.4 296.1,323.9 C296.1,325.3 296.0,326.8 295.8,327.9 C295.5,329.1 295.1,330.0 294.6,330.7 C294.1,331.3 293.7,331.7 292.6,331.9 C291.5,332.1 289.3,332.1 288.2,331.9 C287.1,331.7 286.7,331.3 286.2,330.7 C285.7,330.0 285.2,329.1 285.0,327.9 C284.8,326.8 284.7,325.3 284.7,323.9 C284.7,322.4 284.8,320.9 284.8,319.3 C284.8,317.7 284.9,315.7 284.9,314.2 C284.9,312.7 284.9,311.1 285.0,310.1 C285.1,309.2 285.2,309.0 285.5,308.6 C285.8,308.2 286.6,308.0 287.0,307.6 C287.4,307.2 287.9,306.8 288.2,306.4 C288.5,305.9 288.7,305.4 288.9,304.9 C289.1,304.4 289.2,303.7 289.5,303.4 C289.8,303.1 290.1,303.0 290.4,303.0 Z" fill="url(#mg)"/>
</g></g>
<g filter="url(#bl8)"><path d="M136.70,198.23 C136.70,205.15 131.90,207.45 131.90,211.76 C133.88,214.21 143.12,214.21 145.10,211.76 C145.10,207.45 140.30,205.15 140.30,198.23 C140.30,197.23 136.70,197.23 136.70,198.23 Z" fill="#9080f0"/><path d="M136.90,198.72 C136.90,204.89 133.10,206.94 133.10,210.78 C134.72,213.02 142.28,213.02 143.90,210.78 C143.90,206.94 140.10,204.89 140.10,198.72 C140.10,197.72 136.90,197.72 136.90,198.72 Z" fill="#1a14d8"/><ellipse cx="138.5" cy="206.60714285714286" rx="2.0" ry="3.8" fill="#2a86ff"/></g>
<g filter="url(#bl8)"><path d="M151.50,198.43 C151.50,205.35 146.70,207.65 146.70,211.96 C148.68,214.41 157.92,214.41 159.90,211.96 C159.90,207.65 155.10,205.35 155.10,198.43 C155.10,197.43 151.50,197.43 151.50,198.43 Z" fill="#9080f0"/><path d="M151.70,198.92 C151.70,205.09 147.90,207.14 147.90,210.98 C149.52,213.22 157.08,213.22 158.70,210.98 C158.70,207.14 154.90,205.09 154.90,198.92 C154.90,197.92 151.70,197.92 151.70,198.92 Z" fill="#1a14d8"/><ellipse cx="153.3" cy="206.80714285714285" rx="2.0" ry="3.8" fill="#2a86ff"/></g>
<g filter="url(#bl8)"><ellipse cx="167.9" cy="207.27142857142857" rx="2.2" ry="6" fill="#6a3ae8"/><ellipse cx="167.9" cy="208.28571428571428" rx="1.2" ry="4" fill="#3018d0"/></g>
<g filter="url(#bl8)"><path d="M181.60,198.63 C181.60,205.55 176.80,207.85 176.80,212.16 C178.78,214.61 188.02,214.61 190.00,212.16 C190.00,207.85 185.20,205.55 185.20,198.63 C185.20,197.63 181.60,197.63 181.60,198.63 Z" fill="#9080f0"/><path d="M181.80,199.12 C181.80,205.29 178.00,207.34 178.00,211.18 C179.62,213.42 187.18,213.42 188.80,211.18 C188.80,207.34 185.00,205.29 185.00,199.12 C185.00,198.12 181.80,198.12 181.80,199.12 Z" fill="#1a14d8"/><ellipse cx="183.4" cy="207.00714285714287" rx="2.0" ry="3.8" fill="#2a86ff"/></g>
<g filter="url(#bl8)"><ellipse cx="197.8" cy="207.27142857142857" rx="2.2" ry="6" fill="#6a3ae8"/><ellipse cx="197.8" cy="208.28571428571428" rx="1.2" ry="4" fill="#3018d0"/></g>
<g filter="url(#bl8)"><ellipse cx="183.4" cy="192.8" rx="2.2" ry="2.0" fill="#4020d8"/></g>
<g filter="url(#bl8)"><path d="M228.3,190.5 C228.6,190.5 229.0,190.6 229.2,190.9 C229.5,191.2 229.6,191.8 229.8,192.3 C230.0,192.8 230.2,193.2 230.5,193.6 C230.8,194.0 231.2,194.4 231.7,194.8 C232.2,195.1 232.9,195.3 233.2,195.7 C233.5,196.1 233.6,196.3 233.7,197.1 C233.8,198.0 233.6,199.5 233.8,200.9 C234.0,202.3 234.7,204.1 234.9,205.6 C235.1,207.1 235.0,208.6 235.0,209.9 C235.0,211.2 235.0,212.6 234.7,213.7 C234.5,214.7 234.2,215.6 233.5,216.2 C232.8,216.9 231.7,217.2 230.5,217.4 C229.3,217.6 227.3,217.6 226.1,217.4 C224.9,217.2 223.8,216.9 223.1,216.2 C222.4,215.6 222.2,214.7 221.9,213.7 C221.7,212.6 221.6,211.2 221.6,209.9 C221.6,208.6 221.5,207.1 221.7,205.6 C221.9,204.1 222.6,202.3 222.8,200.9 C223.0,199.5 222.8,198.0 222.9,197.1 C223.0,196.3 223.1,196.1 223.4,195.7 C223.7,195.3 224.4,195.1 224.9,194.8 C225.4,194.4 225.8,194.0 226.1,193.6 C226.4,193.2 226.6,192.8 226.8,192.3 C227.0,191.8 227.2,191.2 227.4,190.9 C227.7,190.6 228.0,190.5 228.3,190.5 Z" fill="#1c30e4"/><ellipse cx="228.3" cy="199.96428571428572" rx="4.2" ry="4.4" fill="#18c4ec"/><ellipse cx="226.10000000000002" cy="198.07142857142858" rx="1.3" ry="1.6" fill="#2040e8"/><ellipse cx="230.3" cy="200.91071428571428" rx="1.6" ry="2.0" fill="#60e060"/><ellipse cx="225.10000000000002" cy="202.80357142857142" rx="1.0" ry="1.6" fill="#e8f0ff"/><path d="M225.50,201.86 C225.50,209.01 220.90,211.40 220.90,215.85 C223.12,218.36 233.48,218.36 235.70,215.85 C235.70,211.40 231.10,209.01 231.10,201.86 C231.10,200.86 225.50,200.86 225.50,201.86 Z" fill="#10d0e8"/><path d="M226.00,202.33 C226.00,209.02 221.50,211.25 221.50,215.41 C223.54,217.79 233.06,217.79 235.10,215.41 C235.10,211.25 230.60,209.02 230.60,202.33 C230.60,201.33 226.00,201.33 226.00,202.33 Z" fill="#a8e800"/><path d="M226.50,202.80 C226.50,209.02 222.10,211.09 222.10,214.96 C223.96,217.22 232.64,217.22 234.50,214.96 C234.50,211.09 230.10,209.02 230.10,202.80 C230.10,201.80 226.50,201.80 226.50,202.80 Z" fill="#f8d000"/><path d="M227.20,203.56 C227.20,209.14 222.80,211.00 222.80,214.47 C224.45,216.56 232.15,216.56 233.80,214.47 C233.80,211.00 229.40,209.14 229.40,203.56 C229.40,202.56 227.20,202.56 227.20,203.56 Z" fill="#f01400"/></g>
<g filter="url(#bl8)"><path d="M242.6,189.5 C242.9,189.5 243.2,189.6 243.5,189.9 C243.8,190.2 243.9,190.8 244.1,191.3 C244.3,191.8 244.5,192.2 244.8,192.6 C245.1,193.0 245.6,193.4 246.0,193.8 C246.4,194.1 247.2,194.3 247.5,194.7 C247.8,195.1 247.9,195.3 248.0,196.1 C248.1,197.0 247.9,198.5 248.1,199.9 C248.3,201.3 249.0,203.1 249.2,204.6 C249.4,206.1 249.3,207.6 249.3,208.9 C249.3,210.2 249.2,211.6 249.0,212.7 C248.8,213.7 248.5,214.6 247.8,215.2 C247.1,215.9 246.0,216.2 244.8,216.4 C243.6,216.6 241.6,216.6 240.4,216.4 C239.2,216.2 238.1,215.9 237.4,215.2 C236.7,214.6 236.4,213.7 236.2,212.7 C235.9,211.6 235.9,210.2 235.9,208.9 C235.9,207.6 235.8,206.1 236.0,204.6 C236.2,203.1 236.9,201.3 237.1,199.9 C237.3,198.5 237.1,197.0 237.2,196.1 C237.3,195.3 237.4,195.1 237.7,194.7 C238.0,194.3 238.8,194.1 239.2,193.8 C239.6,193.4 240.1,193.0 240.4,192.6 C240.7,192.2 240.9,191.8 241.1,191.3 C241.3,190.8 241.4,190.2 241.7,189.9 C241.9,189.6 242.3,189.5 242.6,189.5 Z" fill="#1c30e4"/><ellipse cx="242.6" cy="198.96428571428572" rx="4.2" ry="4.4" fill="#18c4ec"/><ellipse cx="240.4" cy="197.07142857142858" rx="1.3" ry="1.6" fill="#2040e8"/><ellipse cx="244.6" cy="199.91071428571428" rx="1.6" ry="2.0" fill="#60e060"/><ellipse cx="239.4" cy="201.80357142857142" rx="1.0" ry="1.6" fill="#e8f0ff"/><path d="M239.80,200.86 C239.80,208.01 235.20,210.40 235.20,214.85 C237.42,217.36 247.78,217.36 250.00,214.85 C250.00,210.40 245.40,208.01 245.40,200.86 C245.40,199.86 239.80,199.86 239.80,200.86 Z" fill="#10d0e8"/><path d="M240.30,201.33 C240.30,208.02 235.80,210.25 235.80,214.41 C237.84,216.79 247.36,216.79 249.40,214.41 C249.40,210.25 244.90,208.02 244.90,201.33 C244.90,200.33 240.30,200.33 240.30,201.33 Z" fill="#a8e800"/><path d="M240.80,201.80 C240.80,208.02 236.40,210.09 236.40,213.96 C238.26,216.22 246.94,216.22 248.80,213.96 C248.80,210.09 244.40,208.02 244.40,201.80 C244.40,200.80 240.80,200.80 240.80,201.80 Z" fill="#f8d000"/><path d="M241.50,202.56 C241.50,208.14 237.10,210.00 237.10,213.47 C238.75,215.56 246.45,215.56 248.10,213.47 C248.10,210.00 243.70,208.14 243.70,202.56 C243.70,201.56 241.50,201.56 241.50,202.56 Z" fill="#f01400"/></g>
<g filter="url(#bl8)"><path d="M257.4,190.0 C257.7,190.0 258.0,190.1 258.3,190.4 C258.5,190.7 258.7,191.3 258.9,191.8 C259.1,192.3 259.3,192.7 259.6,193.1 C259.9,193.5 260.3,193.9 260.8,194.3 C261.2,194.6 262.0,194.8 262.3,195.2 C262.6,195.6 262.7,195.8 262.8,196.6 C262.9,197.5 262.7,199.0 262.9,200.4 C263.1,201.8 263.8,203.6 264.0,205.1 C264.2,206.6 264.1,208.1 264.1,209.4 C264.1,210.7 264.0,212.1 263.8,213.2 C263.5,214.2 263.3,215.1 262.6,215.7 C261.9,216.4 260.8,216.7 259.6,216.9 C258.4,217.1 256.4,217.1 255.2,216.9 C254.0,216.7 252.9,216.4 252.2,215.7 C251.5,215.1 251.2,214.2 251.0,213.2 C250.7,212.1 250.7,210.7 250.7,209.4 C250.7,208.1 250.6,206.6 250.8,205.1 C251.0,203.6 251.7,201.8 251.9,200.4 C252.1,199.0 251.9,197.5 252.0,196.6 C252.1,195.8 252.2,195.6 252.5,195.2 C252.8,194.8 253.5,194.6 254.0,194.3 C254.4,193.9 254.9,193.5 255.2,193.1 C255.5,192.7 255.7,192.3 255.9,191.8 C256.1,191.3 256.2,190.7 256.5,190.4 C256.8,190.1 257.1,190.0 257.4,190.0 Z" fill="#1c28e0"/><ellipse cx="257.4" cy="198.51785714285714" rx="3.4" ry="3" fill="#18b0f0"/><path d="M254.00,200.41 C254.00,207.65 251.00,210.06 251.00,214.57 C252.92,217.10 261.88,217.10 263.80,214.57 C263.80,210.06 260.80,207.65 260.80,200.41 C260.80,199.41 254.00,199.41 254.00,200.41 Z" fill="#10d8b0"/><path d="M255.20,202.30 C255.20,208.05 253.20,209.97 253.20,213.55 C254.46,215.68 260.34,215.68 261.60,213.55 C261.60,209.97 259.60,208.05 259.60,202.30 C259.60,201.30 255.20,201.30 255.20,202.30 Z" fill="#a0e800"/><path d="M256.00,203.25 C256.00,208.19 254.60,209.84 254.60,212.91 C255.44,214.83 259.36,214.83 260.20,212.91 C260.20,209.84 258.80,208.19 258.80,203.25 C258.80,202.25 256.00,202.25 256.00,203.25 Z" fill="#f01400"/></g>
<g filter="url(#bl8)"><path d="M273.0,191.0 C273.3,191.0 273.6,191.1 273.9,191.4 C274.1,191.7 274.3,192.3 274.5,192.8 C274.7,193.2 274.9,193.7 275.2,194.1 C275.5,194.5 275.9,194.8 276.4,195.2 C276.8,195.5 277.6,195.7 277.9,196.1 C278.2,196.5 278.3,196.6 278.4,197.5 C278.5,198.4 278.3,199.8 278.5,201.2 C278.7,202.6 279.4,204.4 279.6,205.9 C279.8,207.3 279.7,208.7 279.7,210.0 C279.7,211.4 279.6,212.7 279.4,213.8 C279.1,214.8 278.9,215.7 278.2,216.3 C277.5,216.9 276.4,217.2 275.2,217.4 C274.0,217.6 272.0,217.6 270.8,217.4 C269.6,217.2 268.5,216.9 267.8,216.3 C267.1,215.7 266.9,214.8 266.6,213.8 C266.4,212.7 266.3,211.4 266.3,210.0 C266.3,208.7 266.2,207.3 266.4,205.9 C266.6,204.4 267.3,202.6 267.5,201.2 C267.7,199.8 267.5,198.4 267.6,197.5 C267.7,196.6 267.8,196.5 268.1,196.1 C268.4,195.7 269.2,195.5 269.6,195.2 C270.1,194.8 270.5,194.5 270.8,194.1 C271.1,193.7 271.3,193.2 271.5,192.8 C271.7,192.3 271.9,191.7 272.1,191.4 C272.4,191.1 272.7,191.0 273.0,191.0 Z" fill="#1c30e4"/><ellipse cx="273.0" cy="200.28571428571428" rx="4.2" ry="4.4" fill="#18c4ec"/><ellipse cx="270.8" cy="198.42857142857142" rx="1.3" ry="1.6" fill="#2040e8"/><ellipse cx="275.0" cy="201.21428571428572" rx="1.6" ry="2.0" fill="#60e060"/><ellipse cx="269.8" cy="203.07142857142858" rx="1.0" ry="1.6" fill="#e8f0ff"/><path d="M270.20,202.14 C270.20,209.16 265.60,211.50 265.60,215.87 C267.82,218.34 278.18,218.34 280.40,215.87 C280.40,211.50 275.80,209.16 275.80,202.14 C275.80,201.14 270.20,201.14 270.20,202.14 Z" fill="#10d0e8"/><path d="M270.70,202.61 C270.70,209.17 266.20,211.35 266.20,215.44 C268.24,217.79 277.76,217.79 279.80,215.44 C279.80,211.35 275.30,209.17 275.30,202.61 C275.30,201.61 270.70,201.61 270.70,202.61 Z" fill="#a8e800"/><path d="M271.20,203.07 C271.20,209.17 266.80,211.21 266.80,215.00 C268.66,217.23 277.34,217.23 279.20,215.00 C279.20,211.21 274.80,209.17 274.80,203.07 C274.80,202.07 271.20,202.07 271.20,203.07 Z" fill="#f8d000"/><path d="M271.90,203.81 C271.90,209.29 267.50,211.11 267.50,214.52 C269.15,216.58 276.85,216.58 278.50,214.52 C278.50,211.11 274.10,209.29 274.10,203.81 C274.10,202.81 271.90,202.81 271.90,203.81 Z" fill="#f01400"/></g>
<g filter="url(#bl8)"><path d="M287.3,190.0 C287.6,190.0 287.9,190.1 288.2,190.4 C288.4,190.7 288.6,191.3 288.8,191.8 C289.0,192.3 289.2,192.7 289.5,193.1 C289.8,193.5 290.2,193.9 290.7,194.3 C291.1,194.6 291.9,194.8 292.2,195.2 C292.5,195.6 292.6,195.8 292.7,196.6 C292.8,197.5 292.6,199.0 292.8,200.4 C293.0,201.8 293.7,203.6 293.9,205.1 C294.1,206.6 294.0,208.1 294.0,209.4 C294.0,210.7 293.9,212.1 293.7,213.2 C293.4,214.2 293.2,215.1 292.5,215.7 C291.8,216.4 290.7,216.7 289.5,216.9 C288.3,217.1 286.3,217.1 285.1,216.9 C283.9,216.7 282.8,216.4 282.1,215.7 C281.4,215.1 281.2,214.2 280.9,213.2 C280.7,212.1 280.6,210.7 280.6,209.4 C280.6,208.1 280.5,206.6 280.7,205.1 C280.9,203.6 281.6,201.8 281.8,200.4 C282.0,199.0 281.8,197.5 281.9,196.6 C282.0,195.8 282.1,195.6 282.4,195.2 C282.7,194.8 283.5,194.6 283.9,194.3 C284.4,193.9 284.8,193.5 285.1,193.1 C285.4,192.7 285.6,192.3 285.8,191.8 C286.0,191.3 286.2,190.7 286.4,190.4 C286.7,190.1 287.0,190.0 287.3,190.0 Z" fill="none" stroke="#3038e0" stroke-width="1.8"/><ellipse cx="287.3" cy="198.51785714285714" rx="3" ry="2.2" fill="#6060e8"/><path d="M284.30,202.30 C284.30,208.48 281.30,210.54 281.30,214.38 C283.10,216.63 291.50,216.63 293.30,214.38 C293.30,210.54 290.30,208.48 290.30,202.30 C290.30,201.30 284.30,201.30 284.30,202.30 Z" fill="#2038f0"/><ellipse cx="287.3" cy="209.875" rx="2.6" ry="4.2" fill="#10d0d0"/><ellipse cx="287.3" cy="206.5625" rx="1.0" ry="1.1" fill="#f03000"/><ellipse cx="287.3" cy="211.76785714285714" rx="1.1" ry="1.3" fill="#f0c000"/></g>
<g filter="url(#bl8)"><path d="M136.10,255.62 C136.10,263.76 132.10,266.47 132.10,271.53 C134.14,274.30 143.66,274.30 145.70,271.53 C145.70,266.47 141.70,263.76 141.70,255.62 C141.70,254.62 136.10,254.62 136.10,255.62 Z" fill="#a898f0"/><path d="M136.70,256.65 C136.70,263.77 133.30,266.15 133.30,270.58 C134.98,273.08 142.82,273.08 144.50,270.58 C144.50,266.15 141.10,263.77 141.10,256.65 C141.10,255.65 136.70,255.65 136.70,256.65 Z" fill="#1c18dc"/><ellipse cx="138.9" cy="264.8178571428572" rx="2.4" ry="5.0" fill="#20c0f0"/></g>
<g filter="url(#bl8)"><path d="M150.20,257.10 C150.20,264.71 146.20,267.24 146.20,271.97 C148.18,274.60 157.42,274.60 159.40,271.97 C159.40,267.24 155.40,264.71 155.40,257.10 C155.40,256.10 150.20,256.10 150.20,257.10 Z" fill="#a898f0"/><path d="M150.90,258.09 C150.90,264.72 147.40,266.93 147.40,271.05 C149.02,273.42 156.58,273.42 158.20,271.05 C158.20,266.93 154.70,264.72 154.70,258.09 C154.70,257.09 150.90,257.09 150.90,258.09 Z" fill="#1c18dc"/><ellipse cx="152.8" cy="265.9428571428572" rx="1.8" ry="4.2" fill="#2a90ff"/></g>
<g filter="url(#bl8)"><path d="M165.50,256.61 C165.50,264.44 161.50,267.04 161.50,271.91 C163.54,274.60 173.06,274.60 175.10,271.91 C175.10,267.04 171.10,264.44 171.10,256.61 C171.10,255.61 165.50,255.61 165.50,256.61 Z" fill="#a898f0"/><path d="M166.10,257.59 C166.10,264.45 162.70,266.73 162.70,270.99 C164.38,273.42 172.22,273.42 173.90,270.99 C173.90,266.73 170.50,264.45 170.50,257.59 C170.50,256.59 166.10,256.59 166.10,257.59 Z" fill="#1c18dc"/><ellipse cx="168.3" cy="265.45178571428573" rx="2.4" ry="5.0" fill="#20c0f0"/></g>
<g filter="url(#bl8)"><path d="M179.80,256.70 C179.80,264.44 175.80,267.02 175.80,271.84 C177.78,274.50 187.02,274.50 189.00,271.84 C189.00,267.02 185.00,264.44 185.00,256.70 C185.00,255.70 179.80,255.70 179.80,256.70 Z" fill="#a898f0"/><path d="M180.50,257.70 C180.50,264.45 177.00,266.70 177.00,270.90 C178.62,273.30 186.18,273.30 187.80,270.90 C187.80,266.70 184.30,264.45 184.30,257.70 C184.30,256.70 180.50,256.70 180.50,257.70 Z" fill="#1c18dc"/><ellipse cx="182.4" cy="265.7" rx="1.8" ry="4.2" fill="#2a90ff"/></g>
<g filter="url(#bl8)"><path d="M194.40,256.70 C194.40,264.44 190.40,267.02 190.40,271.84 C192.38,274.50 201.62,274.50 203.60,271.84 C203.60,267.02 199.60,264.44 199.60,256.70 C199.60,255.70 194.40,255.70 194.40,256.70 Z" fill="#a898f0"/><path d="M195.10,257.70 C195.10,264.45 191.60,266.70 191.60,270.90 C193.22,273.30 200.78,273.30 202.40,270.90 C202.40,266.70 198.90,264.45 198.90,257.70 C198.90,256.70 195.10,256.70 195.10,257.70 Z" fill="#1c18dc"/><ellipse cx="197.0" cy="265.7" rx="1.8" ry="4.2" fill="#2a90ff"/></g>
<g filter="url(#bl8)"><path d="M227.8,247.0 C228.1,247.0 228.5,247.1 228.7,247.4 C229.0,247.7 229.1,248.4 229.3,248.9 C229.5,249.4 229.7,249.9 230.0,250.4 C230.3,250.8 230.8,251.2 231.2,251.6 C231.7,252.0 232.4,252.2 232.7,252.6 C233.0,253.0 233.1,253.2 233.2,254.2 C233.3,255.1 233.1,256.7 233.3,258.2 C233.5,259.8 234.2,261.7 234.4,263.3 C234.6,265.0 234.5,266.5 234.5,267.9 C234.5,269.4 234.5,270.9 234.2,272.0 C234.0,273.2 233.7,274.1 233.0,274.8 C232.3,275.4 231.2,275.8 230.0,276.0 C228.8,276.2 226.8,276.2 225.6,276.0 C224.4,275.8 223.3,275.4 222.6,274.8 C221.9,274.1 221.7,273.2 221.4,272.0 C221.2,270.9 221.1,269.4 221.1,267.9 C221.1,266.5 221.0,265.0 221.2,263.3 C221.4,261.7 222.1,259.8 222.3,258.2 C222.5,256.7 222.3,255.1 222.4,254.2 C222.5,253.2 222.6,253.0 222.9,252.6 C223.2,252.2 223.9,252.0 224.4,251.6 C224.9,251.2 225.3,250.8 225.6,250.4 C225.9,249.9 226.1,249.4 226.3,248.9 C226.5,248.4 226.7,247.7 226.9,247.4 C227.2,247.1 227.5,247.0 227.8,247.0 Z" fill="#1c30e4"/><ellipse cx="227.8" cy="257.2142857142857" rx="4.2" ry="4.4" fill="#18c4ec"/><ellipse cx="225.60000000000002" cy="255.17142857142858" rx="1.3" ry="1.6" fill="#2040e8"/><ellipse cx="229.8" cy="258.23571428571427" rx="1.6" ry="2.0" fill="#60e060"/><ellipse cx="224.60000000000002" cy="260.2785714285714" rx="1.0" ry="1.6" fill="#e8f0ff"/><path d="M225.00,259.26 C225.00,266.98 220.40,269.55 220.40,274.36 C222.62,277.02 232.98,277.02 235.20,274.36 C235.20,269.55 230.60,266.98 230.60,259.26 C230.60,258.26 225.00,258.26 225.00,259.26 Z" fill="#10d0e8"/><path d="M225.50,259.77 C225.50,266.98 221.00,269.39 221.00,273.88 C223.04,276.40 232.56,276.40 234.60,273.88 C234.60,269.39 230.10,266.98 230.10,259.77 C230.10,258.77 225.50,258.77 225.50,259.77 Z" fill="#a8e800"/><path d="M226.00,260.28 C226.00,266.99 221.60,269.23 221.60,273.40 C223.46,275.79 232.14,275.79 234.00,273.40 C234.00,269.23 229.60,266.99 229.60,260.28 C229.60,259.28 226.00,259.28 226.00,260.28 Z" fill="#f8d000"/><path d="M226.70,261.10 C226.70,267.12 222.30,269.12 222.30,272.87 C223.95,275.08 231.65,275.08 233.30,272.87 C233.30,269.12 228.90,267.12 228.90,261.10 C228.90,260.10 226.70,260.10 226.70,261.10 Z" fill="#f01400"/></g>
<g filter="url(#bl8)"><path d="M241.4,247.0 C241.7,247.0 242.1,247.1 242.3,247.4 C242.6,247.7 242.7,248.4 242.9,248.9 C243.1,249.4 243.3,249.9 243.6,250.4 C243.9,250.8 244.4,251.2 244.8,251.6 C245.2,252.0 246.0,252.2 246.3,252.6 C246.6,253.0 246.7,253.2 246.8,254.2 C246.9,255.1 246.7,256.7 246.9,258.2 C247.1,259.8 247.8,261.7 248.0,263.3 C248.2,265.0 248.1,266.5 248.1,267.9 C248.1,269.4 248.1,270.9 247.8,272.0 C247.6,273.2 247.3,274.1 246.6,274.8 C245.9,275.4 244.8,275.8 243.6,276.0 C242.4,276.2 240.4,276.2 239.2,276.0 C238.0,275.8 236.9,275.4 236.2,274.8 C235.5,274.1 235.2,273.2 235.0,272.0 C234.8,270.9 234.7,269.4 234.7,267.9 C234.7,266.5 234.6,265.0 234.8,263.3 C235.0,261.7 235.7,259.8 235.9,258.2 C236.1,256.7 235.9,255.1 236.0,254.2 C236.1,253.2 236.2,253.0 236.5,252.6 C236.8,252.2 237.6,252.0 238.0,251.6 C238.4,251.2 238.9,250.8 239.2,250.4 C239.5,249.9 239.7,249.4 239.9,248.9 C240.1,248.4 240.2,247.7 240.5,247.4 C240.8,247.1 241.1,247.0 241.4,247.0 Z" fill="#1c30e4"/><ellipse cx="241.4" cy="257.2142857142857" rx="4.2" ry="4.4" fill="#18c4ec"/><ellipse cx="239.20000000000002" cy="255.17142857142858" rx="1.3" ry="1.6" fill="#2040e8"/><ellipse cx="243.4" cy="258.23571428571427" rx="1.6" ry="2.0" fill="#60e060"/><ellipse cx="238.20000000000002" cy="260.2785714285714" rx="1.0" ry="1.6" fill="#e8f0ff"/><path d="M238.60,259.26 C238.60,266.98 234.00,269.55 234.00,274.36 C236.22,277.02 246.58,277.02 248.80,274.36 C248.80,269.55 244.20,266.98 244.20,259.26 C244.20,258.26 238.60,258.26 238.60,259.26 Z" fill="#10d0e8"/><path d="M239.10,259.77 C239.10,266.98 234.60,269.39 234.60,273.88 C236.64,276.40 246.16,276.40 248.20,273.88 C248.20,269.39 243.70,266.98 243.70,259.77 C243.70,258.77 239.10,258.77 239.10,259.77 Z" fill="#a8e800"/><path d="M239.60,260.28 C239.60,266.99 235.20,269.23 235.20,273.40 C237.06,275.79 245.74,275.79 247.60,273.40 C247.60,269.23 243.20,266.99 243.20,260.28 C243.20,259.28 239.60,259.28 239.60,260.28 Z" fill="#f8d000"/><path d="M240.30,261.10 C240.30,267.12 235.90,269.12 235.90,272.87 C237.55,275.08 245.25,275.08 246.90,272.87 C246.90,269.12 242.50,267.12 242.50,261.10 C242.50,260.10 240.30,260.10 240.30,261.10 Z" fill="#f01400"/></g>
<g filter="url(#bl8)"><path d="M256.6,247.0 C256.9,247.0 257.2,247.1 257.5,247.4 C257.8,247.7 257.9,248.4 258.1,248.9 C258.3,249.4 258.5,249.9 258.8,250.4 C259.1,250.8 259.6,251.2 260.0,251.6 C260.4,252.0 261.2,252.2 261.5,252.6 C261.8,253.0 261.9,253.2 262.0,254.2 C262.1,255.1 261.9,256.7 262.1,258.2 C262.3,259.8 263.0,261.7 263.2,263.3 C263.4,265.0 263.3,266.5 263.3,267.9 C263.3,269.4 263.2,270.9 263.0,272.0 C262.8,273.2 262.5,274.1 261.8,274.8 C261.1,275.4 260.0,275.8 258.8,276.0 C257.6,276.2 255.6,276.2 254.4,276.0 C253.2,275.8 252.1,275.4 251.4,274.8 C250.7,274.1 250.5,273.2 250.2,272.0 C250.0,270.9 249.9,269.4 249.9,267.9 C249.9,266.5 249.8,265.0 250.0,263.3 C250.2,261.7 250.9,259.8 251.1,258.2 C251.3,256.7 251.1,255.1 251.2,254.2 C251.3,253.2 251.4,253.0 251.7,252.6 C252.0,252.2 252.8,252.0 253.2,251.6 C253.7,251.2 254.1,250.8 254.4,250.4 C254.7,249.9 254.9,249.4 255.1,248.9 C255.3,248.4 255.5,247.7 255.7,247.4 C256.0,247.1 256.3,247.0 256.6,247.0 Z" fill="#1c30e4"/><ellipse cx="256.6" cy="255.68214285714285" rx="4.4" ry="4.2" fill="#30d8c0"/><ellipse cx="256.6" cy="254.15" rx="2.6" ry="1.8" fill="#e8e040"/><path d="M253.80,258.75 C253.80,266.61 249.20,269.23 249.20,274.12 C251.42,276.81 261.78,276.81 264.00,274.12 C264.00,269.23 259.40,266.61 259.40,258.75 C259.40,257.75 253.80,257.75 253.80,258.75 Z" fill="#10d0e8"/><path d="M254.20,259.26 C254.20,266.52 249.80,268.94 249.80,273.46 C251.84,276.00 261.36,276.00 263.40,273.46 C263.40,268.94 259.00,266.52 259.00,259.26 C259.00,258.26 254.20,258.26 254.20,259.26 Z" fill="#d8e400"/><path d="M254.60,259.87 C254.60,266.40 250.40,268.57 250.40,272.63 C252.26,274.97 260.94,274.97 262.80,272.63 C262.80,268.57 258.60,266.40 258.60,259.87 C258.60,258.87 254.60,258.87 254.60,259.87 Z" fill="#f01400"/></g>
<g filter="url(#bl8)"><path d="M271.8,247.0 C272.1,247.0 272.4,247.1 272.7,247.4 C272.9,247.7 273.1,248.4 273.3,248.9 C273.5,249.4 273.7,249.9 274.0,250.4 C274.3,250.8 274.8,251.2 275.2,251.6 C275.6,252.0 276.4,252.2 276.7,252.6 C277.0,253.0 277.1,253.2 277.2,254.2 C277.3,255.1 277.1,256.7 277.3,258.2 C277.5,259.8 278.2,261.7 278.4,263.3 C278.6,265.0 278.5,266.5 278.5,267.9 C278.5,269.4 278.4,270.9 278.2,272.0 C277.9,273.2 277.7,274.1 277.0,274.8 C276.3,275.4 275.2,275.8 274.0,276.0 C272.8,276.2 270.8,276.2 269.6,276.0 C268.4,275.8 267.3,275.4 266.6,274.8 C265.9,274.1 265.7,273.2 265.4,272.0 C265.2,270.9 265.1,269.4 265.1,267.9 C265.1,266.5 265.0,265.0 265.2,263.3 C265.4,261.7 266.1,259.8 266.3,258.2 C266.5,256.7 266.3,255.1 266.4,254.2 C266.5,253.2 266.6,253.0 266.9,252.6 C267.2,252.2 268.0,252.0 268.4,251.6 C268.9,251.2 269.3,250.8 269.6,250.4 C269.9,249.9 270.1,249.4 270.3,248.9 C270.5,248.4 270.7,247.7 270.9,247.4 C271.2,247.1 271.5,247.0 271.8,247.0 Z" fill="#1c30e4"/><ellipse cx="271.8" cy="257.2142857142857" rx="4.2" ry="4.4" fill="#18c4ec"/><ellipse cx="269.6" cy="255.17142857142858" rx="1.3" ry="1.6" fill="#2040e8"/><ellipse cx="273.8" cy="258.23571428571427" rx="1.6" ry="2.0" fill="#60e060"/><ellipse cx="268.6" cy="260.2785714285714" rx="1.0" ry="1.6" fill="#e8f0ff"/><path d="M269.00,259.26 C269.00,266.98 264.40,269.55 264.40,274.36 C266.62,277.02 276.98,277.02 279.20,274.36 C279.20,269.55 274.60,266.98 274.60,259.26 C274.60,258.26 269.00,258.26 269.00,259.26 Z" fill="#10d0e8"/><path d="M269.50,259.77 C269.50,266.98 265.00,269.39 265.00,273.88 C267.04,276.40 276.56,276.40 278.60,273.88 C278.60,269.39 274.10,266.98 274.10,259.77 C274.10,258.77 269.50,258.77 269.50,259.77 Z" fill="#a8e800"/><path d="M270.00,260.28 C270.00,266.99 265.60,269.23 265.60,273.40 C267.46,275.79 276.14,275.79 278.00,273.40 C278.00,269.23 273.60,266.99 273.60,260.28 C273.60,259.28 270.00,259.28 270.00,260.28 Z" fill="#f8d000"/><path d="M270.70,261.10 C270.70,267.12 266.30,269.12 266.30,272.87 C267.95,275.08 275.65,275.08 277.30,272.87 C277.30,269.12 272.90,267.12 272.90,261.10 C272.90,260.10 270.70,260.10 270.70,261.10 Z" fill="#f01400"/></g>
<g filter="url(#bl8)"><path d="M287.0,247.0 C287.3,247.0 287.6,247.1 287.9,247.4 C288.1,247.7 288.3,248.4 288.5,248.9 C288.7,249.4 288.9,249.9 289.2,250.4 C289.5,250.8 289.9,251.2 290.4,251.6 C290.8,252.0 291.6,252.2 291.9,252.6 C292.2,253.0 292.3,253.2 292.4,254.2 C292.5,255.1 292.3,256.7 292.5,258.2 C292.7,259.8 293.4,261.7 293.6,263.3 C293.8,265.0 293.7,266.5 293.7,267.9 C293.7,269.4 293.6,270.9 293.4,272.0 C293.1,273.2 292.9,274.1 292.2,274.8 C291.5,275.4 290.4,275.8 289.2,276.0 C288.0,276.2 286.0,276.2 284.8,276.0 C283.6,275.8 282.5,275.4 281.8,274.8 C281.1,274.1 280.9,273.2 280.6,272.0 C280.4,270.9 280.3,269.4 280.3,267.9 C280.3,266.5 280.2,265.0 280.4,263.3 C280.6,261.7 281.3,259.8 281.5,258.2 C281.7,256.7 281.5,255.1 281.6,254.2 C281.7,253.2 281.8,253.0 282.1,252.6 C282.4,252.2 283.2,252.0 283.6,251.6 C284.1,251.2 284.5,250.8 284.8,250.4 C285.1,249.9 285.3,249.4 285.5,248.9 C285.7,248.4 285.9,247.7 286.1,247.4 C286.4,247.1 286.7,247.0 287.0,247.0 Z" fill="#1c30e4"/><ellipse cx="287.0" cy="257.2142857142857" rx="4.2" ry="4.4" fill="#18c4ec"/><ellipse cx="284.8" cy="255.17142857142858" rx="1.3" ry="1.6" fill="#2040e8"/><ellipse cx="289.0" cy="258.23571428571427" rx="1.6" ry="2.0" fill="#60e060"/><ellipse cx="283.8" cy="260.2785714285714" rx="1.0" ry="1.6" fill="#e8f0ff"/><path d="M284.20,259.26 C284.20,266.98 279.60,269.55 279.60,274.36 C281.82,277.02 292.18,277.02 294.40,274.36 C294.40,269.55 289.80,266.98 289.80,259.26 C289.80,258.26 284.20,258.26 284.20,259.26 Z" fill="#10d0e8"/><path d="M284.70,259.77 C284.70,266.98 280.20,269.39 280.20,273.88 C282.24,276.40 291.76,276.40 293.80,273.88 C293.80,269.39 289.30,266.98 289.30,259.77 C289.30,258.77 284.70,258.77 284.70,259.77 Z" fill="#a8e800"/><path d="M285.20,260.28 C285.20,266.99 280.80,269.23 280.80,273.40 C282.66,275.79 291.34,275.79 293.20,273.40 C293.20,269.23 288.80,266.99 288.80,260.28 C288.80,259.28 285.20,259.28 285.20,260.28 Z" fill="#f8d000"/><path d="M285.90,261.10 C285.90,267.12 281.50,269.12 281.50,272.87 C283.15,275.08 290.85,275.08 292.50,272.87 C292.50,269.12 288.10,267.12 288.10,261.10 C288.10,260.10 285.90,260.10 285.90,261.10 Z" fill="#f01400"/></g>
<g filter="url(#bl8)"><path d="M231.4,303.0 C231.7,303.0 232.1,303.1 232.3,303.4 C232.6,303.8 232.7,304.5 232.9,305.0 C233.1,305.6 233.3,306.1 233.6,306.5 C233.9,307.0 234.4,307.4 234.8,307.8 C235.2,308.2 236.0,308.4 236.3,308.9 C236.6,309.3 236.7,309.5 236.8,310.5 C236.9,311.5 236.7,313.2 236.9,314.8 C237.1,316.4 237.8,318.4 238.0,320.1 C238.2,321.8 238.1,323.4 238.1,325.0 C238.1,326.5 238.1,328.1 237.8,329.2 C237.6,330.4 237.3,331.4 236.6,332.1 C235.9,332.8 234.8,333.2 233.6,333.4 C232.4,333.6 230.4,333.6 229.2,333.4 C228.0,333.2 226.9,332.8 226.2,332.1 C225.5,331.4 225.2,330.4 225.0,329.2 C224.8,328.1 224.7,326.5 224.7,325.0 C224.7,323.4 224.6,321.8 224.8,320.1 C225.0,318.4 225.7,316.4 225.9,314.8 C226.1,313.2 225.9,311.5 226.0,310.5 C226.1,309.5 226.2,309.3 226.5,308.9 C226.8,308.4 227.6,308.2 228.0,307.8 C228.4,307.4 228.9,307.0 229.2,306.5 C229.5,306.1 229.7,305.6 229.9,305.0 C230.1,304.5 230.2,303.8 230.5,303.4 C230.8,303.1 231.1,303.0 231.4,303.0 Z" fill="none" stroke="#3a3ae0" stroke-width="1.4"/><path d="M228.4,311.57142857142856 L234.4,314.7857142857143" stroke="#4040e0" stroke-width="1.8"/><path d="M234.9,312.64285714285717 L234.9,322.2857142857143" stroke="#4040e0" stroke-width="1.6"/><path d="M228.20,318.00 C228.20,324.75 225.20,327.00 225.20,331.20 C226.82,333.60 234.38,333.60 236.00,331.20 C236.00,327.00 233.00,324.75 233.00,318.00 C233.00,317.00 228.20,317.00 228.20,318.00 Z" fill="#1c1ce0"/><ellipse cx="230.6" cy="327.64285714285717" rx="2.0" ry="3.4" fill="#18b0f8"/></g>
<g filter="url(#bl8)"><path d="M257.00,311.14 C257.00,320.30 254.60,323.36 254.60,329.06 C256.46,332.10 265.14,332.10 267.00,329.06 C267.00,323.36 264.60,320.30 264.60,311.14 C264.60,310.14 257.00,310.14 257.00,311.14 Z" fill="#2424d8"/><path d="M258.20,311.65 C258.20,315.09 257.00,316.23 257.00,318.37 C258.14,319.89 263.46,319.89 264.60,318.37 C264.60,316.23 263.40,315.09 263.40,311.65 C263.40,310.65 258.20,310.65 258.20,311.65 Z" fill="#e0e0f0"/><path d="M258.80,316.23 C258.80,321.73 256.60,323.56 256.60,326.98 C257.86,329.05 263.74,329.05 265.00,326.98 C265.00,323.56 262.80,321.73 262.80,316.23 C262.80,315.23 258.80,315.23 258.80,316.23 Z" fill="#18b8f0"/><ellipse cx="260.8" cy="322.8482142857143" rx="1.6" ry="3.2" fill="#40e060"/></g>
<g filter="url(#bl8)"><path d="M279.0,309.10714285714283 Q277.5,314.19642857142856 276.0,319.2857142857143" stroke="#2a2ae0" stroke-width="1.7" fill="none"/><ellipse cx="276.0" cy="322.8482142857143" rx="2.3" ry="3.6" fill="#2020e0"/><ellipse cx="276.0" cy="323.35714285714283" rx="1.0" ry="1.8" fill="#2a80ff"/></g>
<g filter="url(#bl8)"><path d="M287.4,311.14285714285717 L291.4,315.2142857142857" stroke="#4a40e0" stroke-width="1.8"/><path d="M288.20,316.23 C288.20,322.64 286.00,324.78 286.00,328.77 C287.32,331.08 293.48,331.08 294.80,328.77 C294.80,324.78 292.60,322.64 292.60,316.23 C292.60,315.23 288.20,315.23 288.20,316.23 Z" fill="#3020e0"/><ellipse cx="290.4" cy="324.88392857142856" rx="1.6" ry="2.8" fill="#2890f0"/></g>
<rect x="310" y="217.9" width="5.2" height="98" fill="url(#lum)"/>
<text x="310" y="213" font-size="3.6" fill="#602020" stroke="#602020" stroke-width="0.12">Luminescence</text>
<text x="319.5" y="218.20000000000002" font-size="3.8" fill="#404040" stroke="#404040" stroke-width="0.12">5.0</text>
<line x1="315.2" y1="216.9" x2="317.5" y2="216.9" stroke="#404040" stroke-width="0.6"/>
<text x="319.5" y="240.10000000000002" font-size="3.8" fill="#404040" stroke="#404040" stroke-width="0.12">4.0</text>
<line x1="315.2" y1="238.8" x2="317.5" y2="238.8" stroke="#404040" stroke-width="0.6"/>
<text x="319.5" y="262.1" font-size="3.8" fill="#404040" stroke="#404040" stroke-width="0.12">3.0</text>
<line x1="315.2" y1="260.8" x2="317.5" y2="260.8" stroke="#404040" stroke-width="0.6"/>
<text x="319.5" y="283.90000000000003" font-size="3.8" fill="#404040" stroke="#404040" stroke-width="0.12">2.0</text>
<line x1="315.2" y1="282.6" x2="317.5" y2="282.6" stroke="#404040" stroke-width="0.6"/>
<text x="319.5" y="305.8" font-size="3.8" fill="#404040" stroke="#404040" stroke-width="0.12">1.0</text>
<line x1="315.2" y1="304.5" x2="317.5" y2="304.5" stroke="#404040" stroke-width="0.6"/>
<text x="328" y="267.5" font-size="3.8" fill="#404040" stroke="#404040" stroke-width="0.12">x10<tspan font-size="2.8" dy="-1.8">5</tspan></text>
<line x1="315.2" y1="219.0" x2="316.4" y2="219.0" stroke="#606060" stroke-width="0.4"/>
<line x1="315.2" y1="223.1" x2="316.4" y2="223.1" stroke="#606060" stroke-width="0.4"/>
<line x1="315.2" y1="227.2" x2="316.4" y2="227.2" stroke="#606060" stroke-width="0.4"/>
<line x1="315.2" y1="231.3" x2="316.4" y2="231.3" stroke="#606060" stroke-width="0.4"/>
<line x1="315.2" y1="235.4" x2="316.4" y2="235.4" stroke="#606060" stroke-width="0.4"/>
<line x1="315.2" y1="239.5" x2="316.4" y2="239.5" stroke="#606060" stroke-width="0.4"/>
<line x1="315.2" y1="243.6" x2="316.4" y2="243.6" stroke="#606060" stroke-width="0.4"/>
<line x1="315.2" y1="247.7" x2="316.4" y2="247.7" stroke="#606060" stroke-width="0.4"/>
<line x1="315.2" y1="251.8" x2="316.4" y2="251.8" stroke="#606060" stroke-width="0.4"/>
<line x1="315.2" y1="255.9" x2="316.4" y2="255.9" stroke="#606060" stroke-width="0.4"/>
<line x1="315.2" y1="260.0" x2="316.4" y2="260.0" stroke="#606060" stroke-width="0.4"/>
<line x1="315.2" y1="264.1" x2="316.4" y2="264.1" stroke="#606060" stroke-width="0.4"/>
<line x1="315.2" y1="268.2" x2="316.4" y2="268.2" stroke="#606060" stroke-width="0.4"/>
<line x1="315.2" y1="272.3" x2="316.4" y2="272.3" stroke="#606060" stroke-width="0.4"/>
<line x1="315.2" y1="276.4" x2="316.4" y2="276.4" stroke="#606060" stroke-width="0.4"/>
<line x1="315.2" y1="280.5" x2="316.4" y2="280.5" stroke="#606060" stroke-width="0.4"/>
<line x1="315.2" y1="284.6" x2="316.4" y2="284.6" stroke="#606060" stroke-width="0.4"/>
<line x1="315.2" y1="288.7" x2="316.4" y2="288.7" stroke="#606060" stroke-width="0.4"/>
<line x1="315.2" y1="292.8" x2="316.4" y2="292.8" stroke="#606060" stroke-width="0.4"/>
<line x1="315.2" y1="296.9" x2="316.4" y2="296.9" stroke="#606060" stroke-width="0.4"/>
<line x1="315.2" y1="301.0" x2="316.4" y2="301.0" stroke="#606060" stroke-width="0.4"/>
<line x1="315.2" y1="305.1" x2="316.4" y2="305.1" stroke="#606060" stroke-width="0.4"/>
<line x1="315.2" y1="309.2" x2="316.4" y2="309.2" stroke="#606060" stroke-width="0.4"/>
<line x1="315.2" y1="313.3" x2="316.4" y2="313.3" stroke="#606060" stroke-width="0.4"/>
<line x1="315.2" y1="317.4" x2="316.4" y2="317.4" stroke="#606060" stroke-width="0.4"/>
<text x="1.8" y="170.7" font-size="11.2" font-weight="bold" font-style="normal" text-anchor="start" fill="#1a1a1a"  stroke="#1a1a1a" stroke-width="0.35">C</text>
<text x="1.4" y="372.4" font-size="11.2" font-weight="bold" font-style="normal" text-anchor="start" fill="#1a1a1a"  stroke="#1a1a1a" stroke-width="0.35">D</text>
<line x1="69.0" y1="387.09999999999997" x2="69.0" y2="440.2" stroke="#1a1a1a" stroke-width="1.3"/>
<line x1="66.0" y1="440.2" x2="71.5" y2="440.2" stroke="#1a1a1a" stroke-width="1.3"/>
<line x1="69.0" y1="448.9" x2="69.0" y2="502.0" stroke="#1a1a1a" stroke-width="1.3"/>
<line x1="66.5" y1="448.9" x2="72.0" y2="448.9" stroke="#1a1a1a" stroke-width="1.3"/>
<line x1="69.0" y1="501.4" x2="238.9" y2="501.4" stroke="#1a1a1a" stroke-width="1.3"/>
<line x1="66.5" y1="387.7" x2="69.0" y2="387.7" stroke="#1a1a1a" stroke-width="1.2"/>
<text x="34.4" y="391.0" font-size="8.6" font-weight="bold" fill="#1a1a1a" textLength="27.2" lengthAdjust="spacingAndGlyphs" stroke="#1a1a1a" stroke-width="0.35">5.0<tspan font-weight="normal">×</tspan>10</text>
<text x="62.0" y="388.3" font-size="4.6" font-weight="bold" fill="#1a1a1a" stroke="#1a1a1a" stroke-width="0.12">8</text>
<line x1="66.5" y1="400.825" x2="69.0" y2="400.825" stroke="#1a1a1a" stroke-width="1.2"/>
<text x="34.4" y="404.125" font-size="8.6" font-weight="bold" fill="#1a1a1a" textLength="27.2" lengthAdjust="spacingAndGlyphs" stroke="#1a1a1a" stroke-width="0.35">4.0<tspan font-weight="normal">×</tspan>10</text>
<text x="62.0" y="401.425" font-size="4.6" font-weight="bold" fill="#1a1a1a" stroke="#1a1a1a" stroke-width="0.12">8</text>
<line x1="66.5" y1="413.95" x2="69.0" y2="413.95" stroke="#1a1a1a" stroke-width="1.2"/>
<text x="34.4" y="417.25" font-size="8.6" font-weight="bold" fill="#1a1a1a" textLength="27.2" lengthAdjust="spacingAndGlyphs" stroke="#1a1a1a" stroke-width="0.35">3.0<tspan font-weight="normal">×</tspan>10</text>
<text x="62.0" y="414.55" font-size="4.6" font-weight="bold" fill="#1a1a1a" stroke="#1a1a1a" stroke-width="0.12">8</text>
<line x1="66.5" y1="427.075" x2="69.0" y2="427.075" stroke="#1a1a1a" stroke-width="1.2"/>
<text x="34.4" y="430.375" font-size="8.6" font-weight="bold" fill="#1a1a1a" textLength="27.2" lengthAdjust="spacingAndGlyphs" stroke="#1a1a1a" stroke-width="0.35">2.0<tspan font-weight="normal">×</tspan>10</text>
<text x="62.0" y="427.675" font-size="4.6" font-weight="bold" fill="#1a1a1a" stroke="#1a1a1a" stroke-width="0.12">8</text>
<line x1="66.5" y1="440.2" x2="69.0" y2="440.2" stroke="#1a1a1a" stroke-width="1.2"/>
<text x="34.4" y="443.5" font-size="8.6" font-weight="bold" fill="#1a1a1a" textLength="27.2" lengthAdjust="spacingAndGlyphs" stroke="#1a1a1a" stroke-width="0.35">1.0<tspan font-weight="normal">×</tspan>10</text>
<text x="62.0" y="440.8" font-size="4.6" font-weight="bold" fill="#1a1a1a" stroke="#1a1a1a" stroke-width="0.12">8</text>
<line x1="66.5" y1="448.9" x2="69.0" y2="448.9" stroke="#1a1a1a" stroke-width="1.2"/>
<text x="34.4" y="452.2" font-size="8.6" font-weight="bold" fill="#1a1a1a" textLength="27.2" lengthAdjust="spacingAndGlyphs" stroke="#1a1a1a" stroke-width="0.35">3.0<tspan font-weight="normal">×</tspan>10</text>
<text x="62.0" y="449.5" font-size="4.6" font-weight="bold" fill="#1a1a1a" stroke="#1a1a1a" stroke-width="0.12">7</text>
<line x1="66.5" y1="466.4" x2="69.0" y2="466.4" stroke="#1a1a1a" stroke-width="1.2"/>
<text x="34.4" y="469.7" font-size="8.6" font-weight="bold" fill="#1a1a1a" textLength="27.2" lengthAdjust="spacingAndGlyphs" stroke="#1a1a1a" stroke-width="0.35">2.0<tspan font-weight="normal">×</tspan>10</text>
<text x="62.0" y="467.0" font-size="4.6" font-weight="bold" fill="#1a1a1a" stroke="#1a1a1a" stroke-width="0.12">7</text>
<line x1="66.5" y1="483.9" x2="69.0" y2="483.9" stroke="#1a1a1a" stroke-width="1.2"/>
<text x="34.4" y="487.2" font-size="8.6" font-weight="bold" fill="#1a1a1a" textLength="27.2" lengthAdjust="spacingAndGlyphs" stroke="#1a1a1a" stroke-width="0.35">1.0<tspan font-weight="normal">×</tspan>10</text>
<text x="62.0" y="484.5" font-size="4.6" font-weight="bold" fill="#1a1a1a" stroke="#1a1a1a" stroke-width="0.12">7</text>
<line x1="66.5" y1="501.4" x2="69.0" y2="501.4" stroke="#1a1a1a" stroke-width="1.2"/>
<text x="64.4" y="504.59999999999997" font-size="8.6" font-weight="bold" font-style="normal" text-anchor="end" fill="#1a1a1a"  stroke="#1a1a1a" stroke-width="0.35">0</text>
<text transform="translate(8.6,444) rotate(-90)" font-size="10" font-weight="bold" text-anchor="middle" fill="#1a1a1a" textLength="63.3" lengthAdjust="spacingAndGlyphs" stroke="#1a1a1a" stroke-width="0.35">Tumor burden</text>
<text transform="translate(20.6,444) rotate(-90)" font-size="7.2" font-weight="bold" text-anchor="middle" fill="#1a1a1a" textLength="64.8" lengthAdjust="spacingAndGlyphs" stroke="#1a1a1a" stroke-width="0.35">(Bioluminescence)</text>
<rect x="76.39999999999999" y="500.4" width="10.8" height="1.0" fill="#222"/>
<rect x="91.6" y="500.4" width="10.8" height="1.0" fill="#222"/>
<rect x="106.8" y="500.4" width="10.8" height="1.0" fill="#222"/>
<line x1="138.5" y1="476.9" x2="138.5" y2="483.9" stroke="#1a1a1a" stroke-width="1.2"/>
<line x1="135.8" y1="476.9" x2="141.2" y2="476.9" stroke="#1a1a1a" stroke-width="1.2"/>
<rect x="133.6" y="484.4" width="9.8" height="17.0" fill="#0a0ae6" stroke="#1a1a1a" stroke-width="1.0"/>
<line x1="153.7" y1="470.775" x2="153.7" y2="476.9" stroke="#1a1a1a" stroke-width="1.2"/>
<line x1="151.0" y1="470.775" x2="156.39999999999998" y2="470.775" stroke="#1a1a1a" stroke-width="1.2"/>
<rect x="148.79999999999998" y="477.4" width="9.8" height="24.0" fill="#10c010" stroke="#1a1a1a" stroke-width="1.0"/>
<rect x="163.99999999999997" y="501.025" width="9.8" height="0.375" fill="#ee0a0a" stroke="#1a1a1a" stroke-width="1.0"/>
<line x1="195.4" y1="403.0" x2="195.4" y2="417.1" stroke="#1a1a1a" stroke-width="1.2"/>
<line x1="192.70000000000002" y1="403.0" x2="198.1" y2="403.0" stroke="#1a1a1a" stroke-width="1.2"/>
<rect x="190.5" y="417.6" width="9.8" height="22.599999999999966" fill="#0a0ae6" stroke="#1a1a1a" stroke-width="1.0"/>
<rect x="190.5" y="448.9" width="9.8" height="52.5" fill="#0a0ae6" stroke="#1a1a1a" stroke-width="1.0"/>
<rect x="191.0" y="448.29999999999995" width="8.8" height="1.2" fill="#0a0ae6"/>
<rect x="191.0" y="439.59999999999997" width="8.8" height="1.2" fill="#0a0ae6"/>
<line x1="210.6" y1="412.9" x2="210.6" y2="419.4" stroke="#1a1a1a" stroke-width="1.2"/>
<line x1="207.9" y1="412.9" x2="213.29999999999998" y2="412.9" stroke="#1a1a1a" stroke-width="1.2"/>
<rect x="205.7" y="419.9" width="9.8" height="20.30000000000001" fill="#10c010" stroke="#1a1a1a" stroke-width="1.0"/>
<rect x="205.7" y="448.9" width="9.8" height="52.5" fill="#10c010" stroke="#1a1a1a" stroke-width="1.0"/>
<rect x="206.2" y="448.29999999999995" width="8.8" height="1.2" fill="#10c010"/>
<rect x="206.2" y="439.59999999999997" width="8.8" height="1.2" fill="#10c010"/>
<line x1="225.79999999999998" y1="461.7" x2="225.79999999999998" y2="478.2" stroke="#1a1a1a" stroke-width="1.2"/>
<line x1="223.1" y1="461.7" x2="228.49999999999997" y2="461.7" stroke="#1a1a1a" stroke-width="1.2"/>
<rect x="220.89999999999998" y="478.7" width="9.8" height="22.69999999999999" fill="#ee0a0a" stroke="#1a1a1a" stroke-width="1.0"/>
<line x1="97.0" y1="501.4" x2="97.0" y2="503.9" stroke="#1a1a1a" stroke-width="1.2"/>
<line x1="153.7" y1="501.4" x2="153.7" y2="503.9" stroke="#1a1a1a" stroke-width="1.2"/>
<line x1="210.6" y1="501.4" x2="210.6" y2="503.9" stroke="#1a1a1a" stroke-width="1.2"/>
<text x="97.0" y="516.2" font-size="9.8" font-weight="bold" font-style="normal" text-anchor="middle" fill="#1a1a1a" textLength="24.4" lengthAdjust="spacingAndGlyphs"  stroke="#1a1a1a" stroke-width="0.35">Day 1</text>
<text x="153.7" y="516.2" font-size="9.8" font-weight="bold" font-style="normal" text-anchor="middle" fill="#1a1a1a" textLength="30.6" lengthAdjust="spacingAndGlyphs"  stroke="#1a1a1a" stroke-width="0.35">Day 16</text>
<text x="210.6" y="516.2" font-size="9.8" font-weight="bold" font-style="normal" text-anchor="middle" fill="#1a1a1a" textLength="30.6" lengthAdjust="spacingAndGlyphs"  stroke="#1a1a1a" stroke-width="0.35">Day 26</text>
<rect x="83.8" y="389.0" width="12.2" height="7.2" fill="#0a0ae6" stroke="#1a1a1a" stroke-width="0.9"/>
<text x="103.2" y="396.20000000000005" font-size="9.2" font-weight="bold" font-style="normal" text-anchor="start" fill="#1a1a1a" textLength="10.6" lengthAdjust="spacingAndGlyphs"  stroke="#1a1a1a" stroke-width="0.35">scr</text>
<rect x="83.8" y="402.09999999999997" width="12.2" height="7.2" fill="#10c010" stroke="#1a1a1a" stroke-width="0.9"/>
<text x="103.2" y="409.3" font-size="9.2" font-weight="bold" font-style="normal" text-anchor="start" fill="#1a1a1a" textLength="34.2" lengthAdjust="spacingAndGlyphs"  stroke="#1a1a1a" stroke-width="0.35">FAK K.D.</text>
<rect x="83.8" y="415.4" width="12.2" height="7.2" fill="#ee0a0a" stroke="#1a1a1a" stroke-width="0.9"/>
<text x="103.2" y="422.6" font-size="9.2" font-weight="bold" font-style="normal" text-anchor="start" fill="#1a1a1a" textLength="37.9" lengthAdjust="spacingAndGlyphs"  stroke="#1a1a1a" stroke-width="0.35">Pyk2 K.D.</text>
<polyline points="137.8,461.7 153.7,461.7 153.7,465.8" fill="none" stroke="#1a1a1a" stroke-width="1.2"/>
<text x="141.5" y="458.8" font-size="7.2" font-weight="bold" font-style="italic" text-anchor="start" fill="#1a1a1a"  stroke="#1a1a1a" stroke-width="0.35">n.s.</text>
<polyline points="137.4,445.5 169.7,445.5 169.7,481.4" fill="none" stroke="#1a1a1a" stroke-width="1.2"/>
<text x="138.6" y="441.4" font-size="7.2" font-weight="bold" fill="#1a1a1a" stroke="#1a1a1a" stroke-width="0.35"><tspan font-style="italic">P</tspan> = 0.0009</text>
<polyline points="195.6,392.2 210.4,392.2 210.4,404.8" fill="none" stroke="#1a1a1a" stroke-width="1.2"/>
<text x="198.6" y="389.6" font-size="7.2" font-weight="bold" font-style="italic" text-anchor="start" fill="#1a1a1a"  stroke="#1a1a1a" stroke-width="0.35">n.s.</text>
<polyline points="195.2,378.0 225.2,378.0 225.2,451.2" fill="none" stroke="#1a1a1a" stroke-width="1.2"/>
<text x="194.4" y="375.0" font-size="7.2" font-weight="bold" fill="#1a1a1a" stroke="#1a1a1a" stroke-width="0.35"><tspan font-style="italic">P</tspan> = 0.0006</text>
<text x="276.6" y="372.4" font-size="11.2" font-weight="bold" font-style="normal" text-anchor="start" fill="#1a1a1a"  stroke="#1a1a1a" stroke-width="0.35">E</text>
<line x1="316.4" y1="379.8" x2="316.4" y2="497.5" stroke="#1a1a1a" stroke-width="1.3"/>
<line x1="315.79999999999995" y1="496.9" x2="491.6" y2="496.9" stroke="#1a1a1a" stroke-width="1.3"/>
<line x1="313.9" y1="391.2" x2="316.4" y2="391.2" stroke="#1a1a1a" stroke-width="1.2"/>
<text x="313.2" y="394.4" font-size="9" font-weight="bold" font-style="normal" text-anchor="end" fill="#1a1a1a"  stroke="#1a1a1a" stroke-width="0.35">100</text>
<line x1="313.9" y1="444.04999999999995" x2="316.4" y2="444.04999999999995" stroke="#1a1a1a" stroke-width="1.2"/>
<text x="313.2" y="447.24999999999994" font-size="9" font-weight="bold" font-style="normal" text-anchor="end" fill="#1a1a1a"  stroke="#1a1a1a" stroke-width="0.35">50</text>
<line x1="313.9" y1="496.9" x2="316.4" y2="496.9" stroke="#1a1a1a" stroke-width="1.2"/>
<text x="313.2" y="500.09999999999997" font-size="9" font-weight="bold" font-style="normal" text-anchor="end" fill="#1a1a1a"  stroke="#1a1a1a" stroke-width="0.35">0</text>
<line x1="316.4" y1="496.9" x2="316.4" y2="499.4" stroke="#1a1a1a" stroke-width="1.2"/>
<text x="316.4" y="512.8" font-size="9.6" font-weight="bold" font-style="normal" text-anchor="middle" fill="#1a1a1a"  stroke="#1a1a1a" stroke-width="0.35">0</text>
<line x1="360.17999999999995" y1="496.9" x2="360.17999999999995" y2="499.4" stroke="#1a1a1a" stroke-width="1.2"/>
<text x="360.17999999999995" y="512.8" font-size="9.6" font-weight="bold" font-style="normal" text-anchor="middle" fill="#1a1a1a"  stroke="#1a1a1a" stroke-width="0.35">20</text>
<line x1="403.96" y1="496.9" x2="403.96" y2="499.4" stroke="#1a1a1a" stroke-width="1.2"/>
<text x="403.96" y="512.8" font-size="9.6" font-weight="bold" font-style="normal" text-anchor="middle" fill="#1a1a1a"  stroke="#1a1a1a" stroke-width="0.35">40</text>
<line x1="447.74" y1="496.9" x2="447.74" y2="499.4" stroke="#1a1a1a" stroke-width="1.2"/>
<text x="447.74" y="512.8" font-size="9.6" font-weight="bold" font-style="normal" text-anchor="middle" fill="#1a1a1a"  stroke="#1a1a1a" stroke-width="0.35">60</text>
<line x1="491.52" y1="496.9" x2="491.52" y2="499.4" stroke="#1a1a1a" stroke-width="1.2"/>
<text x="491.52" y="512.8" font-size="9.6" font-weight="bold" font-style="normal" text-anchor="middle" fill="#1a1a1a"  stroke="#1a1a1a" stroke-width="0.35">80</text>
<text x="404" y="528" font-size="9.6" font-weight="bold" font-style="normal" text-anchor="middle" fill="#1a1a1a" textLength="21.2" lengthAdjust="spacingAndGlyphs"  stroke="#1a1a1a" stroke-width="0.35">Days</text>
<text transform="translate(289.4,437.7) rotate(-90)" font-size="9.8" font-weight="bold" text-anchor="middle" fill="#1a1a1a" textLength="73.5" lengthAdjust="spacingAndGlyphs" stroke="#1a1a1a" stroke-width="0.35">Percent survival</text>
<text x="346.6" y="381.2" font-size="8.8" font-weight="bold" fill="#1a1a1a" textLength="43" lengthAdjust="spacingAndGlyphs" stroke="#1a1a1a" stroke-width="0.35"><tspan font-style="italic">P</tspan> &lt; 0.0001</text>
<polyline points="316.4,391.2 423.66099999999994,391.2 423.66099999999994,433.48 438.984,433.48 438.984,454.62 452.118,454.62 452.118,475.76 469.63,475.76 469.63,496.9" fill="none" stroke="#d43838" stroke-width="1.3"/>
<polyline points="316.4,391.2 386.448,391.2 386.448,433.48 390.82599999999996,433.48 390.82599999999996,475.76 397.393,475.76 397.393,496.9" fill="none" stroke="#38b838" stroke-width="1.3"/>
<polyline points="316.4,391.2 397.393,391.2 397.393,433.48 399.582,433.48 399.582,454.62 403.96,454.62 403.96,496.9" fill="none" stroke="#3434c4" stroke-width="1.3"/>
<line x1="460.5" y1="388.5" x2="473.4" y2="388.5" stroke="#3434c4" stroke-width="1.4"/>
<text x="480.4" y="391.8" font-size="9.0" font-weight="bold" font-style="normal" text-anchor="start" fill="#1a1a1a" textLength="10.5" lengthAdjust="spacingAndGlyphs"  stroke="#1a1a1a" stroke-width="0.35">scr</text>
<line x1="460.5" y1="401.8" x2="473.4" y2="401.8" stroke="#38b838" stroke-width="1.4"/>
<text x="480.4" y="405.1" font-size="9.0" font-weight="bold" font-style="normal" text-anchor="start" fill="#1a1a1a" textLength="34.4" lengthAdjust="spacingAndGlyphs"  stroke="#1a1a1a" stroke-width="0.35">FAK K.D.</text>
<line x1="460.5" y1="415.5" x2="473.4" y2="415.5" stroke="#d43838" stroke-width="1.4"/>
<text x="480.4" y="418.8" font-size="9.0" font-weight="bold" font-style="normal" text-anchor="start" fill="#1a1a1a" textLength="37.2" lengthAdjust="spacingAndGlyphs"  stroke="#1a1a1a" stroke-width="0.35">Pyk2 K.D.</text>
<defs>
<filter color-interpolation-filters="sRGB" id="texD" x="0" y="0" width="100%" height="100%"><feTurbulence type="fractalNoise" baseFrequency="0.75" numOctaves="2" seed="4" result="n"/>
<feColorMatrix in="n" type="matrix" values="0 0 0 0 0.68  0 0 0 0 0.48  0 0 0 0 0.4  0 0 0 -3.2 1.7" result="sp"/>
<feComposite in="sp" in2="SourceGraphic" operator="in" result="sp2"/>
<feTurbulence type="fractalNoise" baseFrequency="0.6" numOctaves="2" seed="11" result="n2"/>
<feColorMatrix in="n2" type="matrix" values="0 0 0 0 0.12  0 0 0 0 0.03  0 0 0 0 0.02  0 0 0 -3 1.5" result="dk"/>
<feComposite in="dk" in2="SourceGraphic" operator="in" result="dk2"/>
<feMerge><feMergeNode in="SourceGraphic"/><feMergeNode in="dk2"/><feMergeNode in="sp2"/></feMerge></filter>
<filter color-interpolation-filters="sRGB" id="texD3" x="0" y="0" width="100%" height="100%"><feTurbulence type="fractalNoise" baseFrequency="0.7" numOctaves="2" seed="8" result="n"/>
<feColorMatrix in="n" type="matrix" values="0 0 0 0 0.55  0 0 0 0 0.32  0 0 0 0 0.26  0 0 0 -3.0 1.3" result="sp"/>
<feComposite in="sp" in2="SourceGraphic" operator="in" result="sp2"/>
<feTurbulence type="fractalNoise" baseFrequency="0.5" numOctaves="2" seed="13" result="n2"/>
<feColorMatrix in="n2" type="matrix" values="0 0 0 0 0.16  0 0 0 0 0.04  0 0 0 0 0.02  0 0 0 -3 1.5" result="dk"/>
<feComposite in="dk" in2="SourceGraphic" operator="in" result="dk2"/>
<feMerge><feMergeNode in="SourceGraphic"/><feMergeNode in="dk2"/><feMergeNode in="sp2"/></feMerge></filter>
<filter color-interpolation-filters="sRGB" id="texM" x="0" y="0" width="100%" height="100%"><feTurbulence type="fractalNoise" baseFrequency="0.5" numOctaves="2" seed="7" result="n"/>
<feColorMatrix in="n" type="matrix" values="0 0 0 0 0.68  0 0 0 0 0.58  0 0 0 0 0.52  0 0 0 -3.4 1.5" result="sp"/>
<feComposite in="sp" in2="SourceGraphic" operator="in" result="sp2"/>
<feTurbulence type="fractalNoise" baseFrequency="0.45" numOctaves="2" seed="21" result="n2"/>
<feColorMatrix in="n2" type="matrix" values="0 0 0 0 0.55  0 0 0 0 0.28  0 0 0 0 0.18  0 0 0 -3.2 1.75" result="dk"/>
<feComposite in="dk" in2="SourceGraphic" operator="in" result="dk2"/>
<feMerge><feMergeNode in="SourceGraphic"/><feMergeNode in="dk2"/><feMergeNode in="sp2"/></feMerge></filter>
<filter color-interpolation-filters="sRGB" id="texL" x="0" y="0" width="100%" height="100%"><feTurbulence type="fractalNoise" baseFrequency="0.35" numOctaves="3" seed="5" result="n"/>
<feColorMatrix in="n" type="matrix" values="0 0 0 0 0.74  0 0 0 0 0.68  0 0 0 0 0.66  0 0 0 -1.2 0.55" result="sp"/>
<feComposite in="sp" in2="SourceGraphic" operator="in" result="sp2"/>
<feMerge><feMergeNode in="SourceGraphic"/><feMergeNode in="sp2"/></feMerge></filter>
<filter color-interpolation-filters="sRGB" id="softF" x="-5%" y="-5%" width="110%" height="110%"><feGaussianBlur stdDeviation="0.5"/></filter>
<clipPath id="cf1"><rect x="28" y="546" width="96" height="72.6"/></clipPath>
<clipPath id="cf2"><rect x="129.3" y="545.5" width="94.5" height="72.8"/></clipPath>
<clipPath id="cf3"><rect x="28" y="621" width="96" height="72.6"/></clipPath>
<clipPath id="cf4"><rect x="129.3" y="620.9" width="94.5" height="72.5"/></clipPath>
<clipPath id="cf2i"><rect x="129.3" y="586.2" width="32" height="32.1"/></clipPath>
<clipPath id="cf4i"><rect x="129.3" y="661.3" width="32" height="32.1"/></clipPath>
</defs>
<text x="1.6" y="534.6" font-size="11.6" font-weight="bold" font-style="normal" text-anchor="start" fill="#1a1a1a"  stroke="#1a1a1a" stroke-width="0.35">F</text>
<text x="73.5" y="541.2" font-size="9.8" font-weight="bold" font-style="normal" text-anchor="middle" fill="#1a1a1a" textLength="37" lengthAdjust="spacingAndGlyphs"  stroke="#1a1a1a" stroke-width="0.35">h-CD138</text>
<text x="173.8" y="541.0" font-size="9.8" font-weight="bold" font-style="normal" text-anchor="middle" fill="#1a1a1a" textLength="29.7" lengthAdjust="spacingAndGlyphs"  stroke="#1a1a1a" stroke-width="0.35">h-Pyk2</text>
<text transform="translate(21.4,578.5) rotate(-90)" font-size="8.6" font-weight="bold" text-anchor="middle" fill="#1a1a1a" textLength="12" lengthAdjust="spacingAndGlyphs" stroke="#1a1a1a" stroke-width="0.35">scr</text>
<text transform="translate(21.8,649.8) rotate(-90)" font-size="9" font-weight="bold" text-anchor="middle" fill="#1a1a1a" textLength="39.4" lengthAdjust="spacingAndGlyphs" stroke="#1a1a1a" stroke-width="0.35">Pyk2 K.D.</text>
<g clip-path="url(#cf1)">
<rect x="27" y="545" width="98" height="75" fill="#bfe4ef"/>
<g filter="url(#softF)"><g filter="url(#texD)">
<path d="M26.0,544.0 C26.6,540.2 28.5,543.1 29.5,544.0 C30.5,544.9 30.8,548.2 32.0,549.5 C33.2,550.8 35.3,551.6 37.0,551.5 C38.7,551.4 40.7,550.2 42.0,549.0 C43.3,547.8 43.5,544.8 45.0,544.0 C46.5,543.2 49.3,542.8 51.0,544.0 C52.7,545.2 53.2,549.4 55.0,551.0 C56.8,552.6 59.8,553.3 62.0,553.5 C64.2,553.7 66.2,552.9 68.0,552.0 C69.8,551.1 71.7,549.3 73.0,548.0 C74.3,546.7 72.2,544.7 76.0,544.0 C79.8,543.3 91.5,542.8 95.5,544.0 C99.5,545.2 98.2,549.0 99.8,551.5 C101.4,554.0 103.4,556.5 105.2,559.0 C107.0,561.5 109.0,564.2 110.6,566.5 C112.2,568.8 113.7,570.6 114.9,573.0 C116.2,575.4 117.0,577.7 118.1,580.6 C119.2,583.5 120.0,588.3 121.3,590.3 C122.6,592.3 125.2,590.8 126.0,592.4 C126.8,594.0 127.5,598.3 126.0,600.0 C124.5,601.7 120.0,601.6 117.0,602.5 C114.0,603.4 111.3,604.4 108.0,605.5 C104.7,606.6 100.0,607.8 97.0,609.0 C94.0,610.2 91.7,611.2 90.0,613.0 C88.3,614.8 92.5,618.8 87.0,620.0 C81.5,621.2 62.3,621.5 57.0,620.0 C51.7,618.5 55.8,614.0 55.0,611.0 C54.2,608.0 53.4,604.4 52.0,602.0 C50.6,599.6 48.8,598.3 46.4,596.7 C44.0,595.1 40.1,594.2 37.8,592.4 C35.5,590.6 33.7,588.7 32.5,586.0 C31.3,583.3 31.2,579.1 30.8,576.0 C30.4,572.9 30.8,569.1 30.0,567.6 C29.2,566.1 26.7,570.9 26.0,567.0 C25.3,563.1 25.4,547.8 26.0,544.0 Z" fill="#582818" stroke="#3a1a10" stroke-width="1.2"/>
<path d="M26.0,604.0 C27.0,601.2 30.4,602.7 32.0,603.5 C33.6,604.3 34.8,606.2 35.5,609.0 C36.2,611.8 38.1,618.2 36.5,620.0 C34.9,621.8 27.8,622.7 26.0,620.0 C24.2,617.3 25.0,606.8 26.0,604.0 Z" fill="#4a2016"/>
<path d="M102.0,620.0 C99.3,619.1 107.3,615.9 110.0,614.5 C112.7,613.1 115.3,612.4 118.0,611.5 C120.7,610.6 124.7,607.6 126.0,609.0 C127.3,610.4 130.0,618.2 126.0,620.0 C122.0,621.8 104.7,620.9 102.0,620.0 Z" fill="#4a2016"/>
</g></g>
</g>
<rect x="28.3" y="546.3" width="95.4" height="72" fill="none" stroke="#8a8a8a" stroke-width="0.8"/>
<text x="113.2" y="617.2" font-size="6.4" font-weight="bold" fill="#2a2a2a" stroke="#2a2a2a" stroke-width="0.35">20X</text>
<g clip-path="url(#cf2)">
<rect x="128" y="544" width="98" height="76" fill="#bcdde8"/>
<g filter="url(#softF)"><g filter="url(#texM)">
<path d="M137.0,544.0 C139.0,543.2 143.8,543.2 146.0,544.0 C148.2,544.8 148.0,547.8 150.0,549.0 C152.0,550.2 155.7,551.5 158.0,551.5 C160.3,551.5 162.5,550.2 164.0,549.0 C165.5,547.8 161.5,544.8 167.0,544.0 C172.5,543.2 190.7,542.7 196.8,544.0 C202.9,545.3 201.4,549.2 203.4,551.6 C205.4,554.0 207.0,555.8 208.8,558.2 C210.6,560.6 212.7,563.1 214.3,565.8 C216.0,568.5 217.6,571.9 218.7,574.6 C219.8,577.3 219.7,580.0 220.9,582.2 C222.1,584.4 225.2,586.4 226.0,588.0 C226.8,589.6 227.6,590.8 226.0,592.0 C224.4,593.2 219.5,594.0 216.5,595.3 C213.5,596.6 211.1,598.1 207.8,599.7 C204.5,601.3 199.9,603.1 196.8,605.1 C193.7,607.1 191.2,609.2 189.2,611.7 C187.2,614.2 189.5,618.6 184.8,620.0 C180.2,621.4 165.2,625.7 161.3,620.0 C157.4,614.3 166.2,591.7 161.3,586.0 C156.4,580.3 136.8,587.8 131.8,586.0 C126.9,584.2 131.6,579.0 131.6,575.0 C131.6,571.0 131.7,565.3 131.8,562.0 C132.0,558.7 132.1,557.2 132.5,555.0 C132.9,552.8 133.2,550.8 134.0,549.0 C134.8,547.2 135.0,544.8 137.0,544.0 Z" fill="#a06a52"/>
<path d="M226.0,605.1 C223.9,603.2 217.1,607.3 213.2,608.4 C209.2,609.5 205.4,610.4 202.3,611.7 C199.2,613.0 196.5,614.6 194.7,616.0 C192.9,617.4 186.2,619.3 191.4,620.0 C196.6,620.7 220.2,622.5 226.0,620.0 C231.8,617.5 228.1,607.0 226.0,605.1 Z" fill="#a06a52"/>
</g></g>
</g>
<defs><linearGradient id="in2g" x1="0" y1="0" x2="0" y2="1"><stop offset="0" stop-color="#b2d2e0"/><stop offset="0.45" stop-color="#b4c8cc"/><stop offset="1" stop-color="#a49a8e"/></linearGradient></defs>
<g clip-path="url(#cf2i)"><g filter="url(#softF)">
<rect x="129.3" y="586.2" width="32" height="32.1" fill="url(#in2g)"/>
<ellipse cx="158.5" cy="594" rx="2.6" ry="3.2" fill="#9a6a58"/>
<ellipse cx="157.5" cy="606" rx="2.4" ry="2.8" fill="#8a5a48"/>
<ellipse cx="140" cy="611" rx="4" ry="3" fill="#9a8a80"/>
<ellipse cx="150" cy="613" rx="3.5" ry="3" fill="#8e7e72"/>
<ellipse cx="133" cy="612" rx="3" ry="3" fill="#8a8078"/>
<ellipse cx="149" cy="606" rx="2.5" ry="2.2" fill="#a07a66"/>
<circle cx="135.3" cy="599.8" r="3.0" fill="#c6bcae" stroke="#7a3020" stroke-width="1.8"/>
<circle cx="145.6" cy="600.2" r="3.4" fill="#c6bcae" stroke="#5e2018" stroke-width="1.8"/>
</g></g>
<rect x="129.6" y="586.2" width="31.7" height="31.9" fill="none" stroke="#4a3a30" stroke-width="0.8"/>
<rect x="129.6" y="545.8" width="93.9" height="72.3" fill="none" stroke="#8a8a8a" stroke-width="0.8"/>
<text x="212.6" y="617.0" font-size="6.6" font-weight="bold" fill="#1a1a1a" stroke="#1a1a1a" stroke-width="0.35">20X</text>
<g clip-path="url(#cf3)">
<rect x="27" y="620" width="98" height="75" fill="#bccbd0"/>
<g filter="url(#softF)"><g filter="url(#texD3)">
<path d="M26.0,627.7 C27.3,624.9 31.2,627.1 33.6,627.2 C36.0,627.3 37.9,627.7 40.1,628.3 C42.3,628.9 44.3,630.6 46.7,631.0 C49.1,631.4 51.6,630.8 54.3,630.5 C57.0,630.2 60.5,629.5 63.0,629.4 C65.5,629.3 68.1,629.3 69.6,629.9 C71.1,630.5 71.6,631.9 71.8,633.2 C72.0,634.5 71.8,636.3 70.7,637.6 C69.6,638.9 67.4,639.9 65.2,640.8 C63.0,641.7 60.3,642.3 57.6,643.0 C54.9,643.7 50.8,644.1 48.8,645.2 C46.8,646.3 46.7,648.2 45.6,649.6 C44.5,651.0 43.2,653.2 42.3,653.9 C41.4,654.6 40.5,654.4 40.1,653.9 C39.7,653.4 39.4,652.2 39.6,650.7 C39.8,649.2 41.5,646.9 41.2,645.2 C40.9,643.6 39.2,641.5 37.9,640.8 C36.6,640.1 35.6,640.2 33.6,640.8 C31.6,641.3 27.3,646.3 26.0,644.1 C24.7,641.9 24.7,630.5 26.0,627.7 Z" fill="#521e12"/>
<path d="M96.8,623.4 C99.5,622.2 103.4,621.5 105.6,621.5 C107.8,621.5 109.0,622.2 109.9,623.4 C110.8,624.6 111.2,626.8 111.0,628.8 C110.8,630.8 110.1,633.4 108.8,635.4 C107.5,637.4 105.4,639.3 103.4,640.8 C101.4,642.2 99.0,643.0 96.8,644.1 C94.6,645.2 92.3,646.3 90.3,647.4 C88.3,648.5 86.6,649.4 84.8,650.7 C83.0,652.0 81.0,653.5 79.4,655.0 C77.8,656.5 76.5,657.5 75.0,659.5 C73.5,661.5 72.7,664.8 70.7,667.0 C68.7,669.2 65.4,670.7 63.0,672.5 C60.6,674.3 58.9,676.9 56.5,678.0 C54.1,679.1 51.0,679.2 48.8,679.0 C46.6,678.8 44.8,678.0 43.4,676.9 C42.0,675.8 40.8,674.1 40.6,672.5 C40.4,670.9 41.8,668.6 42.3,667.0 C42.8,665.4 42.3,663.6 43.4,662.7 C44.5,661.8 46.4,662.3 48.8,661.6 C51.2,660.9 55.4,659.4 57.6,658.3 C59.8,657.2 60.6,656.1 61.9,655.0 C63.2,653.9 63.7,652.9 65.2,651.8 C66.7,650.7 69.1,649.8 70.7,648.5 C72.3,647.2 73.2,646.5 75.0,644.0 C76.8,641.5 79.2,635.7 81.6,633.2 C84.0,630.7 86.7,630.4 89.2,628.8 C91.7,627.2 94.1,624.6 96.8,623.4 Z" fill="#521e12"/>
<path d="M92.5,655.0 C94.1,654.3 96.8,652.6 97.9,652.8 C99.0,653.0 99.5,654.6 99.0,656.1 C98.5,657.6 96.2,660.0 94.7,661.6 C93.2,663.2 92.0,665.0 90.3,665.9 C88.6,666.8 86.2,667.2 84.8,667.0 C83.3,666.8 81.8,666.0 81.6,664.9 C81.4,663.8 82.6,661.8 83.7,660.5 C84.8,659.2 86.6,658.1 88.1,657.2 C89.6,656.3 90.9,655.7 92.5,655.0 Z" fill="#521e12"/>
<path d="M100.1,655.0 C101.8,653.4 104.3,651.6 106.7,650.7 C109.1,649.8 111.9,650.2 114.3,649.6 C116.7,649.0 119.0,647.6 120.9,647.4 C122.9,647.2 125.2,646.3 126.0,648.5 C126.8,650.7 127.2,657.8 126.0,660.5 C124.8,663.2 120.8,663.3 118.7,664.9 C116.6,666.5 115.0,669.0 113.2,670.3 C111.4,671.6 109.6,672.5 107.8,672.5 C106.0,672.5 103.9,671.6 102.3,670.3 C100.7,669.0 98.8,666.5 97.9,664.9 C97.0,663.3 96.4,662.1 96.8,660.5 C97.2,658.9 98.4,656.6 100.1,655.0 Z" fill="#521e12"/>
<path d="M118.7,632.1 C119.4,630.5 121.8,631.2 123.0,631.0 C124.2,630.8 125.5,628.5 126.0,631.0 C126.5,633.5 127.0,643.8 126.0,646.3 C125.0,648.8 121.0,647.2 119.8,646.3 C118.6,645.4 118.9,643.2 118.7,640.8 C118.5,638.4 118.0,633.7 118.7,632.1 Z" fill="#521e12"/>
<path d="M63.0,686.7 C62.6,684.2 62.8,681.9 64.1,680.1 C65.4,678.3 68.9,677.1 70.7,675.8 C72.5,674.5 73.5,673.4 75.0,672.5 C76.5,671.6 78.0,670.3 79.4,670.3 C80.9,670.3 82.6,671.2 83.7,672.5 C84.8,673.8 85.7,675.6 85.9,678.0 C86.1,680.4 85.9,683.9 84.8,686.7 C83.7,689.5 82.5,693.6 79.4,695.0 C76.3,696.4 69.0,696.4 66.3,695.0 C63.6,693.6 63.4,689.2 63.0,686.7 Z" fill="#521e12"/>
<path d="M90.3,676.9 C91.8,675.3 94.6,673.8 96.8,673.6 C99.0,673.4 101.8,674.3 103.4,675.8 C105.1,677.2 106.0,680.1 106.7,682.3 C107.4,684.5 108.3,686.8 107.8,688.9 C107.2,691.0 105.6,694.0 103.4,695.0 C101.2,696.0 97.1,695.8 94.7,695.0 C92.3,694.2 90.3,691.9 89.2,690.0 C88.1,688.1 87.9,685.6 88.1,683.4 C88.3,681.2 88.8,678.5 90.3,676.9 Z" fill="#521e12"/>
<path d="M114.3,684.5 C115.6,682.0 119.0,680.9 120.9,680.1 C122.9,679.3 125.2,677.1 126.0,679.6 C126.8,682.1 128.1,692.4 126.0,695.0 C123.9,697.6 115.2,696.8 113.2,695.0 C111.2,693.2 113.0,687.0 114.3,684.5 Z" fill="#521e12"/>
<path d="M30.3,663.7 C31.0,662.7 33.4,661.7 34.6,662.1 C35.8,662.5 37.2,664.5 37.4,665.9 C37.6,667.3 36.5,669.2 35.7,670.3 C34.9,671.4 33.4,672.9 32.5,672.5 C31.6,672.1 30.7,669.6 30.3,668.1 C29.9,666.6 29.6,664.7 30.3,663.7 Z" fill="#521e12"/>
<path d="M26.0,649.6 C26.9,648.5 30.4,649.0 31.4,649.6 C32.4,650.2 31.8,651.9 31.8,653.0 C31.8,654.1 32.4,655.5 31.4,656.0 C30.4,656.5 26.9,657.1 26.0,656.0 C25.1,654.9 25.1,650.7 26.0,649.6 Z" fill="#521e12"/>
<path d="M26.0,620.0 C26.9,619.1 30.5,619.5 31.4,620.0 C32.3,620.5 31.6,622.1 31.6,623.0 C31.6,623.9 32.3,625.1 31.4,625.5 C30.5,625.9 26.9,626.4 26.0,625.5 C25.1,624.6 25.1,620.9 26.0,620.0 Z" fill="#521e12"/>
</g></g>
<ellipse cx="77" cy="683" rx="1.6" ry="1.2" fill="#d8c8c0" opacity="0.6" filter="url(#softF)"/>
<ellipse cx="75" cy="686" rx="1.0" ry="1.6" fill="#d8c8c0" opacity="0.6" filter="url(#softF)"/>
<ellipse cx="97" cy="684" rx="1.4" ry="1.0" fill="#d8c8c0" opacity="0.6" filter="url(#softF)"/>
<ellipse cx="104" cy="663" rx="1.2" ry="1.6" fill="#d8c8c0" opacity="0.6" filter="url(#softF)"/>
<ellipse cx="91" cy="636" rx="1.0" ry="0.8" fill="#d8c8c0" opacity="0.6" filter="url(#softF)"/>
<ellipse cx="84" cy="641" rx="1.2" ry="0.9" fill="#d8c8c0" opacity="0.6" filter="url(#softF)"/>
<ellipse cx="50" cy="665" rx="1.0" ry="1.3" fill="#d8c8c0" opacity="0.6" filter="url(#softF)"/>
<ellipse cx="36" cy="631" rx="1.5" ry="1.0" fill="#d8c8c0" opacity="0.6" filter="url(#softF)"/>
<ellipse cx="44" cy="672" rx="1.2" ry="0.8" fill="#d8c8c0" opacity="0.6" filter="url(#softF)"/>
<ellipse cx="119" cy="645" rx="1.0" ry="1.4" fill="#d8c8c0" opacity="0.6" filter="url(#softF)"/>
<ellipse cx="98" cy="678" rx="0.9" ry="0.9" fill="#d8c8c0" opacity="0.6" filter="url(#softF)"/>
<ellipse cx="64" cy="680" rx="1.0" ry="1.5" fill="#d8c8c0" opacity="0.6" filter="url(#softF)"/>
</g>
<rect x="28.3" y="621.3" width="95.4" height="72" fill="none" stroke="#8a8a8a" stroke-width="0.8"/>
<text x="113.2" y="692.2" font-size="6.4" font-weight="bold" fill="#1a1a1a" stroke="#1a1a1a" stroke-width="0.35">20X</text>
<defs><filter color-interpolation-filters="sRGB" id="bl20" x="-20%" y="-20%" width="140%" height="140%"><feGaussianBlur stdDeviation="1.8"/></filter></defs>
<g clip-path="url(#cf4)">
<rect x="128" y="620" width="98" height="75" fill="#c2b4ac"/>
<g filter="url(#bl20)" stroke="#b6c0c8" fill="none" stroke-linecap="round" stroke-linejoin="round">
<path d="M125,660 L146.2,646.8 L165.5,637.2 L184.7,629.5 L200,624" stroke-width="8.5"/>
<path d="M161.6,652.6 L177,645 L192.4,639.2" stroke-width="5.5"/>
<path d="M209.7,619 L211.6,637.2 L217.4,656.5 L226,670" stroke-width="6.5"/>
<path d="M175,666 L178.9,679.5 L182.8,696" stroke-width="6"/>
<path d="M140,620 L146.2,622 L165.5,625.7" stroke-width="5"/>
<path d="M195,660 L205,672 L214,690" stroke-width="4.5"/>
<path d="M128,680 L140,672 L150,668" stroke-width="5"/>
</g>
<g filter="url(#bl20)">
<ellipse cx="192" cy="650" rx="9" ry="7" fill="#c6a89a"/>
<ellipse cx="204" cy="640" rx="6" ry="5" fill="#c4aa9e"/>
<ellipse cx="170" cy="684" rx="7" ry="6" fill="#c2a89c"/>
<ellipse cx="200" cy="684" rx="7" ry="5" fill="#c4ac9e"/>
<ellipse cx="150" cy="633" rx="8" ry="5" fill="#c4b0a6"/>
<ellipse cx="188" cy="625" rx="8" ry="4" fill="#c6b2a8"/>
</g>
<defs><filter color-interpolation-filters="sRGB" id="mott" x="0" y="0" width="100%" height="100%"><feTurbulence type="fractalNoise" baseFrequency="0.12 0.09" numOctaves="3" seed="17"/><feColorMatrix type="matrix" values="0.12 0 0 0 0.68  -0.24 0 0 0 0.86  -0.4 0 0 0 0.97  0 0 0 0 1"/></filter></defs>
<rect x="129.3" y="620.9" width="94.5" height="72.5" filter="url(#mott)" opacity="0.5"/>
</g>
<g clip-path="url(#cf4i)"><g filter="url(#softF)">
<rect x="129.3" y="661.3" width="32" height="32.1" fill="#a7bac6"/>
<line x1="132" y1="668" x2="137" y2="676" stroke="#7aa4c6" stroke-width="3" stroke-linecap="round"/>
<line x1="140" y1="664" x2="145" y2="672" stroke="#7aa4c6" stroke-width="3" stroke-linecap="round"/>
<line x1="148" y1="666" x2="153" y2="676" stroke="#7aa4c6" stroke-width="3" stroke-linecap="round"/>
<line x1="133" y1="680" x2="139" y2="688" stroke="#7aa4c6" stroke-width="3" stroke-linecap="round"/>
<line x1="143" y1="678" x2="149" y2="690" stroke="#7aa4c6" stroke-width="3" stroke-linecap="round"/>
<line x1="152" y1="680" x2="157" y2="688" stroke="#7aa4c6" stroke-width="3" stroke-linecap="round"/>
<line x1="156" y1="664" x2="160" y2="672" stroke="#7aa4c6" stroke-width="3" stroke-linecap="round"/>
<line x1="137" y1="690" x2="141" y2="694" stroke="#7aa4c6" stroke-width="3" stroke-linecap="round"/>
<line x1="130" y1="688" x2="133" y2="693" stroke="#7aa4c6" stroke-width="3" stroke-linecap="round"/>
<circle cx="146" cy="667" r="1.5" fill="#a27a64"/>
<circle cx="152" cy="674" r="1.5" fill="#a27a64"/>
<circle cx="138" cy="684" r="1.5" fill="#a27a64"/>
<circle cx="157" cy="684" r="1.5" fill="#a27a64"/>
<circle cx="135" cy="665" r="1.5" fill="#a27a64"/>
</g></g>
<rect x="129.6" y="661.3" width="31.7" height="31.9" fill="none" stroke="#4a3a30" stroke-width="0.8"/>
<rect x="129.6" y="621.2" width="93.9" height="71.9" fill="none" stroke="#8a8a8a" stroke-width="0.8"/>
<text x="212.6" y="691.8" font-size="6.6" font-weight="bold" fill="#1a1a1a" stroke="#1a1a1a" stroke-width="0.35">20X</text>
</svg>
</body></html>
